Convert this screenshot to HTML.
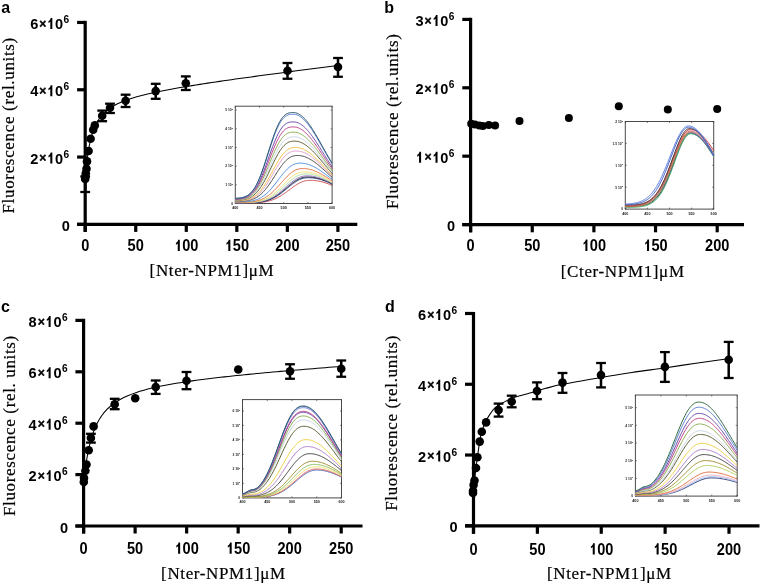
<!DOCTYPE html><html><head><meta charset="utf-8"><style>html,body{margin:0;padding:0;background:#fff;}svg{display:block;will-change:transform}</style></head><body>
<svg width="761" height="585" viewBox="0 0 761 585">
<rect width="761" height="585" fill="#fff"/>
<line x1="85.2" y1="20.85" x2="85.2" y2="231.90" stroke="#000" stroke-width="3.2"/>
<line x1="77.10" y1="224.35" x2="357.3" y2="224.35" stroke="#000" stroke-width="3.2"/>
<line x1="77.10" y1="224.35" x2="85.2" y2="224.35" stroke="#000" stroke-width="3.2"/>
<text transform="translate(61.70,230.85) scale(1,1.06)" font-family='"Liberation Sans", sans-serif' font-weight="bold" font-size="14.6">0</text>
<line x1="77.10" y1="157.05" x2="85.2" y2="157.05" stroke="#000" stroke-width="3.2"/>
<text transform="translate(30.20,163.55) scale(1,1.06)" font-family='"Liberation Sans", sans-serif' font-weight="bold" font-size="14.6">2</text>
<text x="39.35" y="162.20" font-family='"Liberation Sans", sans-serif' font-weight="bold" font-size="12.2" stroke="#000" stroke-width="0.35">×</text>
<path d="M52.34,163.55 L50.30,163.55 L50.30,156.28 C49.57,156.90 49.13,157.20 48.47,157.51 L48.47,155.66 C49.57,155.19 50.37,154.26 50.74,152.59 L52.34,152.59 Z" fill="#000"/>
<text transform="translate(55.10,163.55) scale(1,1.06)" font-family='"Liberation Sans", sans-serif' font-weight="bold" font-size="14.6">0</text>
<text transform="translate(63.60,157.55) scale(1,1.06)" font-family='"Liberation Sans", sans-serif' font-weight="bold" font-size="10.2">6</text>
<line x1="77.10" y1="89.75" x2="85.2" y2="89.75" stroke="#000" stroke-width="3.2"/>
<text transform="translate(30.20,96.25) scale(1,1.06)" font-family='"Liberation Sans", sans-serif' font-weight="bold" font-size="14.6">4</text>
<text x="39.35" y="94.90" font-family='"Liberation Sans", sans-serif' font-weight="bold" font-size="12.2" stroke="#000" stroke-width="0.35">×</text>
<path d="M52.34,96.25 L50.30,96.25 L50.30,88.98 C49.57,89.60 49.13,89.90 48.47,90.21 L48.47,88.36 C49.57,87.89 50.37,86.96 50.74,85.29 L52.34,85.29 Z" fill="#000"/>
<text transform="translate(55.10,96.25) scale(1,1.06)" font-family='"Liberation Sans", sans-serif' font-weight="bold" font-size="14.6">0</text>
<text transform="translate(63.60,90.25) scale(1,1.06)" font-family='"Liberation Sans", sans-serif' font-weight="bold" font-size="10.2">6</text>
<line x1="77.10" y1="22.45" x2="85.2" y2="22.45" stroke="#000" stroke-width="3.2"/>
<text transform="translate(30.20,28.95) scale(1,1.06)" font-family='"Liberation Sans", sans-serif' font-weight="bold" font-size="14.6">6</text>
<text x="39.35" y="27.60" font-family='"Liberation Sans", sans-serif' font-weight="bold" font-size="12.2" stroke="#000" stroke-width="0.35">×</text>
<path d="M52.34,28.95 L50.30,28.95 L50.30,21.68 C49.57,22.30 49.13,22.60 48.47,22.91 L48.47,21.06 C49.57,20.59 50.37,19.66 50.74,17.99 L52.34,17.99 Z" fill="#000"/>
<text transform="translate(55.10,28.95) scale(1,1.06)" font-family='"Liberation Sans", sans-serif' font-weight="bold" font-size="14.6">0</text>
<text transform="translate(63.60,22.95) scale(1,1.06)" font-family='"Liberation Sans", sans-serif' font-weight="bold" font-size="10.2">6</text>
<line x1="85.20" y1="224.35" x2="85.20" y2="231.90" stroke="#000" stroke-width="3.2"/>
<text transform="translate(81.14,251.00) scale(1,1.1)" font-family='"Liberation Sans", sans-serif' font-weight="bold" font-size="14.6">0</text>
<line x1="135.74" y1="224.35" x2="135.74" y2="231.90" stroke="#000" stroke-width="3.2"/>
<text transform="translate(127.62,251.00) scale(1,1.1)" font-family='"Liberation Sans", sans-serif' font-weight="bold" font-size="14.6">5</text>
<text transform="translate(135.74,251.00) scale(1,1.1)" font-family='"Liberation Sans", sans-serif' font-weight="bold" font-size="14.6">0</text>
<line x1="186.28" y1="224.35" x2="186.28" y2="231.90" stroke="#000" stroke-width="3.2"/>
<path d="M179.80,251.00 L177.75,251.00 L177.75,243.45 C177.02,244.09 176.59,244.42 175.93,244.74 L175.93,242.81 C177.02,242.33 177.83,241.36 178.19,239.63 L179.80,239.63 Z" fill="#000"/>
<text transform="translate(182.22,251.00) scale(1,1.1)" font-family='"Liberation Sans", sans-serif' font-weight="bold" font-size="14.6">0</text>
<text transform="translate(190.34,251.00) scale(1,1.1)" font-family='"Liberation Sans", sans-serif' font-weight="bold" font-size="14.6">0</text>
<line x1="236.82" y1="224.35" x2="236.82" y2="231.90" stroke="#000" stroke-width="3.2"/>
<path d="M230.34,251.00 L228.29,251.00 L228.29,243.45 C227.56,244.09 227.13,244.42 226.47,244.74 L226.47,242.81 C227.56,242.33 228.37,241.36 228.73,239.63 L230.34,239.63 Z" fill="#000"/>
<text transform="translate(232.76,251.00) scale(1,1.1)" font-family='"Liberation Sans", sans-serif' font-weight="bold" font-size="14.6">5</text>
<text transform="translate(240.88,251.00) scale(1,1.1)" font-family='"Liberation Sans", sans-serif' font-weight="bold" font-size="14.6">0</text>
<line x1="287.36" y1="224.35" x2="287.36" y2="231.90" stroke="#000" stroke-width="3.2"/>
<text transform="translate(275.18,251.00) scale(1,1.1)" font-family='"Liberation Sans", sans-serif' font-weight="bold" font-size="14.6">2</text>
<text transform="translate(283.30,251.00) scale(1,1.1)" font-family='"Liberation Sans", sans-serif' font-weight="bold" font-size="14.6">0</text>
<text transform="translate(291.42,251.00) scale(1,1.1)" font-family='"Liberation Sans", sans-serif' font-weight="bold" font-size="14.6">0</text>
<line x1="337.90" y1="224.35" x2="337.90" y2="231.90" stroke="#000" stroke-width="3.2"/>
<text transform="translate(325.72,251.00) scale(1,1.1)" font-family='"Liberation Sans", sans-serif' font-weight="bold" font-size="14.6">2</text>
<text transform="translate(333.84,251.00) scale(1,1.1)" font-family='"Liberation Sans", sans-serif' font-weight="bold" font-size="14.6">5</text>
<text transform="translate(341.96,251.00) scale(1,1.1)" font-family='"Liberation Sans", sans-serif' font-weight="bold" font-size="14.6">0</text>
<text x="149.6" y="276.3" font-family='"Liberation Serif", serif' font-size="17.0" stroke="#000" stroke-width="0.2" textLength="124" lengthAdjust="spacing">[Nter-NPM1]μM</text>
<text transform="translate(13.6,213.5) rotate(-90)" x="0" y="0" font-family='"Liberation Serif", serif' font-size="17.0" stroke="#000" stroke-width="0.2" textLength="175.8" lengthAdjust="spacing">Fluorescence (rel.units)</text>
<text x="1.24" y="13.05" font-family='"Liberation Sans", sans-serif' font-weight="bold" font-size="16">a</text>
<path d="M85.20,180.44 L85.54,175.98 L85.88,171.94 L86.22,168.28 L86.56,164.93 L86.89,161.86 L87.23,159.04 L87.57,156.44 L87.91,154.03 L88.25,151.78 L88.59,149.70 L88.93,147.75 L89.27,145.92 L89.61,144.21 L89.95,142.60 L90.28,141.08 L90.62,139.65 L90.96,138.30 L91.30,137.02 L91.64,135.80 L91.98,134.65 L92.32,133.55 L92.66,132.50 L93.00,131.50 L93.34,130.55 L93.67,129.64 L94.01,128.76 L94.35,127.93 L94.69,127.12 L95.03,126.35 L95.37,125.61 L95.71,124.90 L96.05,124.22 L96.39,123.56 L96.73,122.92 L97.06,122.30 L97.40,121.71 L97.74,121.14 L98.08,120.58 L98.42,120.04 L98.76,119.52 L99.10,119.02 L99.44,118.53 L99.78,118.06 L100.12,117.60 L100.45,117.15 L100.79,116.71 L101.13,116.29 L101.47,115.88 L101.81,115.48 L102.15,115.09 L102.49,114.71 L102.83,114.34 L103.17,113.98 L103.51,113.63 L103.84,113.28 L104.18,112.95 L104.52,112.62 L104.86,112.30 L105.20,111.99 L105.20,111.99 L109.15,108.79 L113.09,106.23 L117.04,104.09 L120.98,102.27 L124.93,100.68 L128.87,99.27 L132.82,98.00 L136.77,96.83 L140.71,95.76 L144.66,94.75 L148.60,93.81 L152.55,92.92 L156.49,92.07 L160.44,91.26 L164.39,90.47 L168.33,89.72 L172.28,88.99 L176.22,88.28 L180.17,87.59 L184.12,86.92 L188.06,86.26 L192.01,85.62 L195.95,84.98 L199.90,84.36 L203.84,83.75 L207.79,83.14 L211.74,82.55 L215.68,81.96 L219.63,81.38 L223.57,80.80 L227.52,80.23 L231.46,79.66 L235.41,79.10 L239.36,78.55 L243.30,78.00 L247.25,77.45 L251.19,76.90 L255.14,76.36 L259.08,75.83 L263.03,75.29 L266.98,74.76 L270.92,74.23 L274.87,73.70 L278.81,73.18 L282.76,72.65 L286.71,72.13 L290.65,71.61 L294.60,71.10 L298.54,70.58 L302.49,70.07 L306.43,69.56 L310.38,69.05 L314.33,68.54 L318.27,68.03 L322.22,67.52 L326.16,67.02 L330.11,66.51 L334.05,66.01 L338.00,65.51" fill="none" stroke="#000" stroke-width="1.05"/>
<line x1="85.2" y1="176.5" x2="85.2" y2="192" stroke="#000" stroke-width="2.5"/>
<line x1="80.3" y1="176.5" x2="90.10000000000001" y2="176.5" stroke="#000" stroke-width="2.3"/>
<line x1="80.3" y1="192" x2="90.10000000000001" y2="192" stroke="#000" stroke-width="2.3"/>
<line x1="102.2" y1="110.6" x2="102.2" y2="121.2" stroke="#000" stroke-width="2.5"/>
<line x1="97.3" y1="110.6" x2="107.10000000000001" y2="110.6" stroke="#000" stroke-width="2.3"/>
<line x1="97.3" y1="121.2" x2="107.10000000000001" y2="121.2" stroke="#000" stroke-width="2.3"/>
<line x1="110" y1="103.7" x2="110" y2="113" stroke="#000" stroke-width="2.5"/>
<line x1="105.1" y1="103.7" x2="114.9" y2="103.7" stroke="#000" stroke-width="2.3"/>
<line x1="105.1" y1="113" x2="114.9" y2="113" stroke="#000" stroke-width="2.3"/>
<line x1="125.6" y1="94.7" x2="125.6" y2="107" stroke="#000" stroke-width="2.5"/>
<line x1="120.69999999999999" y1="94.7" x2="130.5" y2="94.7" stroke="#000" stroke-width="2.3"/>
<line x1="120.69999999999999" y1="107" x2="130.5" y2="107" stroke="#000" stroke-width="2.3"/>
<line x1="155.7" y1="83.8" x2="155.7" y2="98.8" stroke="#000" stroke-width="2.5"/>
<line x1="150.79999999999998" y1="83.8" x2="160.6" y2="83.8" stroke="#000" stroke-width="2.3"/>
<line x1="150.79999999999998" y1="98.8" x2="160.6" y2="98.8" stroke="#000" stroke-width="2.3"/>
<line x1="185.8" y1="76.4" x2="185.8" y2="90" stroke="#000" stroke-width="2.5"/>
<line x1="180.9" y1="76.4" x2="190.70000000000002" y2="76.4" stroke="#000" stroke-width="2.3"/>
<line x1="180.9" y1="90" x2="190.70000000000002" y2="90" stroke="#000" stroke-width="2.3"/>
<line x1="287.5" y1="63" x2="287.5" y2="78.75" stroke="#000" stroke-width="2.5"/>
<line x1="282.6" y1="63" x2="292.4" y2="63" stroke="#000" stroke-width="2.3"/>
<line x1="282.6" y1="78.75" x2="292.4" y2="78.75" stroke="#000" stroke-width="2.3"/>
<line x1="338" y1="58" x2="338" y2="76.75" stroke="#000" stroke-width="2.5"/>
<line x1="333.1" y1="58" x2="342.9" y2="58" stroke="#000" stroke-width="2.3"/>
<line x1="333.1" y1="76.75" x2="342.9" y2="76.75" stroke="#000" stroke-width="2.3"/>
<circle cx="85.2" cy="179" r="4.3" fill="#000"/>
<circle cx="85.4" cy="176.5" r="4.3" fill="#000"/>
<circle cx="85.8" cy="173.3" r="4.3" fill="#000"/>
<circle cx="86.5" cy="168.7" r="4.3" fill="#000"/>
<circle cx="87" cy="161.4" r="4.3" fill="#000"/>
<circle cx="88.6" cy="151" r="4.3" fill="#000"/>
<circle cx="90.6" cy="138.8" r="4.3" fill="#000"/>
<circle cx="93.2" cy="129.7" r="4.3" fill="#000"/>
<circle cx="94.8" cy="125.4" r="4.3" fill="#000"/>
<circle cx="102.2" cy="115.8" r="4.3" fill="#000"/>
<circle cx="110" cy="107.8" r="4.3" fill="#000"/>
<circle cx="125.6" cy="100.7" r="4.3" fill="#000"/>
<circle cx="155.7" cy="91.1" r="4.3" fill="#000"/>
<circle cx="185.8" cy="83.2" r="4.3" fill="#000"/>
<circle cx="287.5" cy="70.75" r="4.3" fill="#000"/>
<circle cx="338" cy="67" r="4.3" fill="#000"/>
<rect x="235.3" y="106.2" width="96.80000000000001" height="97.3" fill="#fff" stroke="#4a4a4a" stroke-width="1.0"/>
<line x1="235.3" y1="203.5" x2="235.3" y2="202.0" stroke="#333" stroke-width="0.6"/>
<line x1="235.3" y1="106.2" x2="235.3" y2="107.7" stroke="#333" stroke-width="0.6"/>
<text x="235.3" y="208.9" text-anchor="middle" font-family='"Liberation Sans", sans-serif' font-weight="bold" font-size="3.7" fill="#1a1a1a">400</text>
<line x1="259.5" y1="203.5" x2="259.5" y2="202.0" stroke="#333" stroke-width="0.6"/>
<line x1="259.5" y1="106.2" x2="259.5" y2="107.7" stroke="#333" stroke-width="0.6"/>
<text x="259.5" y="208.9" text-anchor="middle" font-family='"Liberation Sans", sans-serif' font-weight="bold" font-size="3.7" fill="#1a1a1a">450</text>
<line x1="283.70000000000005" y1="203.5" x2="283.70000000000005" y2="202.0" stroke="#333" stroke-width="0.6"/>
<line x1="283.70000000000005" y1="106.2" x2="283.70000000000005" y2="107.7" stroke="#333" stroke-width="0.6"/>
<text x="283.70000000000005" y="208.9" text-anchor="middle" font-family='"Liberation Sans", sans-serif' font-weight="bold" font-size="3.7" fill="#1a1a1a">500</text>
<line x1="307.90000000000003" y1="203.5" x2="307.90000000000003" y2="202.0" stroke="#333" stroke-width="0.6"/>
<line x1="307.90000000000003" y1="106.2" x2="307.90000000000003" y2="107.7" stroke="#333" stroke-width="0.6"/>
<text x="307.90000000000003" y="208.9" text-anchor="middle" font-family='"Liberation Sans", sans-serif' font-weight="bold" font-size="3.7" fill="#1a1a1a">550</text>
<line x1="332.1" y1="203.5" x2="332.1" y2="202.0" stroke="#333" stroke-width="0.6"/>
<line x1="332.1" y1="106.2" x2="332.1" y2="107.7" stroke="#333" stroke-width="0.6"/>
<text x="332.1" y="208.9" text-anchor="middle" font-family='"Liberation Sans", sans-serif' font-weight="bold" font-size="3.7" fill="#1a1a1a">600</text>
<line x1="235.3" y1="203.5" x2="236.8" y2="203.5" stroke="#333" stroke-width="0.6"/>
<line x1="332.1" y1="203.5" x2="330.6" y2="203.5" stroke="#333" stroke-width="0.6"/>
<text x="233.0" y="204.8" text-anchor="end" font-family='"Liberation Sans", sans-serif' font-weight="bold" font-size="3.3" fill="#1a1a1a">0</text>
<line x1="235.3" y1="184.82437619961613" x2="236.8" y2="184.82437619961613" stroke="#333" stroke-width="0.6"/>
<line x1="332.1" y1="184.82437619961613" x2="330.6" y2="184.82437619961613" stroke="#333" stroke-width="0.6"/>
<text x="233.0" y="186.12437619961614" text-anchor="end" font-family='"Liberation Sans", sans-serif' font-weight="bold" font-size="3.3" fill="#1a1a1a">1 10<tspan dy="-1.3" font-size="2.4">6</tspan></text>
<line x1="235.3" y1="166.14875239923225" x2="236.8" y2="166.14875239923225" stroke="#333" stroke-width="0.6"/>
<line x1="332.1" y1="166.14875239923225" x2="330.6" y2="166.14875239923225" stroke="#333" stroke-width="0.6"/>
<text x="233.0" y="167.44875239923226" text-anchor="end" font-family='"Liberation Sans", sans-serif' font-weight="bold" font-size="3.3" fill="#1a1a1a">2 10<tspan dy="-1.3" font-size="2.4">6</tspan></text>
<line x1="235.3" y1="147.47312859884838" x2="236.8" y2="147.47312859884838" stroke="#333" stroke-width="0.6"/>
<line x1="332.1" y1="147.47312859884838" x2="330.6" y2="147.47312859884838" stroke="#333" stroke-width="0.6"/>
<text x="233.0" y="148.7731285988484" text-anchor="end" font-family='"Liberation Sans", sans-serif' font-weight="bold" font-size="3.3" fill="#1a1a1a">3 10<tspan dy="-1.3" font-size="2.4">6</tspan></text>
<line x1="235.3" y1="128.7975047984645" x2="236.8" y2="128.7975047984645" stroke="#333" stroke-width="0.6"/>
<line x1="332.1" y1="128.7975047984645" x2="330.6" y2="128.7975047984645" stroke="#333" stroke-width="0.6"/>
<text x="233.0" y="130.0975047984645" text-anchor="end" font-family='"Liberation Sans", sans-serif' font-weight="bold" font-size="3.3" fill="#1a1a1a">4 10<tspan dy="-1.3" font-size="2.4">6</tspan></text>
<line x1="235.3" y1="110.12188099808061" x2="236.8" y2="110.12188099808061" stroke="#333" stroke-width="0.6"/>
<line x1="332.1" y1="110.12188099808061" x2="330.6" y2="110.12188099808061" stroke="#333" stroke-width="0.6"/>
<text x="233.0" y="111.42188099808061" text-anchor="end" font-family='"Liberation Sans", sans-serif' font-weight="bold" font-size="3.3" fill="#1a1a1a">5 10<tspan dy="-1.3" font-size="2.4">6</tspan></text>
<path d="M235.30,203.12 L236.11,203.12 L236.93,203.12 L237.74,203.12 L238.55,203.12 L239.37,203.12 L240.18,203.12 L240.99,203.11 L241.81,203.11 L242.62,203.11 L243.43,203.10 L244.25,203.10 L245.06,203.09 L245.87,203.09 L246.69,203.08 L247.50,203.07 L248.32,203.06 L249.13,203.05 L249.94,203.03 L250.76,203.02 L251.57,203.00 L252.38,202.97 L253.20,202.95 L254.01,202.92 L254.82,202.89 L255.64,202.85 L256.45,202.81 L257.26,202.76 L258.08,202.70 L258.89,202.64 L259.70,202.57 L260.52,202.50 L261.33,202.41 L262.14,202.32 L262.96,202.21 L263.77,202.09 L264.58,201.97 L265.40,201.82 L266.21,201.67 L267.02,201.50 L267.84,201.31 L268.65,201.11 L269.46,200.89 L270.28,200.66 L271.09,200.40 L271.91,200.13 L272.72,199.83 L273.53,199.52 L274.35,199.19 L275.16,198.83 L275.97,198.46 L276.79,198.06 L277.60,197.65 L278.41,197.21 L279.23,196.75 L280.04,196.27 L280.85,195.78 L281.67,195.26 L282.48,194.73 L283.29,194.19 L284.11,193.63 L284.92,193.05 L285.73,192.47 L286.55,191.88 L287.36,191.27 L288.17,190.67 L288.99,190.06 L289.80,189.45 L290.61,188.84 L291.43,188.24 L292.24,187.64 L293.05,187.06 L293.87,186.48 L294.68,185.92 L295.49,185.38 L296.31,184.85 L297.12,184.35 L297.94,183.87 L298.75,183.41 L299.56,182.99 L300.38,182.59 L301.19,182.22 L302.00,181.88 L302.82,181.58 L303.63,181.31 L304.44,181.07 L305.26,180.87 L306.07,180.70 L306.88,180.57 L307.70,180.47 L308.51,180.40 L309.32,180.36 L310.14,180.34 L310.95,180.35 L311.76,180.37 L312.58,180.40 L313.39,180.45 L314.20,180.52 L315.02,180.60 L315.83,180.70 L316.64,180.81 L317.46,180.94 L318.27,181.08 L319.08,181.24 L319.90,181.41 L320.71,181.59 L321.53,181.79 L322.34,181.99 L323.15,182.22 L323.97,182.45 L324.78,182.69 L325.59,182.95 L326.41,183.22 L327.22,183.49 L328.03,183.78 L328.85,184.07 L329.66,184.38 L330.47,184.69 L331.29,185.01 L332.10,185.33" fill="none" stroke="#d05050" stroke-width="1.0"/>
<path d="M235.30,202.94 L236.11,202.94 L236.93,202.94 L237.74,202.94 L238.55,202.93 L239.37,202.93 L240.18,202.93 L240.99,202.93 L241.81,202.92 L242.62,202.92 L243.43,202.91 L244.25,202.90 L245.06,202.89 L245.87,202.88 L246.69,202.87 L247.50,202.86 L248.32,202.84 L249.13,202.83 L249.94,202.80 L250.76,202.78 L251.57,202.75 L252.38,202.72 L253.20,202.68 L254.01,202.64 L254.82,202.59 L255.64,202.54 L256.45,202.48 L257.26,202.41 L258.08,202.33 L258.89,202.24 L259.70,202.15 L260.52,202.04 L261.33,201.92 L262.14,201.78 L262.96,201.64 L263.77,201.48 L264.58,201.30 L265.40,201.11 L266.21,200.89 L267.02,200.66 L267.84,200.41 L268.65,200.15 L269.46,199.85 L270.28,199.54 L271.09,199.21 L271.91,198.85 L272.72,198.47 L273.53,198.07 L274.35,197.64 L275.16,197.19 L275.97,196.72 L276.79,196.22 L277.60,195.70 L278.41,195.16 L279.23,194.60 L280.04,194.02 L280.85,193.42 L281.67,192.80 L282.48,192.17 L283.29,191.53 L284.11,190.87 L284.92,190.21 L285.73,189.53 L286.55,188.86 L287.36,188.18 L288.17,187.50 L288.99,186.83 L289.80,186.16 L290.61,185.50 L291.43,184.86 L292.24,184.23 L293.05,183.61 L293.87,183.02 L294.68,182.45 L295.49,181.90 L296.31,181.38 L297.12,180.90 L297.94,180.44 L298.75,180.01 L299.56,179.62 L300.38,179.27 L301.19,178.95 L302.00,178.67 L302.82,178.43 L303.63,178.23 L304.44,178.06 L305.26,177.93 L306.07,177.83 L306.88,177.77 L307.70,177.74 L308.51,177.73 L309.32,177.74 L310.14,177.77 L310.95,177.81 L311.76,177.87 L312.58,177.95 L313.39,178.05 L314.20,178.16 L315.02,178.29 L315.83,178.44 L316.64,178.60 L317.46,178.78 L318.27,178.97 L319.08,179.18 L319.90,179.40 L320.71,179.64 L321.53,179.89 L322.34,180.16 L323.15,180.43 L323.97,180.72 L324.78,181.02 L325.59,181.33 L326.41,181.65 L327.22,181.98 L328.03,182.32 L328.85,182.67 L329.66,183.03 L330.47,183.39 L331.29,183.76 L332.10,184.14" fill="none" stroke="#3050a0" stroke-width="1.0"/>
<path d="M235.30,202.89 L236.11,202.89 L236.93,202.89 L237.74,202.88 L238.55,202.88 L239.37,202.88 L240.18,202.88 L240.99,202.87 L241.81,202.87 L242.62,202.86 L243.43,202.85 L244.25,202.85 L245.06,202.84 L245.87,202.83 L246.69,202.81 L247.50,202.80 L248.32,202.78 L249.13,202.76 L249.94,202.74 L250.76,202.71 L251.57,202.68 L252.38,202.64 L253.20,202.60 L254.01,202.55 L254.82,202.50 L255.64,202.44 L256.45,202.37 L257.26,202.30 L258.08,202.21 L258.89,202.12 L259.70,202.01 L260.52,201.89 L261.33,201.76 L262.14,201.62 L262.96,201.46 L263.77,201.28 L264.58,201.09 L265.40,200.88 L266.21,200.65 L267.02,200.40 L267.84,200.13 L268.65,199.84 L269.46,199.52 L270.28,199.19 L271.09,198.83 L271.91,198.45 L272.72,198.04 L273.53,197.61 L274.35,197.15 L275.16,196.67 L275.97,196.17 L276.79,195.64 L277.60,195.09 L278.41,194.52 L279.23,193.93 L280.04,193.32 L280.85,192.69 L281.67,192.05 L282.48,191.39 L283.29,190.72 L284.11,190.03 L284.92,189.34 L285.73,188.65 L286.55,187.95 L287.36,187.25 L288.17,186.56 L288.99,185.87 L289.80,185.19 L290.61,184.52 L291.43,183.87 L292.24,183.23 L293.05,182.61 L293.87,182.02 L294.68,181.45 L295.49,180.91 L296.31,180.40 L297.12,179.91 L297.94,179.47 L298.75,179.06 L299.56,178.68 L300.38,178.34 L301.19,178.04 L302.00,177.78 L302.82,177.56 L303.63,177.38 L304.44,177.23 L305.26,177.12 L306.07,177.04 L306.88,177.00 L307.70,176.98 L308.51,176.99 L309.32,177.01 L310.14,177.05 L310.95,177.10 L311.76,177.18 L312.58,177.27 L313.39,177.38 L314.20,177.51 L315.02,177.66 L315.83,177.82 L316.64,177.99 L317.46,178.19 L318.27,178.40 L319.08,178.62 L319.90,178.86 L320.71,179.11 L321.53,179.38 L322.34,179.66 L323.15,179.95 L323.97,180.25 L324.78,180.57 L325.59,180.89 L326.41,181.23 L327.22,181.58 L328.03,181.93 L328.85,182.30 L329.66,182.67 L330.47,183.05 L331.29,183.43 L332.10,183.82" fill="none" stroke="#222222" stroke-width="1.0"/>
<path d="M235.30,202.81 L236.11,202.81 L236.93,202.81 L237.74,202.81 L238.55,202.80 L239.37,202.80 L240.18,202.80 L240.99,202.79 L241.81,202.78 L242.62,202.78 L243.43,202.77 L244.25,202.76 L245.06,202.75 L245.87,202.74 L246.69,202.72 L247.50,202.70 L248.32,202.68 L249.13,202.66 L249.94,202.63 L250.76,202.60 L251.57,202.56 L252.38,202.52 L253.20,202.47 L254.01,202.42 L254.82,202.36 L255.64,202.29 L256.45,202.21 L257.26,202.12 L258.08,202.03 L258.89,201.92 L259.70,201.80 L260.52,201.66 L261.33,201.51 L262.14,201.35 L262.96,201.16 L263.77,200.96 L264.58,200.75 L265.40,200.51 L266.21,200.25 L267.02,199.97 L267.84,199.67 L268.65,199.35 L269.46,199.00 L270.28,198.63 L271.09,198.23 L271.91,197.80 L272.72,197.36 L273.53,196.88 L274.35,196.38 L275.16,195.86 L275.97,195.31 L276.79,194.74 L277.60,194.14 L278.41,193.53 L279.23,192.89 L280.04,192.24 L280.85,191.56 L281.67,190.88 L282.48,190.18 L283.29,189.46 L284.11,188.74 L284.92,188.02 L285.73,187.29 L286.55,186.57 L287.36,185.84 L288.17,185.12 L288.99,184.41 L289.80,183.72 L290.61,183.03 L291.43,182.37 L292.24,181.73 L293.05,181.11 L293.87,180.52 L294.68,179.95 L295.49,179.42 L296.31,178.92 L297.12,178.45 L297.94,178.03 L298.75,177.64 L299.56,177.28 L300.38,176.97 L301.19,176.70 L302.00,176.47 L302.82,176.28 L303.63,176.12 L304.44,176.01 L305.26,175.93 L306.07,175.88 L306.88,175.86 L307.70,175.86 L308.51,175.89 L309.32,175.93 L310.14,175.98 L310.95,176.06 L311.76,176.16 L312.58,176.27 L313.39,176.40 L314.20,176.55 L315.02,176.72 L315.83,176.90 L316.64,177.10 L317.46,177.32 L318.27,177.55 L319.08,177.80 L319.90,178.06 L320.71,178.33 L321.53,178.62 L322.34,178.93 L323.15,179.24 L323.97,179.57 L324.78,179.91 L325.59,180.26 L326.41,180.62 L327.22,180.99 L328.03,181.37 L328.85,181.75 L329.66,182.15 L330.47,182.55 L331.29,182.95 L332.10,183.37" fill="none" stroke="#9070c0" stroke-width="1.0"/>
<path d="M235.30,202.68 L236.11,202.68 L236.93,202.68 L237.74,202.67 L238.55,202.67 L239.37,202.66 L240.18,202.66 L240.99,202.65 L241.81,202.65 L242.62,202.64 L243.43,202.63 L244.25,202.61 L245.06,202.60 L245.87,202.58 L246.69,202.56 L247.50,202.54 L248.32,202.51 L249.13,202.48 L249.94,202.45 L250.76,202.41 L251.57,202.36 L252.38,202.31 L253.20,202.25 L254.01,202.18 L254.82,202.11 L255.64,202.02 L256.45,201.92 L257.26,201.81 L258.08,201.69 L258.89,201.56 L259.70,201.40 L260.52,201.24 L261.33,201.05 L262.14,200.85 L262.96,200.63 L263.77,200.39 L264.58,200.13 L265.40,199.84 L266.21,199.53 L267.02,199.20 L267.84,198.84 L268.65,198.45 L269.46,198.04 L270.28,197.60 L271.09,197.14 L271.91,196.64 L272.72,196.12 L273.53,195.58 L274.35,195.00 L275.16,194.40 L275.97,193.78 L276.79,193.13 L277.60,192.46 L278.41,191.76 L279.23,191.05 L280.04,190.32 L280.85,189.58 L281.67,188.83 L282.48,188.06 L283.29,187.29 L284.11,186.51 L284.92,185.73 L285.73,184.96 L286.55,184.19 L287.36,183.43 L288.17,182.68 L288.99,181.94 L289.80,181.23 L290.61,180.53 L291.43,179.86 L292.24,179.21 L293.05,178.60 L293.87,178.02 L294.68,177.47 L295.49,176.96 L296.31,176.49 L297.12,176.06 L297.94,175.67 L298.75,175.32 L299.56,175.01 L300.38,174.75 L301.19,174.52 L302.00,174.34 L302.82,174.20 L303.63,174.10 L304.44,174.03 L305.26,174.00 L306.07,173.99 L306.88,174.00 L307.70,174.04 L308.51,174.09 L309.32,174.16 L310.14,174.25 L310.95,174.36 L311.76,174.49 L312.58,174.64 L313.39,174.81 L314.20,175.00 L315.02,175.20 L315.83,175.42 L316.64,175.66 L317.46,175.91 L318.27,176.19 L319.08,176.47 L319.90,176.77 L320.71,177.09 L321.53,177.42 L322.34,177.76 L323.15,178.12 L323.97,178.49 L324.78,178.87 L325.59,179.25 L326.41,179.65 L327.22,180.06 L328.03,180.48 L328.85,180.90 L329.66,181.33 L330.47,181.77 L331.29,182.21 L332.10,182.66" fill="none" stroke="#b0e0a0" stroke-width="1.0"/>
<path d="M235.30,202.54 L236.11,202.53 L236.93,202.53 L237.74,202.53 L238.55,202.52 L239.37,202.52 L240.18,202.51 L240.99,202.50 L241.81,202.49 L242.62,202.48 L243.43,202.47 L244.25,202.45 L245.06,202.43 L245.87,202.41 L246.69,202.38 L247.50,202.35 L248.32,202.32 L249.13,202.28 L249.94,202.24 L250.76,202.18 L251.57,202.13 L252.38,202.06 L253.20,201.98 L254.01,201.90 L254.82,201.80 L255.64,201.69 L256.45,201.57 L257.26,201.43 L258.08,201.28 L258.89,201.11 L259.70,200.93 L260.52,200.72 L261.33,200.49 L262.14,200.25 L262.96,199.98 L263.77,199.68 L264.58,199.36 L265.40,199.02 L266.21,198.65 L267.02,198.25 L267.84,197.82 L268.65,197.36 L269.46,196.88 L270.28,196.36 L271.09,195.82 L271.91,195.24 L272.72,194.64 L273.53,194.01 L274.35,193.35 L275.16,192.66 L275.97,191.95 L276.79,191.22 L277.60,190.46 L278.41,189.69 L279.23,188.90 L280.04,188.09 L280.85,187.28 L281.67,186.45 L282.48,185.62 L283.29,184.79 L284.11,183.96 L284.92,183.13 L285.73,182.31 L286.55,181.50 L287.36,180.71 L288.17,179.94 L288.99,179.18 L289.80,178.46 L290.61,177.76 L291.43,177.09 L292.24,176.46 L293.05,175.86 L293.87,175.30 L294.68,174.78 L295.49,174.31 L296.31,173.88 L297.12,173.49 L297.94,173.15 L298.75,172.85 L299.56,172.59 L300.38,172.39 L301.19,172.22 L302.00,172.10 L302.82,172.01 L303.63,171.96 L304.44,171.94 L305.26,171.94 L306.07,171.97 L306.88,172.01 L307.70,172.08 L308.51,172.16 L309.32,172.27 L310.14,172.40 L310.95,172.55 L311.76,172.72 L312.58,172.91 L313.39,173.12 L314.20,173.35 L315.02,173.59 L315.83,173.86 L316.64,174.14 L317.46,174.44 L318.27,174.75 L319.08,175.08 L319.90,175.43 L320.71,175.79 L321.53,176.17 L322.34,176.55 L323.15,176.95 L323.97,177.36 L324.78,177.78 L325.59,178.22 L326.41,178.66 L327.22,179.11 L328.03,179.56 L328.85,180.03 L329.66,180.50 L330.47,180.97 L331.29,181.45 L332.10,181.93" fill="none" stroke="#f0e070" stroke-width="1.0"/>
<path d="M235.30,202.30 L236.11,202.29 L236.93,202.29 L237.74,202.28 L238.55,202.28 L239.37,202.27 L240.18,202.26 L240.99,202.24 L241.81,202.23 L242.62,202.21 L243.43,202.19 L244.25,202.17 L245.06,202.14 L245.87,202.11 L246.69,202.07 L247.50,202.03 L248.32,201.98 L249.13,201.92 L249.94,201.86 L250.76,201.78 L251.57,201.70 L252.38,201.60 L253.20,201.49 L254.01,201.37 L254.82,201.24 L255.64,201.08 L256.45,200.91 L257.26,200.72 L258.08,200.51 L258.89,200.28 L259.70,200.03 L260.52,199.75 L261.33,199.44 L262.14,199.11 L262.96,198.75 L263.77,198.36 L264.58,197.93 L265.40,197.48 L266.21,197.00 L267.02,196.48 L267.84,195.93 L268.65,195.34 L269.46,194.72 L270.28,194.07 L271.09,193.39 L271.91,192.68 L272.72,191.93 L273.53,191.16 L274.35,190.36 L275.16,189.54 L275.97,188.69 L276.79,187.82 L277.60,186.93 L278.41,186.03 L279.23,185.12 L280.04,184.20 L280.85,183.28 L281.67,182.36 L282.48,181.43 L283.29,180.52 L284.11,179.62 L284.92,178.73 L285.73,177.86 L286.55,177.02 L287.36,176.20 L288.17,175.41 L288.99,174.65 L289.80,173.94 L290.61,173.26 L291.43,172.62 L292.24,172.02 L293.05,171.47 L293.87,170.97 L294.68,170.52 L295.49,170.12 L296.31,169.76 L297.12,169.46 L297.94,169.20 L298.75,168.99 L299.56,168.83 L300.38,168.71 L301.19,168.63 L302.00,168.59 L302.82,168.58 L303.63,168.59 L304.44,168.62 L305.26,168.67 L306.07,168.75 L306.88,168.85 L307.70,168.98 L308.51,169.13 L309.32,169.30 L310.14,169.49 L310.95,169.71 L311.76,169.95 L312.58,170.20 L313.39,170.48 L314.20,170.78 L315.02,171.10 L315.83,171.43 L316.64,171.79 L317.46,172.16 L318.27,172.55 L319.08,172.95 L319.90,173.37 L320.71,173.80 L321.53,174.24 L322.34,174.70 L323.15,175.17 L323.97,175.65 L324.78,176.14 L325.59,176.64 L326.41,177.15 L327.22,177.67 L328.03,178.19 L328.85,178.72 L329.66,179.25 L330.47,179.78 L331.29,180.32 L332.10,180.86" fill="none" stroke="#e07040" stroke-width="1.0"/>
<path d="M235.30,201.91 L236.11,201.90 L236.93,201.90 L237.74,201.88 L238.55,201.87 L239.37,201.86 L240.18,201.84 L240.99,201.82 L241.81,201.79 L242.62,201.76 L243.43,201.73 L244.25,201.69 L245.06,201.64 L245.87,201.59 L246.69,201.52 L247.50,201.45 L248.32,201.37 L249.13,201.27 L249.94,201.16 L250.76,201.04 L251.57,200.90 L252.38,200.75 L253.20,200.57 L254.01,200.37 L254.82,200.15 L255.64,199.91 L256.45,199.64 L257.26,199.34 L258.08,199.02 L258.89,198.66 L259.70,198.27 L260.52,197.85 L261.33,197.39 L262.14,196.89 L262.96,196.36 L263.77,195.79 L264.58,195.18 L265.40,194.53 L266.21,193.84 L267.02,193.11 L267.84,192.34 L268.65,191.53 L269.46,190.69 L270.28,189.81 L271.09,188.90 L271.91,187.96 L272.72,186.99 L273.53,185.99 L274.35,184.97 L275.16,183.94 L275.97,182.88 L276.79,181.82 L277.60,180.75 L278.41,179.67 L279.23,178.60 L280.04,177.54 L280.85,176.48 L281.67,175.44 L282.48,174.43 L283.29,173.43 L284.11,172.47 L284.92,171.54 L285.73,170.64 L286.55,169.79 L287.36,168.98 L288.17,168.22 L288.99,167.51 L289.80,166.85 L290.61,166.25 L291.43,165.70 L292.24,165.21 L293.05,164.77 L293.87,164.39 L294.68,164.06 L295.49,163.79 L296.31,163.58 L297.12,163.41 L297.94,163.29 L298.75,163.21 L299.56,163.17 L300.38,163.16 L301.19,163.17 L302.00,163.21 L302.82,163.28 L303.63,163.37 L304.44,163.50 L305.26,163.64 L306.07,163.82 L306.88,164.02 L307.70,164.25 L308.51,164.50 L309.32,164.78 L310.14,165.08 L310.95,165.40 L311.76,165.75 L312.58,166.12 L313.39,166.51 L314.20,166.92 L315.02,167.36 L315.83,167.81 L316.64,168.28 L317.46,168.76 L318.27,169.27 L319.08,169.78 L319.90,170.32 L320.71,170.86 L321.53,171.42 L322.34,171.99 L323.15,172.57 L323.97,173.16 L324.78,173.75 L325.59,174.36 L326.41,174.97 L327.22,175.58 L328.03,176.20 L328.85,176.83 L329.66,177.45 L330.47,178.08 L331.29,178.71 L332.10,179.34" fill="none" stroke="#4a90e0" stroke-width="1.0"/>
<path d="M235.30,201.36 L236.11,201.34 L236.93,201.33 L237.74,201.31 L238.55,201.28 L239.37,201.26 L240.18,201.22 L240.99,201.18 L241.81,201.14 L242.62,201.08 L243.43,201.02 L244.25,200.95 L245.06,200.86 L245.87,200.76 L246.69,200.65 L247.50,200.52 L248.32,200.37 L249.13,200.20 L249.94,200.01 L250.76,199.80 L251.57,199.56 L252.38,199.29 L253.20,198.99 L254.01,198.66 L254.82,198.29 L255.64,197.89 L256.45,197.45 L257.26,196.96 L258.08,196.43 L258.89,195.86 L259.70,195.24 L260.52,194.58 L261.33,193.86 L262.14,193.10 L262.96,192.29 L263.77,191.43 L264.58,190.52 L265.40,189.57 L266.21,188.56 L267.02,187.52 L267.84,186.43 L268.65,185.31 L269.46,184.15 L270.28,182.95 L271.09,181.73 L271.91,180.49 L272.72,179.22 L273.53,177.95 L274.35,176.66 L275.16,175.37 L275.97,174.08 L276.79,172.80 L277.60,171.53 L278.41,170.29 L279.23,169.07 L280.04,167.87 L280.85,166.72 L281.67,165.60 L282.48,164.53 L283.29,163.51 L284.11,162.55 L284.92,161.64 L285.73,160.79 L286.55,160.00 L287.36,159.28 L288.17,158.62 L288.99,158.03 L289.80,157.51 L290.61,157.05 L291.43,156.66 L292.24,156.33 L293.05,156.07 L293.87,155.86 L294.68,155.70 L295.49,155.60 L296.31,155.53 L297.12,155.51 L297.94,155.51 L298.75,155.53 L299.56,155.59 L300.38,155.68 L301.19,155.81 L302.00,155.97 L302.82,156.16 L303.63,156.38 L304.44,156.63 L305.26,156.92 L306.07,157.23 L306.88,157.57 L307.70,157.95 L308.51,158.35 L309.32,158.77 L310.14,159.23 L310.95,159.71 L311.76,160.21 L312.58,160.74 L313.39,161.28 L314.20,161.85 L315.02,162.44 L315.83,163.05 L316.64,163.68 L317.46,164.32 L318.27,164.98 L319.08,165.65 L319.90,166.34 L320.71,167.04 L321.53,167.75 L322.34,168.46 L323.15,169.19 L323.97,169.92 L324.78,170.66 L325.59,171.40 L326.41,172.14 L327.22,172.89 L328.03,173.64 L328.85,174.39 L329.66,175.13 L330.47,175.88 L331.29,176.62 L332.10,177.36" fill="none" stroke="#444444" stroke-width="1.0"/>
<path d="M235.30,201.03 L236.11,201.01 L236.93,200.99 L237.74,200.97 L238.55,200.93 L239.37,200.90 L240.18,200.85 L240.99,200.80 L241.81,200.74 L242.62,200.67 L243.43,200.59 L244.25,200.49 L245.06,200.38 L245.87,200.25 L246.69,200.10 L247.50,199.93 L248.32,199.74 L249.13,199.52 L249.94,199.27 L250.76,199.00 L251.57,198.69 L252.38,198.34 L253.20,197.96 L254.01,197.54 L254.82,197.07 L255.64,196.56 L256.45,196.00 L257.26,195.40 L258.08,194.74 L258.89,194.03 L259.70,193.26 L260.52,192.44 L261.33,191.57 L262.14,190.64 L262.96,189.66 L263.77,188.63 L264.58,187.54 L265.40,186.40 L266.21,185.22 L267.02,183.99 L267.84,182.73 L268.65,181.42 L269.46,180.08 L270.28,178.72 L271.09,177.33 L271.91,175.93 L272.72,174.51 L273.53,173.09 L274.35,171.68 L275.16,170.27 L275.97,168.87 L276.79,167.50 L277.60,166.15 L278.41,164.83 L279.23,163.56 L280.04,162.33 L280.85,161.15 L281.67,160.02 L282.48,158.95 L283.29,157.94 L284.11,157.00 L284.92,156.13 L285.73,155.33 L286.55,154.60 L287.36,153.94 L288.17,153.35 L288.99,152.84 L289.80,152.40 L290.61,152.03 L291.43,151.72 L292.24,151.48 L293.05,151.29 L293.87,151.16 L294.68,151.08 L295.49,151.03 L296.31,151.02 L297.12,151.03 L297.94,151.08 L298.75,151.16 L299.56,151.28 L300.38,151.44 L301.19,151.63 L302.00,151.86 L302.82,152.12 L303.63,152.41 L304.44,152.74 L305.26,153.10 L306.07,153.50 L306.88,153.92 L307.70,154.38 L308.51,154.86 L309.32,155.37 L310.14,155.91 L310.95,156.48 L311.76,157.07 L312.58,157.68 L313.39,158.32 L314.20,158.98 L315.02,159.66 L315.83,160.35 L316.64,161.07 L317.46,161.80 L318.27,162.55 L319.08,163.31 L319.90,164.08 L320.71,164.86 L321.53,165.65 L322.34,166.45 L323.15,167.25 L323.97,168.07 L324.78,168.88 L325.59,169.70 L326.41,170.52 L327.22,171.34 L328.03,172.16 L328.85,172.97 L329.66,173.79 L330.47,174.60 L331.29,175.40 L332.10,176.20" fill="none" stroke="#e0a0d0" stroke-width="1.0"/>
<path d="M235.30,200.77 L236.11,200.75 L236.93,200.72 L237.74,200.69 L238.55,200.66 L239.37,200.61 L240.18,200.56 L240.99,200.50 L241.81,200.42 L242.62,200.34 L243.43,200.24 L244.25,200.12 L245.06,199.99 L245.87,199.83 L246.69,199.65 L247.50,199.45 L248.32,199.22 L249.13,198.96 L249.94,198.67 L250.76,198.34 L251.57,197.98 L252.38,197.57 L253.20,197.12 L254.01,196.62 L254.82,196.07 L255.64,195.47 L256.45,194.82 L257.26,194.11 L258.08,193.35 L258.89,192.52 L259.70,191.64 L260.52,190.70 L261.33,189.70 L262.14,188.64 L262.96,187.52 L263.77,186.35 L264.58,185.13 L265.40,183.85 L266.21,182.52 L267.02,181.16 L267.84,179.75 L268.65,178.31 L269.46,176.84 L270.28,175.35 L271.09,173.84 L271.91,172.32 L272.72,170.80 L273.53,169.28 L274.35,167.77 L275.16,166.27 L275.97,164.81 L276.79,163.37 L277.60,161.97 L278.41,160.61 L279.23,159.30 L280.04,158.05 L280.85,156.86 L281.67,155.73 L282.48,154.67 L283.29,153.68 L284.11,152.77 L284.92,151.93 L285.73,151.16 L286.55,150.48 L287.36,149.87 L288.17,149.34 L288.99,148.88 L289.80,148.50 L290.61,148.18 L291.43,147.93 L292.24,147.75 L293.05,147.61 L293.87,147.53 L294.68,147.49 L295.49,147.47 L296.31,147.48 L297.12,147.53 L297.94,147.62 L298.75,147.75 L299.56,147.91 L300.38,148.12 L301.19,148.36 L302.00,148.64 L302.82,148.95 L303.63,149.30 L304.44,149.69 L305.26,150.11 L306.07,150.56 L306.88,151.05 L307.70,151.57 L308.51,152.12 L309.32,152.69 L310.14,153.30 L310.95,153.93 L311.76,154.59 L312.58,155.27 L313.39,155.98 L314.20,156.70 L315.02,157.45 L315.83,158.22 L316.64,159.00 L317.46,159.80 L318.27,160.61 L319.08,161.44 L319.90,162.27 L320.71,163.12 L321.53,163.97 L322.34,164.84 L323.15,165.70 L323.97,166.58 L324.78,167.45 L325.59,168.33 L326.41,169.21 L327.22,170.08 L328.03,170.95 L328.85,171.82 L329.66,172.69 L330.47,173.55 L331.29,174.40 L332.10,175.25" fill="none" stroke="#f0c040" stroke-width="1.0"/>
<path d="M235.30,200.31 L236.11,200.28 L236.93,200.25 L237.74,200.21 L238.55,200.16 L239.37,200.11 L240.18,200.04 L240.99,199.96 L241.81,199.86 L242.62,199.75 L243.43,199.62 L244.25,199.47 L245.06,199.29 L245.87,199.09 L246.69,198.86 L247.50,198.60 L248.32,198.30 L249.13,197.97 L249.94,197.59 L250.76,197.17 L251.57,196.70 L252.38,196.17 L253.20,195.60 L254.01,194.96 L254.82,194.27 L255.64,193.51 L256.45,192.69 L257.26,191.80 L258.08,190.85 L258.89,189.82 L259.70,188.73 L260.52,187.57 L261.33,186.34 L262.14,185.05 L262.96,183.70 L263.77,182.29 L264.58,180.82 L265.40,179.30 L266.21,177.73 L267.02,176.12 L267.84,174.48 L268.65,172.81 L269.46,171.12 L270.28,169.41 L271.09,167.70 L271.91,165.99 L272.72,164.29 L273.53,162.61 L274.35,160.96 L275.16,159.34 L275.97,157.76 L276.79,156.22 L277.60,154.74 L278.41,153.33 L279.23,151.98 L280.04,150.70 L280.85,149.49 L281.67,148.37 L282.48,147.33 L283.29,146.37 L284.11,145.50 L284.92,144.72 L285.73,144.02 L286.55,143.40 L287.36,142.87 L288.17,142.42 L288.99,142.05 L289.80,141.75 L290.61,141.52 L291.43,141.34 L292.24,141.23 L293.05,141.16 L293.87,141.13 L294.68,141.12 L295.49,141.15 L296.31,141.22 L297.12,141.33 L297.94,141.48 L298.75,141.68 L299.56,141.92 L300.38,142.20 L301.19,142.53 L302.00,142.90 L302.82,143.30 L303.63,143.75 L304.44,144.23 L305.26,144.75 L306.07,145.31 L306.88,145.90 L307.70,146.52 L308.51,147.18 L309.32,147.87 L310.14,148.59 L310.95,149.34 L311.76,150.11 L312.58,150.91 L313.39,151.73 L314.20,152.57 L315.02,153.44 L315.83,154.32 L316.64,155.22 L317.46,156.13 L318.27,157.06 L319.08,158.00 L319.90,158.95 L320.71,159.91 L321.53,160.88 L322.34,161.85 L323.15,162.83 L323.97,163.81 L324.78,164.79 L325.59,165.77 L326.41,166.74 L327.22,167.72 L328.03,168.69 L328.85,169.65 L329.66,170.61 L330.47,171.56 L331.29,172.50 L332.10,173.42" fill="none" stroke="#5a5a30" stroke-width="1.0"/>
<path d="M235.30,200.00 L236.11,199.97 L236.93,199.94 L237.74,199.89 L238.55,199.84 L239.37,199.77 L240.18,199.69 L240.99,199.60 L241.81,199.49 L242.62,199.36 L243.43,199.21 L244.25,199.04 L245.06,198.84 L245.87,198.61 L246.69,198.35 L247.50,198.05 L248.32,197.70 L249.13,197.32 L249.94,196.89 L250.76,196.40 L251.57,195.86 L252.38,195.26 L253.20,194.60 L254.01,193.88 L254.82,193.09 L255.64,192.22 L256.45,191.29 L257.26,190.28 L258.08,189.20 L258.89,188.05 L259.70,186.82 L260.52,185.51 L261.33,184.14 L262.14,182.69 L262.96,181.19 L263.77,179.61 L264.58,177.99 L265.40,176.31 L266.21,174.59 L267.02,172.82 L267.84,171.03 L268.65,169.21 L269.46,167.38 L270.28,165.54 L271.09,163.70 L271.91,161.87 L272.72,160.06 L273.53,158.28 L274.35,156.53 L275.16,154.83 L275.97,153.18 L276.79,151.59 L277.60,150.06 L278.41,148.61 L279.23,147.23 L280.04,145.93 L280.85,144.72 L281.67,143.60 L282.48,142.57 L283.29,141.63 L284.11,140.78 L284.92,140.03 L285.73,139.36 L286.55,138.79 L287.36,138.30 L288.17,137.89 L288.99,137.56 L289.80,137.30 L290.61,137.10 L291.43,136.97 L292.24,136.88 L293.05,136.84 L293.87,136.83 L294.68,136.84 L295.49,136.89 L296.31,136.99 L297.12,137.14 L297.94,137.34 L298.75,137.58 L299.56,137.86 L300.38,138.20 L301.19,138.57 L302.00,138.99 L302.82,139.46 L303.63,139.96 L304.44,140.50 L305.26,141.09 L306.07,141.71 L306.88,142.37 L307.70,143.06 L308.51,143.79 L309.32,144.55 L310.14,145.34 L310.95,146.16 L311.76,147.01 L312.58,147.88 L313.39,148.78 L314.20,149.70 L315.02,150.64 L315.83,151.60 L316.64,152.57 L317.46,153.56 L318.27,154.57 L319.08,155.58 L319.90,156.61 L320.71,157.65 L321.53,158.69 L322.34,159.73 L323.15,160.78 L323.97,161.83 L324.78,162.88 L325.59,163.93 L326.41,164.97 L327.22,166.02 L328.03,167.05 L328.85,168.08 L329.66,169.10 L330.47,170.10 L331.29,171.10 L332.10,172.09" fill="none" stroke="#c8d4e4" stroke-width="1.0"/>
<path d="M235.30,199.67 L236.11,199.64 L236.93,199.60 L237.74,199.55 L238.55,199.49 L239.37,199.42 L240.18,199.33 L240.99,199.23 L241.81,199.11 L242.62,198.96 L243.43,198.79 L244.25,198.60 L245.06,198.37 L245.87,198.11 L246.69,197.82 L247.50,197.48 L248.32,197.09 L249.13,196.65 L249.94,196.16 L250.76,195.61 L251.57,195.00 L252.38,194.33 L253.20,193.58 L254.01,192.76 L254.82,191.87 L255.64,190.90 L256.45,189.84 L257.26,188.71 L258.08,187.50 L258.89,186.20 L259.70,184.83 L260.52,183.37 L261.33,181.84 L262.14,180.24 L262.96,178.57 L263.77,176.83 L264.58,175.04 L265.40,173.19 L266.21,171.30 L267.02,169.38 L267.84,167.42 L268.65,165.45 L269.46,163.47 L270.28,161.49 L271.09,159.52 L271.91,157.56 L272.72,155.64 L273.53,153.75 L274.35,151.90 L275.16,150.12 L275.97,148.39 L276.79,146.74 L277.60,145.16 L278.41,143.66 L279.23,142.25 L280.04,140.93 L280.85,139.71 L281.67,138.58 L282.48,137.56 L283.29,136.63 L284.11,135.80 L284.92,135.07 L285.73,134.43 L286.55,133.88 L287.36,133.42 L288.17,133.05 L288.99,132.75 L289.80,132.52 L290.61,132.36 L291.43,132.25 L292.24,132.19 L293.05,132.16 L293.87,132.16 L294.68,132.19 L295.49,132.27 L296.31,132.40 L297.12,132.59 L297.94,132.82 L298.75,133.10 L299.56,133.43 L300.38,133.81 L301.19,134.24 L302.00,134.71 L302.82,135.23 L303.63,135.80 L304.44,136.40 L305.26,137.05 L306.07,137.74 L306.88,138.46 L307.70,139.23 L308.51,140.03 L309.32,140.86 L310.14,141.73 L310.95,142.62 L311.76,143.55 L312.58,144.50 L313.39,145.48 L314.20,146.48 L315.02,147.50 L315.83,148.54 L316.64,149.60 L317.46,150.67 L318.27,151.76 L319.08,152.85 L319.90,153.96 L320.71,155.07 L321.53,156.20 L322.34,157.32 L323.15,158.45 L323.97,159.57 L324.78,160.70 L325.59,161.82 L326.41,162.94 L327.22,164.06 L328.03,165.16 L328.85,166.26 L329.66,167.35 L330.47,168.42 L331.29,169.48 L332.10,170.53" fill="none" stroke="#8cb050" stroke-width="1.0"/>
<path d="M235.30,199.31 L236.11,199.27 L236.93,199.23 L237.74,199.18 L238.55,199.11 L239.37,199.03 L240.18,198.94 L240.99,198.83 L241.81,198.69 L242.62,198.54 L243.43,198.35 L244.25,198.14 L245.06,197.89 L245.87,197.60 L246.69,197.26 L247.50,196.88 L248.32,196.45 L249.13,195.97 L249.94,195.42 L250.76,194.80 L251.57,194.12 L252.38,193.36 L253.20,192.52 L254.01,191.61 L254.82,190.60 L255.64,189.52 L256.45,188.34 L257.26,187.07 L258.08,185.72 L258.89,184.27 L259.70,182.74 L260.52,181.12 L261.33,179.42 L262.14,177.64 L262.96,175.79 L263.77,173.88 L264.58,171.90 L265.40,169.88 L266.21,167.81 L267.02,165.70 L267.84,163.58 L268.65,161.44 L269.46,159.29 L270.28,157.15 L271.09,155.03 L271.91,152.94 L272.72,150.88 L273.53,148.88 L274.35,146.93 L275.16,145.04 L275.97,143.23 L276.79,141.50 L277.60,139.86 L278.41,138.31 L279.23,136.86 L280.04,135.51 L280.85,134.27 L281.67,133.13 L282.48,132.10 L283.29,131.17 L284.11,130.35 L284.92,129.63 L285.73,129.01 L286.55,128.49 L287.36,128.05 L288.17,127.70 L288.99,127.43 L289.80,127.23 L290.61,127.08 L291.43,126.99 L292.24,126.95 L293.05,126.93 L293.87,126.93 L294.68,126.98 L295.49,127.09 L296.31,127.25 L297.12,127.46 L297.94,127.73 L298.75,128.05 L299.56,128.43 L300.38,128.86 L301.19,129.33 L302.00,129.86 L302.82,130.44 L303.63,131.06 L304.44,131.73 L305.26,132.45 L306.07,133.20 L306.88,134.00 L307.70,134.84 L308.51,135.72 L309.32,136.63 L310.14,137.58 L310.95,138.55 L311.76,139.56 L312.58,140.60 L313.39,141.66 L314.20,142.75 L315.02,143.86 L315.83,144.99 L316.64,146.14 L317.46,147.30 L318.27,148.48 L319.08,149.66 L319.90,150.86 L320.71,152.06 L321.53,153.27 L322.34,154.49 L323.15,155.70 L323.97,156.92 L324.78,158.13 L325.59,159.34 L326.41,160.54 L327.22,161.73 L328.03,162.92 L328.85,164.10 L329.66,165.26 L330.47,166.41 L331.29,167.55 L332.10,168.67" fill="none" stroke="#c0448a" stroke-width="1.0"/>
<path d="M235.30,198.96 L236.11,198.93 L236.93,198.88 L237.74,198.83 L238.55,198.76 L239.37,198.68 L240.18,198.58 L240.99,198.46 L241.81,198.31 L242.62,198.15 L243.43,197.95 L244.25,197.72 L245.06,197.45 L245.87,197.13 L246.69,196.77 L247.50,196.36 L248.32,195.89 L249.13,195.36 L249.94,194.76 L250.76,194.09 L251.57,193.34 L252.38,192.51 L253.20,191.59 L254.01,190.58 L254.82,189.48 L255.64,188.29 L256.45,187.00 L257.26,185.61 L258.08,184.12 L258.89,182.53 L259.70,180.86 L260.52,179.09 L261.33,177.23 L262.14,175.29 L262.96,173.27 L263.77,171.19 L264.58,169.04 L265.40,166.84 L266.21,164.60 L267.02,162.33 L267.84,160.04 L268.65,157.73 L269.46,155.43 L270.28,153.15 L271.09,150.88 L271.91,148.66 L272.72,146.47 L273.53,144.35 L274.35,142.29 L275.16,140.31 L275.97,138.42 L276.79,136.61 L277.60,134.91 L278.41,133.30 L279.23,131.81 L280.04,130.42 L280.85,129.15 L281.67,127.99 L282.48,126.95 L283.29,126.02 L284.11,125.19 L284.92,124.48 L285.73,123.87 L286.55,123.35 L287.36,122.93 L288.17,122.60 L288.99,122.34 L289.80,122.15 L290.61,122.02 L291.43,121.94 L292.24,121.90 L293.05,121.89 L293.87,121.90 L294.68,121.96 L295.49,122.08 L296.31,122.26 L297.12,122.50 L297.94,122.80 L298.75,123.15 L299.56,123.56 L300.38,124.03 L301.19,124.55 L302.00,125.13 L302.82,125.75 L303.63,126.43 L304.44,127.16 L305.26,127.93 L306.07,128.75 L306.88,129.62 L307.70,130.52 L308.51,131.47 L309.32,132.45 L310.14,133.48 L310.95,134.53 L311.76,135.62 L312.58,136.74 L313.39,137.88 L314.20,139.05 L315.02,140.24 L315.83,141.46 L316.64,142.69 L317.46,143.94 L318.27,145.20 L319.08,146.47 L319.90,147.76 L320.71,149.05 L321.53,150.34 L322.34,151.64 L323.15,152.94 L323.97,154.24 L324.78,155.54 L325.59,156.83 L326.41,158.11 L327.22,159.39 L328.03,160.65 L328.85,161.91 L329.66,163.15 L330.47,164.37 L331.29,165.58 L332.10,166.78" fill="none" stroke="#6a4aa8" stroke-width="1.0"/>
<path d="M235.30,198.44 L236.11,198.41 L236.93,198.36 L237.74,198.30 L238.55,198.23 L239.37,198.15 L240.18,198.04 L240.99,197.92 L241.81,197.77 L242.62,197.59 L243.43,197.37 L244.25,197.12 L245.06,196.83 L245.87,196.48 L246.69,196.09 L247.50,195.63 L248.32,195.11 L249.13,194.52 L249.94,193.85 L250.76,193.10 L251.57,192.25 L252.38,191.32 L253.20,190.29 L254.01,189.15 L254.82,187.91 L255.64,186.56 L256.45,185.10 L257.26,183.52 L258.08,181.84 L258.89,180.05 L259.70,178.15 L260.52,176.16 L261.33,174.06 L262.14,171.88 L262.96,169.61 L263.77,167.27 L264.58,164.86 L265.40,162.41 L266.21,159.91 L267.02,157.38 L267.84,154.84 L268.65,152.29 L269.46,149.75 L270.28,147.24 L271.09,144.76 L271.91,142.33 L272.72,139.95 L273.53,137.65 L274.35,135.43 L275.16,133.30 L275.97,131.28 L276.79,129.35 L277.60,127.54 L278.41,125.85 L279.23,124.28 L280.04,122.83 L280.85,121.51 L281.67,120.32 L282.48,119.24 L283.29,118.29 L284.11,117.46 L284.92,116.74 L285.73,116.13 L286.55,115.63 L287.36,115.21 L288.17,114.89 L288.99,114.64 L289.80,114.46 L290.61,114.34 L291.43,114.27 L292.24,114.24 L293.05,114.23 L293.87,114.24 L294.68,114.31 L295.49,114.45 L296.31,114.66 L297.12,114.93 L297.94,115.26 L298.75,115.65 L299.56,116.11 L300.38,116.63 L301.19,117.22 L302.00,117.86 L302.82,118.55 L303.63,119.31 L304.44,120.11 L305.26,120.98 L306.07,121.89 L306.88,122.85 L307.70,123.85 L308.51,124.90 L309.32,125.99 L310.14,127.13 L310.95,128.30 L311.76,129.50 L312.58,130.74 L313.39,132.00 L314.20,133.30 L315.02,134.62 L315.83,135.96 L316.64,137.32 L317.46,138.70 L318.27,140.09 L319.08,141.49 L319.90,142.91 L320.71,144.33 L321.53,145.76 L322.34,147.19 L323.15,148.62 L323.97,150.05 L324.78,151.47 L325.59,152.89 L326.41,154.30 L327.22,155.70 L328.03,157.09 L328.85,158.46 L329.66,159.82 L330.47,161.17 L331.29,162.49 L332.10,163.80" fill="none" stroke="#5a7ed0" stroke-width="1.0"/>
<path d="M235.30,198.33 L236.11,198.29 L236.93,198.25 L237.74,198.19 L238.55,198.12 L239.37,198.03 L240.18,197.93 L240.99,197.80 L241.81,197.65 L242.62,197.46 L243.43,197.25 L244.25,196.99 L245.06,196.69 L245.87,196.34 L246.69,195.94 L247.50,195.48 L248.32,194.94 L249.13,194.34 L249.94,193.65 L250.76,192.88 L251.57,192.02 L252.38,191.06 L253.20,190.01 L254.01,188.84 L254.82,187.57 L255.64,186.18 L256.45,184.69 L257.26,183.07 L258.08,181.35 L258.89,179.51 L259.70,177.57 L260.52,175.52 L261.33,173.37 L262.14,171.13 L262.96,168.81 L263.77,166.41 L264.58,163.95 L265.40,161.44 L266.21,158.88 L267.02,156.30 L267.84,153.70 L268.65,151.10 L269.46,148.51 L270.28,145.94 L271.09,143.42 L271.91,140.94 L272.72,138.53 L273.53,136.19 L274.35,133.93 L275.16,131.77 L275.97,129.71 L276.79,127.76 L277.60,125.93 L278.41,124.22 L279.23,122.63 L280.04,121.17 L280.85,119.84 L281.67,118.64 L282.48,117.56 L283.29,116.60 L284.11,115.77 L284.92,115.05 L285.73,114.44 L286.55,113.93 L287.36,113.52 L288.17,113.20 L288.99,112.95 L289.80,112.78 L290.61,112.66 L291.43,112.59 L292.24,112.56 L293.05,112.55 L293.87,112.56 L294.68,112.64 L295.49,112.78 L296.31,112.99 L297.12,113.26 L297.94,113.60 L298.75,114.01 L299.56,114.47 L300.38,115.01 L301.19,115.60 L302.00,116.25 L302.82,116.97 L303.63,117.74 L304.44,118.56 L305.26,119.44 L306.07,120.37 L306.88,121.35 L307.70,122.38 L308.51,123.45 L309.32,124.57 L310.14,125.72 L310.95,126.92 L311.76,128.15 L312.58,129.41 L313.39,130.70 L314.20,132.03 L315.02,133.37 L315.83,134.74 L316.64,136.13 L317.46,137.54 L318.27,138.96 L319.08,140.39 L319.90,141.84 L320.71,143.29 L321.53,144.75 L322.34,146.21 L323.15,147.67 L323.97,149.12 L324.78,150.58 L325.59,152.02 L326.41,153.46 L327.22,154.89 L328.03,156.30 L328.85,157.71 L329.66,159.09 L330.47,160.46 L331.29,161.81 L332.10,163.14" fill="none" stroke="#2b5868" stroke-width="1.0"/>
<line x1="470.6" y1="17.81" x2="470.6" y2="232.30" stroke="#000" stroke-width="3.2"/>
<line x1="462.30" y1="224.55" x2="744" y2="224.55" stroke="#000" stroke-width="3.2"/>
<line x1="462.30" y1="224.55" x2="470.6" y2="224.55" stroke="#000" stroke-width="3.2"/>
<text transform="translate(446.90,231.05) scale(1,1.06)" font-family='"Liberation Sans", sans-serif' font-weight="bold" font-size="14.6">0</text>
<line x1="462.30" y1="156.17" x2="470.6" y2="156.17" stroke="#000" stroke-width="3.2"/>
<path d="M421.09,162.67 L419.05,162.67 L419.05,155.40 C418.32,156.02 417.88,156.32 417.23,156.63 L417.23,154.78 C418.32,154.31 419.12,153.38 419.49,151.71 L421.09,151.71 Z" fill="#000"/>
<text x="424.55" y="161.32" font-family='"Liberation Sans", sans-serif' font-weight="bold" font-size="12.2" stroke="#000" stroke-width="0.35">×</text>
<path d="M437.54,162.67 L435.50,162.67 L435.50,155.40 C434.77,156.02 434.33,156.32 433.68,156.63 L433.68,154.78 C434.77,154.31 435.57,153.38 435.94,151.71 L437.54,151.71 Z" fill="#000"/>
<text transform="translate(440.30,162.67) scale(1,1.06)" font-family='"Liberation Sans", sans-serif' font-weight="bold" font-size="14.6">0</text>
<text transform="translate(448.80,156.67) scale(1,1.06)" font-family='"Liberation Sans", sans-serif' font-weight="bold" font-size="10.2">6</text>
<line x1="462.30" y1="87.79" x2="470.6" y2="87.79" stroke="#000" stroke-width="3.2"/>
<text transform="translate(415.40,94.29) scale(1,1.06)" font-family='"Liberation Sans", sans-serif' font-weight="bold" font-size="14.6">2</text>
<text x="424.55" y="92.94" font-family='"Liberation Sans", sans-serif' font-weight="bold" font-size="12.2" stroke="#000" stroke-width="0.35">×</text>
<path d="M437.54,94.29 L435.50,94.29 L435.50,87.02 C434.77,87.64 434.33,87.94 433.68,88.25 L433.68,86.40 C434.77,85.93 435.57,85.00 435.94,83.33 L437.54,83.33 Z" fill="#000"/>
<text transform="translate(440.30,94.29) scale(1,1.06)" font-family='"Liberation Sans", sans-serif' font-weight="bold" font-size="14.6">0</text>
<text transform="translate(448.80,88.29) scale(1,1.06)" font-family='"Liberation Sans", sans-serif' font-weight="bold" font-size="10.2">6</text>
<line x1="462.30" y1="19.41" x2="470.6" y2="19.41" stroke="#000" stroke-width="3.2"/>
<text transform="translate(415.40,25.91) scale(1,1.06)" font-family='"Liberation Sans", sans-serif' font-weight="bold" font-size="14.6">3</text>
<text x="424.55" y="24.56" font-family='"Liberation Sans", sans-serif' font-weight="bold" font-size="12.2" stroke="#000" stroke-width="0.35">×</text>
<path d="M437.54,25.91 L435.50,25.91 L435.50,18.64 C434.77,19.26 434.33,19.56 433.68,19.87 L433.68,18.02 C434.77,17.55 435.57,16.62 435.94,14.95 L437.54,14.95 Z" fill="#000"/>
<text transform="translate(440.30,25.91) scale(1,1.06)" font-family='"Liberation Sans", sans-serif' font-weight="bold" font-size="14.6">0</text>
<text transform="translate(448.80,19.91) scale(1,1.06)" font-family='"Liberation Sans", sans-serif' font-weight="bold" font-size="10.2">6</text>
<line x1="470.60" y1="224.55" x2="470.60" y2="232.30" stroke="#000" stroke-width="3.2"/>
<text transform="translate(466.54,250.90) scale(1,1.1)" font-family='"Liberation Sans", sans-serif' font-weight="bold" font-size="14.6">0</text>
<line x1="532.25" y1="224.55" x2="532.25" y2="232.30" stroke="#000" stroke-width="3.2"/>
<text transform="translate(524.13,250.90) scale(1,1.1)" font-family='"Liberation Sans", sans-serif' font-weight="bold" font-size="14.6">5</text>
<text transform="translate(532.25,250.90) scale(1,1.1)" font-family='"Liberation Sans", sans-serif' font-weight="bold" font-size="14.6">0</text>
<line x1="593.90" y1="224.55" x2="593.90" y2="232.30" stroke="#000" stroke-width="3.2"/>
<path d="M587.42,250.90 L585.37,250.90 L585.37,243.35 C584.64,243.99 584.21,244.32 583.55,244.64 L583.55,242.71 C584.64,242.23 585.45,241.26 585.81,239.53 L587.42,239.53 Z" fill="#000"/>
<text transform="translate(589.84,250.90) scale(1,1.1)" font-family='"Liberation Sans", sans-serif' font-weight="bold" font-size="14.6">0</text>
<text transform="translate(597.96,250.90) scale(1,1.1)" font-family='"Liberation Sans", sans-serif' font-weight="bold" font-size="14.6">0</text>
<line x1="655.55" y1="224.55" x2="655.55" y2="232.30" stroke="#000" stroke-width="3.2"/>
<path d="M649.07,250.90 L647.02,250.90 L647.02,243.35 C646.29,243.99 645.86,244.32 645.20,244.64 L645.20,242.71 C646.29,242.23 647.10,241.26 647.46,239.53 L649.07,239.53 Z" fill="#000"/>
<text transform="translate(651.49,250.90) scale(1,1.1)" font-family='"Liberation Sans", sans-serif' font-weight="bold" font-size="14.6">5</text>
<text transform="translate(659.61,250.90) scale(1,1.1)" font-family='"Liberation Sans", sans-serif' font-weight="bold" font-size="14.6">0</text>
<line x1="717.20" y1="224.55" x2="717.20" y2="232.30" stroke="#000" stroke-width="3.2"/>
<text transform="translate(705.02,250.90) scale(1,1.1)" font-family='"Liberation Sans", sans-serif' font-weight="bold" font-size="14.6">2</text>
<text transform="translate(713.14,250.90) scale(1,1.1)" font-family='"Liberation Sans", sans-serif' font-weight="bold" font-size="14.6">0</text>
<text transform="translate(721.26,250.90) scale(1,1.1)" font-family='"Liberation Sans", sans-serif' font-weight="bold" font-size="14.6">0</text>
<text x="560.7" y="276.7" font-family='"Liberation Serif", serif' font-size="17.0" stroke="#000" stroke-width="0.2" textLength="123.3" lengthAdjust="spacing">[Cter-NPM1]μM</text>
<text transform="translate(397.7,209) rotate(-90)" x="0" y="0" font-family='"Liberation Serif", serif' font-size="17.0" stroke="#000" stroke-width="0.2" textLength="175" lengthAdjust="spacing">Fluorescence (rel.units)</text>
<text x="384.25" y="13.15" font-family='"Liberation Sans", sans-serif' font-weight="bold" font-size="16">b</text>
<circle cx="471.2" cy="123.8" r="4" fill="#000"/>
<circle cx="474.9" cy="124.4" r="4" fill="#000"/>
<circle cx="479.3" cy="125.4" r="4" fill="#000"/>
<circle cx="482.8" cy="125.9" r="4" fill="#000"/>
<circle cx="488.8" cy="125.1" r="4" fill="#000"/>
<circle cx="495.1" cy="125.4" r="4" fill="#000"/>
<circle cx="519.5" cy="121.1" r="4" fill="#000"/>
<circle cx="568.9" cy="118" r="4" fill="#000"/>
<circle cx="618.8" cy="106.2" r="4" fill="#000"/>
<circle cx="667.8" cy="109.6" r="4" fill="#000"/>
<circle cx="717.2" cy="109.1" r="4" fill="#000"/>
<rect x="625.3" y="121.5" width="88.40000000000009" height="87.6" fill="#fff" stroke="#4a4a4a" stroke-width="1.0"/>
<line x1="625.3" y1="209.1" x2="625.3" y2="207.6" stroke="#333" stroke-width="0.6"/>
<line x1="625.3" y1="121.5" x2="625.3" y2="123.0" stroke="#333" stroke-width="0.6"/>
<text x="625.3" y="214.5" text-anchor="middle" font-family='"Liberation Sans", sans-serif' font-weight="bold" font-size="3.7" fill="#1a1a1a">400</text>
<line x1="647.4" y1="209.1" x2="647.4" y2="207.6" stroke="#333" stroke-width="0.6"/>
<line x1="647.4" y1="121.5" x2="647.4" y2="123.0" stroke="#333" stroke-width="0.6"/>
<text x="647.4" y="214.5" text-anchor="middle" font-family='"Liberation Sans", sans-serif' font-weight="bold" font-size="3.7" fill="#1a1a1a">450</text>
<line x1="669.5" y1="209.1" x2="669.5" y2="207.6" stroke="#333" stroke-width="0.6"/>
<line x1="669.5" y1="121.5" x2="669.5" y2="123.0" stroke="#333" stroke-width="0.6"/>
<text x="669.5" y="214.5" text-anchor="middle" font-family='"Liberation Sans", sans-serif' font-weight="bold" font-size="3.7" fill="#1a1a1a">500</text>
<line x1="691.6" y1="209.1" x2="691.6" y2="207.6" stroke="#333" stroke-width="0.6"/>
<line x1="691.6" y1="121.5" x2="691.6" y2="123.0" stroke="#333" stroke-width="0.6"/>
<text x="691.6" y="214.5" text-anchor="middle" font-family='"Liberation Sans", sans-serif' font-weight="bold" font-size="3.7" fill="#1a1a1a">550</text>
<line x1="713.7" y1="209.1" x2="713.7" y2="207.6" stroke="#333" stroke-width="0.6"/>
<line x1="713.7" y1="121.5" x2="713.7" y2="123.0" stroke="#333" stroke-width="0.6"/>
<text x="713.7" y="214.5" text-anchor="middle" font-family='"Liberation Sans", sans-serif' font-weight="bold" font-size="3.7" fill="#1a1a1a">600</text>
<line x1="625.3" y1="209.1" x2="626.8" y2="209.1" stroke="#333" stroke-width="0.6"/>
<line x1="713.7" y1="209.1" x2="712.2" y2="209.1" stroke="#333" stroke-width="0.6"/>
<text x="623.0" y="210.4" text-anchor="end" font-family='"Liberation Sans", sans-serif' font-weight="bold" font-size="3.3" fill="#1a1a1a">0</text>
<line x1="625.3" y1="187.2" x2="626.8" y2="187.2" stroke="#333" stroke-width="0.6"/>
<line x1="713.7" y1="187.2" x2="712.2" y2="187.2" stroke="#333" stroke-width="0.6"/>
<text x="623.0" y="188.5" text-anchor="end" font-family='"Liberation Sans", sans-serif' font-weight="bold" font-size="3.3" fill="#1a1a1a">5 10<tspan dy="-1.3" font-size="2.4">5</tspan></text>
<line x1="625.3" y1="165.3" x2="626.8" y2="165.3" stroke="#333" stroke-width="0.6"/>
<line x1="713.7" y1="165.3" x2="712.2" y2="165.3" stroke="#333" stroke-width="0.6"/>
<text x="623.0" y="166.60000000000002" text-anchor="end" font-family='"Liberation Sans", sans-serif' font-weight="bold" font-size="3.3" fill="#1a1a1a">1 10<tspan dy="-1.3" font-size="2.4">6</tspan></text>
<line x1="625.3" y1="143.4" x2="626.8" y2="143.4" stroke="#333" stroke-width="0.6"/>
<line x1="713.7" y1="143.4" x2="712.2" y2="143.4" stroke="#333" stroke-width="0.6"/>
<text x="623.0" y="144.70000000000002" text-anchor="end" font-family='"Liberation Sans", sans-serif' font-weight="bold" font-size="3.3" fill="#1a1a1a">1.5 10<tspan dy="-1.3" font-size="2.4">6</tspan></text>
<line x1="625.3" y1="121.5" x2="626.8" y2="121.5" stroke="#333" stroke-width="0.6"/>
<line x1="713.7" y1="121.5" x2="712.2" y2="121.5" stroke="#333" stroke-width="0.6"/>
<text x="623.0" y="122.8" text-anchor="end" font-family='"Liberation Sans", sans-serif' font-weight="bold" font-size="3.3" fill="#1a1a1a">2 10<tspan dy="-1.3" font-size="2.4">6</tspan></text>
<path d="M625.30,207.32 L626.04,207.32 L626.79,207.31 L627.53,207.31 L628.27,207.30 L629.01,207.29 L629.76,207.28 L630.50,207.26 L631.24,207.25 L631.99,207.23 L632.73,207.21 L633.47,207.19 L634.21,207.16 L634.96,207.13 L635.70,207.09 L636.44,207.05 L637.19,207.00 L637.93,206.95 L638.67,206.88 L639.41,206.81 L640.16,206.73 L640.90,206.64 L641.64,206.53 L642.39,206.41 L643.13,206.28 L643.87,206.13 L644.61,205.96 L645.36,205.78 L646.10,205.57 L646.84,205.33 L647.59,205.08 L648.33,204.79 L649.07,204.47 L649.81,204.12 L650.56,203.74 L651.30,203.32 L652.04,202.86 L652.79,202.35 L653.53,201.80 L654.27,201.20 L655.01,200.56 L655.76,199.86 L656.50,199.10 L657.24,198.29 L657.99,197.42 L658.73,196.48 L659.47,195.49 L660.21,194.42 L660.96,193.30 L661.70,192.10 L662.44,190.84 L663.19,189.51 L663.93,188.11 L664.67,186.64 L665.41,185.11 L666.16,183.52 L666.90,181.86 L667.64,180.15 L668.39,178.38 L669.13,176.56 L669.87,174.69 L670.61,172.78 L671.36,170.83 L672.10,168.85 L672.84,166.85 L673.59,164.83 L674.33,162.81 L675.07,160.78 L675.81,158.76 L676.56,156.76 L677.30,154.79 L678.04,152.85 L678.79,150.96 L679.53,149.12 L680.27,147.34 L681.01,145.64 L681.76,144.02 L682.50,142.49 L683.24,141.06 L683.99,139.74 L684.73,138.53 L685.47,137.45 L686.21,136.50 L686.96,135.68 L687.70,135.00 L688.44,134.47 L689.19,134.09 L689.93,133.85 L690.67,133.76 L691.41,133.79 L692.16,133.87 L692.90,134.01 L693.64,134.21 L694.39,134.47 L695.13,134.78 L695.87,135.14 L696.61,135.56 L697.36,136.04 L698.10,136.56 L698.84,137.14 L699.59,137.77 L700.33,138.44 L701.07,139.17 L701.81,139.93 L702.56,140.75 L703.30,141.60 L704.04,142.49 L704.79,143.42 L705.53,144.39 L706.27,145.39 L707.01,146.43 L707.76,147.49 L708.50,148.58 L709.24,149.70 L709.99,150.84 L710.73,152.00 L711.47,153.18 L712.21,154.37 L712.96,155.58 L713.70,156.80" fill="none" stroke="#30a050" stroke-width="1.0"/>
<path d="M625.30,206.87 L626.04,206.87 L626.79,206.86 L627.53,206.85 L628.27,206.84 L629.01,206.82 L629.76,206.81 L630.50,206.79 L631.24,206.77 L631.99,206.75 L632.73,206.72 L633.47,206.69 L634.21,206.65 L634.96,206.61 L635.70,206.57 L636.44,206.51 L637.19,206.45 L637.93,206.38 L638.67,206.30 L639.41,206.22 L640.16,206.12 L640.90,206.01 L641.64,205.88 L642.39,205.74 L643.13,205.58 L643.87,205.40 L644.61,205.21 L645.36,204.99 L646.10,204.75 L646.84,204.48 L647.59,204.19 L648.33,203.86 L649.07,203.51 L649.81,203.12 L650.56,202.69 L651.30,202.22 L652.04,201.72 L652.79,201.16 L653.53,200.57 L654.27,199.92 L655.01,199.22 L655.76,198.48 L656.50,197.67 L657.24,196.81 L657.99,195.89 L658.73,194.91 L659.47,193.87 L660.21,192.76 L660.96,191.60 L661.70,190.36 L662.44,189.07 L663.19,187.71 L663.93,186.28 L664.67,184.80 L665.41,183.25 L666.16,181.64 L666.90,179.98 L667.64,178.27 L668.39,176.50 L669.13,174.69 L669.87,172.84 L670.61,170.96 L671.36,169.04 L672.10,167.10 L672.84,165.14 L673.59,163.17 L674.33,161.19 L675.07,159.22 L675.81,157.27 L676.56,155.33 L677.30,153.42 L678.04,151.55 L678.79,149.73 L679.53,147.97 L680.27,146.26 L681.01,144.63 L681.76,143.08 L682.50,141.62 L683.24,140.26 L683.99,139.00 L684.73,137.86 L685.47,136.83 L686.21,135.92 L686.96,135.15 L687.70,134.50 L688.44,134.00 L689.19,133.63 L689.93,133.41 L690.67,133.33 L691.41,133.35 L692.16,133.43 L692.90,133.58 L693.64,133.77 L694.39,134.03 L695.13,134.34 L695.87,134.70 L696.61,135.12 L697.36,135.60 L698.10,136.12 L698.84,136.70 L699.59,137.33 L700.33,138.00 L701.07,138.73 L701.81,139.50 L702.56,140.31 L703.30,141.16 L704.04,142.05 L704.79,142.99 L705.53,143.95 L706.27,144.96 L707.01,145.99 L707.76,147.05 L708.50,148.14 L709.24,149.26 L709.99,150.40 L710.73,151.56 L711.47,152.74 L712.21,153.93 L712.96,155.14 L713.70,156.36" fill="none" stroke="#60c0e0" stroke-width="1.0"/>
<path d="M625.30,206.44 L626.04,206.44 L626.79,206.43 L627.53,206.43 L628.27,206.42 L629.01,206.41 L629.76,206.39 L630.50,206.38 L631.24,206.36 L631.99,206.34 L632.73,206.32 L633.47,206.30 L634.21,206.27 L634.96,206.23 L635.70,206.19 L636.44,206.15 L637.19,206.09 L637.93,206.03 L638.67,205.97 L639.41,205.89 L640.16,205.80 L640.90,205.70 L641.64,205.59 L642.39,205.46 L643.13,205.32 L643.87,205.16 L644.61,204.98 L645.36,204.78 L646.10,204.56 L646.84,204.31 L647.59,204.03 L648.33,203.73 L649.07,203.39 L649.81,203.02 L650.56,202.62 L651.30,202.17 L652.04,201.68 L652.79,201.15 L653.53,200.58 L654.27,199.95 L655.01,199.27 L655.76,198.54 L656.50,197.75 L657.24,196.90 L657.99,195.99 L658.73,195.02 L659.47,193.99 L660.21,192.88 L660.96,191.72 L661.70,190.48 L662.44,189.18 L663.19,187.81 L663.93,186.37 L664.67,184.87 L665.41,183.30 L666.16,181.67 L666.90,179.97 L667.64,178.23 L668.39,176.43 L669.13,174.57 L669.87,172.68 L670.61,170.75 L671.36,168.78 L672.10,166.79 L672.84,164.78 L673.59,162.75 L674.33,160.73 L675.07,158.70 L675.81,156.70 L676.56,154.71 L677.30,152.75 L678.04,150.84 L678.79,148.98 L679.53,147.17 L680.27,145.44 L681.01,143.79 L681.76,142.22 L682.50,140.75 L683.24,139.38 L683.99,138.13 L684.73,137.00 L685.47,135.99 L686.21,135.12 L686.96,134.39 L687.70,133.79 L688.44,133.35 L689.19,133.05 L689.93,132.90 L690.67,132.90 L691.41,132.95 L692.16,133.07 L692.90,133.24 L693.64,133.46 L694.39,133.74 L695.13,134.07 L695.87,134.46 L696.61,134.89 L697.36,135.38 L698.10,135.92 L698.84,136.51 L699.59,137.15 L700.33,137.83 L701.07,138.56 L701.81,139.33 L702.56,140.14 L703.30,140.99 L704.04,141.88 L704.79,142.81 L705.53,143.77 L706.27,144.76 L707.01,145.79 L707.76,146.84 L708.50,147.92 L709.24,149.02 L709.99,150.14 L710.73,151.29 L711.47,152.45 L712.21,153.63 L712.96,154.82 L713.70,156.02" fill="none" stroke="#405060" stroke-width="1.0"/>
<path d="M625.30,206.85 L626.04,206.84 L626.79,206.83 L627.53,206.82 L628.27,206.80 L629.01,206.79 L629.76,206.77 L630.50,206.74 L631.24,206.72 L631.99,206.69 L632.73,206.65 L633.47,206.61 L634.21,206.56 L634.96,206.51 L635.70,206.45 L636.44,206.39 L637.19,206.31 L637.93,206.23 L638.67,206.13 L639.41,206.02 L640.16,205.90 L640.90,205.77 L641.64,205.62 L642.39,205.45 L643.13,205.26 L643.87,205.06 L644.61,204.83 L645.36,204.57 L646.10,204.30 L646.84,203.99 L647.59,203.66 L648.33,203.29 L649.07,202.89 L649.81,202.45 L650.56,201.97 L651.30,201.46 L652.04,200.90 L652.79,200.29 L653.53,199.64 L654.27,198.94 L655.01,198.19 L655.76,197.39 L656.50,196.53 L657.24,195.61 L657.99,194.63 L658.73,193.60 L659.47,192.50 L660.21,191.35 L660.96,190.13 L661.70,188.85 L662.44,187.51 L663.19,186.11 L663.93,184.65 L664.67,183.13 L665.41,181.55 L666.16,179.92 L666.90,178.24 L667.64,176.51 L668.39,174.73 L669.13,172.92 L669.87,171.07 L670.61,169.18 L671.36,167.28 L672.10,165.35 L672.84,163.41 L673.59,161.47 L674.33,159.52 L675.07,157.59 L675.81,155.67 L676.56,153.77 L677.30,151.91 L678.04,150.08 L678.79,148.31 L679.53,146.59 L680.27,144.94 L681.01,143.36 L681.76,141.86 L682.50,140.44 L683.24,139.13 L683.99,137.91 L684.73,136.81 L685.47,135.82 L686.21,134.95 L686.96,134.20 L687.70,133.58 L688.44,133.09 L689.19,132.74 L689.93,132.53 L690.67,132.45 L691.41,132.47 L692.16,132.55 L692.90,132.69 L693.64,132.87 L694.39,133.11 L695.13,133.41 L695.87,133.76 L696.61,134.15 L697.36,134.60 L698.10,135.10 L698.84,135.65 L699.59,136.25 L700.33,136.89 L701.07,137.58 L701.81,138.31 L702.56,139.09 L703.30,139.90 L704.04,140.75 L704.79,141.64 L705.53,142.57 L706.27,143.53 L707.01,144.52 L707.76,145.54 L708.50,146.59 L709.24,147.66 L709.99,148.76 L710.73,149.88 L711.47,151.02 L712.21,152.17 L712.96,153.34 L713.70,154.53" fill="none" stroke="#a0a030" stroke-width="1.0"/>
<path d="M625.30,205.99 L626.04,205.98 L626.79,205.97 L627.53,205.96 L628.27,205.94 L629.01,205.93 L629.76,205.91 L630.50,205.89 L631.24,205.87 L631.99,205.84 L632.73,205.81 L633.47,205.77 L634.21,205.73 L634.96,205.68 L635.70,205.62 L636.44,205.56 L637.19,205.49 L637.93,205.41 L638.67,205.32 L639.41,205.22 L640.16,205.10 L640.90,204.97 L641.64,204.83 L642.39,204.66 L643.13,204.48 L643.87,204.28 L644.61,204.06 L645.36,203.81 L646.10,203.54 L646.84,203.24 L647.59,202.90 L648.33,202.54 L649.07,202.14 L649.81,201.70 L650.56,201.23 L651.30,200.71 L652.04,200.14 L652.79,199.53 L653.53,198.87 L654.27,198.16 L655.01,197.40 L655.76,196.58 L656.50,195.70 L657.24,194.77 L657.99,193.77 L658.73,192.71 L659.47,191.58 L660.21,190.40 L660.96,189.15 L661.70,187.83 L662.44,186.45 L663.19,185.00 L663.93,183.50 L664.67,181.93 L665.41,180.30 L666.16,178.62 L666.90,176.89 L667.64,175.10 L668.39,173.28 L669.13,171.41 L669.87,169.50 L670.61,167.57 L671.36,165.61 L672.10,163.64 L672.84,161.65 L673.59,159.67 L674.33,157.69 L675.07,155.72 L675.81,153.78 L676.56,151.87 L677.30,150.00 L678.04,148.17 L678.79,146.41 L679.53,144.71 L680.27,143.08 L681.01,141.54 L681.76,140.09 L682.50,138.74 L683.24,137.49 L683.99,136.36 L684.73,135.35 L685.47,134.47 L686.21,133.71 L686.96,133.09 L687.70,132.61 L688.44,132.26 L689.19,132.07 L689.93,132.01 L690.67,132.05 L691.41,132.14 L692.16,132.28 L692.90,132.47 L693.64,132.72 L694.39,133.03 L695.13,133.38 L695.87,133.79 L696.61,134.24 L697.36,134.75 L698.10,135.31 L698.84,135.91 L699.59,136.56 L700.33,137.25 L701.07,137.98 L701.81,138.76 L702.56,139.58 L703.30,140.43 L704.04,141.32 L704.79,142.25 L705.53,143.21 L706.27,144.20 L707.01,145.22 L707.76,146.27 L708.50,147.34 L709.24,148.44 L709.99,149.55 L710.73,150.69 L711.47,151.84 L712.21,153.01 L712.96,154.19 L713.70,155.38" fill="none" stroke="#9070c0" stroke-width="1.0"/>
<path d="M625.30,206.41 L626.04,206.40 L626.79,206.39 L627.53,206.37 L628.27,206.36 L629.01,206.34 L629.76,206.31 L630.50,206.29 L631.24,206.26 L631.99,206.22 L632.73,206.19 L633.47,206.14 L634.21,206.09 L634.96,206.03 L635.70,205.97 L636.44,205.90 L637.19,205.82 L637.93,205.72 L638.67,205.62 L639.41,205.50 L640.16,205.37 L640.90,205.23 L641.64,205.06 L642.39,204.88 L643.13,204.68 L643.87,204.46 L644.61,204.22 L645.36,203.94 L646.10,203.65 L646.84,203.32 L647.59,202.96 L648.33,202.57 L649.07,202.14 L649.81,201.68 L650.56,201.17 L651.30,200.62 L652.04,200.03 L652.79,199.39 L653.53,198.70 L654.27,197.96 L655.01,197.17 L655.76,196.32 L656.50,195.42 L657.24,194.46 L657.99,193.44 L658.73,192.35 L659.47,191.21 L660.21,190.00 L660.96,188.73 L661.70,187.40 L662.44,186.01 L663.19,184.55 L663.93,183.04 L664.67,181.47 L665.41,179.84 L666.16,178.16 L666.90,176.43 L667.64,174.65 L668.39,172.83 L669.13,170.97 L669.87,169.08 L670.61,167.16 L671.36,165.21 L672.10,163.26 L672.84,161.29 L673.59,159.32 L674.33,157.36 L675.07,155.41 L675.81,153.48 L676.56,151.58 L677.30,149.72 L678.04,147.90 L678.79,146.14 L679.53,144.44 L680.27,142.81 L681.01,141.26 L681.76,139.79 L682.50,138.42 L683.24,137.15 L683.99,135.99 L684.73,134.94 L685.47,134.00 L686.21,133.20 L686.96,132.52 L687.70,131.97 L688.44,131.56 L689.19,131.29 L689.93,131.15 L690.67,131.14 L691.41,131.20 L692.16,131.30 L692.90,131.46 L693.64,131.67 L694.39,131.93 L695.13,132.24 L695.87,132.60 L696.61,133.00 L697.36,133.46 L698.10,133.96 L698.84,134.51 L699.59,135.11 L700.33,135.75 L701.07,136.43 L701.81,137.15 L702.56,137.91 L703.30,138.71 L704.04,139.55 L704.79,140.42 L705.53,141.33 L706.27,142.27 L707.01,143.24 L707.76,144.23 L708.50,145.26 L709.24,146.30 L709.99,147.38 L710.73,148.47 L711.47,149.58 L712.21,150.71 L712.96,151.85 L713.70,153.01" fill="none" stroke="#e07040" stroke-width="1.0"/>
<path d="M625.30,205.52 L626.04,205.51 L626.79,205.49 L627.53,205.48 L628.27,205.46 L629.01,205.43 L629.76,205.41 L630.50,205.38 L631.24,205.34 L631.99,205.30 L632.73,205.26 L633.47,205.21 L634.21,205.15 L634.96,205.08 L635.70,205.01 L636.44,204.92 L637.19,204.83 L637.93,204.72 L638.67,204.60 L639.41,204.47 L640.16,204.32 L640.90,204.15 L641.64,203.97 L642.39,203.77 L643.13,203.54 L643.87,203.29 L644.61,203.01 L645.36,202.71 L646.10,202.38 L646.84,202.01 L647.59,201.62 L648.33,201.18 L649.07,200.71 L649.81,200.20 L650.56,199.64 L651.30,199.04 L652.04,198.39 L652.79,197.69 L653.53,196.94 L654.27,196.14 L655.01,195.28 L655.76,194.37 L656.50,193.39 L657.24,192.36 L657.99,191.26 L658.73,190.11 L659.47,188.89 L660.21,187.61 L660.96,186.27 L661.70,184.86 L662.44,183.40 L663.19,181.87 L663.93,180.29 L664.67,178.65 L665.41,176.96 L666.16,175.22 L666.90,173.43 L667.64,171.60 L668.39,169.74 L669.13,167.84 L669.87,165.91 L670.61,163.97 L671.36,162.01 L672.10,160.04 L672.84,158.07 L673.59,156.11 L674.33,154.16 L675.07,152.24 L675.81,150.35 L676.56,148.49 L677.30,146.69 L678.04,144.93 L678.79,143.25 L679.53,141.63 L680.27,140.10 L681.01,138.65 L681.76,137.29 L682.50,136.04 L683.24,134.90 L683.99,133.87 L684.73,132.96 L685.47,132.18 L686.21,131.53 L686.96,131.01 L687.70,130.62 L688.44,130.37 L689.19,130.27 L689.93,130.27 L690.67,130.34 L691.41,130.46 L692.16,130.63 L692.90,130.86 L693.64,131.13 L694.39,131.46 L695.13,131.84 L695.87,132.27 L696.61,132.75 L697.36,133.28 L698.10,133.86 L698.84,134.48 L699.59,135.14 L700.33,135.85 L701.07,136.61 L701.81,137.40 L702.56,138.23 L703.30,139.10 L704.04,140.00 L704.79,140.94 L705.53,141.91 L706.27,142.91 L707.01,143.93 L707.76,144.99 L708.50,146.07 L709.24,147.17 L709.99,148.29 L710.73,149.43 L711.47,150.58 L712.21,151.75 L712.96,152.94 L713.70,154.13" fill="none" stroke="#f0a0c0" stroke-width="1.0"/>
<path d="M625.30,205.94 L626.04,205.93 L626.79,205.91 L627.53,205.89 L628.27,205.87 L629.01,205.84 L629.76,205.82 L630.50,205.78 L631.24,205.74 L631.99,205.70 L632.73,205.65 L633.47,205.59 L634.21,205.53 L634.96,205.46 L635.70,205.38 L636.44,205.29 L637.19,205.19 L637.93,205.08 L638.67,204.95 L639.41,204.81 L640.16,204.65 L640.90,204.48 L641.64,204.29 L642.39,204.08 L643.13,203.84 L643.87,203.59 L644.61,203.30 L645.36,202.99 L646.10,202.65 L646.84,202.28 L647.59,201.88 L648.33,201.44 L649.07,200.96 L649.81,200.45 L650.56,199.89 L651.30,199.28 L652.04,198.64 L652.79,197.94 L653.53,197.19 L654.27,196.39 L655.01,195.54 L655.76,194.64 L656.50,193.67 L657.24,192.65 L657.99,191.57 L658.73,190.43 L659.47,189.23 L660.21,187.97 L660.96,186.65 L661.70,185.27 L662.44,183.83 L663.19,182.33 L663.93,180.78 L664.67,179.17 L665.41,177.51 L666.16,175.80 L666.90,174.05 L667.64,172.25 L668.39,170.41 L669.13,168.55 L669.87,166.65 L670.61,164.73 L671.36,162.79 L672.10,160.84 L672.84,158.89 L673.59,156.94 L674.33,155.00 L675.07,153.07 L675.81,151.17 L676.56,149.31 L677.30,147.48 L678.04,145.70 L678.79,143.97 L679.53,142.31 L680.27,140.72 L681.01,139.21 L681.76,137.78 L682.50,136.45 L683.24,135.21 L683.99,134.08 L684.73,133.06 L685.47,132.16 L686.21,131.38 L686.96,130.72 L687.70,130.19 L688.44,129.79 L689.19,129.53 L689.93,129.40 L690.67,129.39 L691.41,129.44 L692.16,129.54 L692.90,129.69 L693.64,129.89 L694.39,130.14 L695.13,130.44 L695.87,130.78 L696.61,131.17 L697.36,131.61 L698.10,132.09 L698.84,132.62 L699.59,133.19 L700.33,133.80 L701.07,134.46 L701.81,135.15 L702.56,135.89 L703.30,136.66 L704.04,137.46 L704.79,138.30 L705.53,139.18 L706.27,140.08 L707.01,141.02 L707.76,141.98 L708.50,142.97 L709.24,143.99 L709.99,145.03 L710.73,146.09 L711.47,147.17 L712.21,148.27 L712.96,149.38 L713.70,150.51" fill="none" stroke="#d04040" stroke-width="1.0"/>
<path d="M625.30,205.11 L626.04,205.10 L626.79,205.08 L627.53,205.07 L628.27,205.06 L629.01,205.04 L629.76,205.02 L630.50,204.99 L631.24,204.97 L631.99,204.94 L632.73,204.90 L633.47,204.86 L634.21,204.81 L634.96,204.76 L635.70,204.69 L636.44,204.63 L637.19,204.55 L637.93,204.46 L638.67,204.36 L639.41,204.24 L640.16,204.11 L640.90,203.97 L641.64,203.81 L642.39,203.63 L643.13,203.43 L643.87,203.21 L644.61,202.96 L645.36,202.69 L646.10,202.39 L646.84,202.06 L647.59,201.70 L648.33,201.30 L649.07,200.86 L649.81,200.38 L650.56,199.86 L651.30,199.30 L652.04,198.69 L652.79,198.03 L653.53,197.31 L654.27,196.54 L655.01,195.72 L655.76,194.83 L656.50,193.89 L657.24,192.88 L657.99,191.81 L658.73,190.67 L659.47,189.47 L660.21,188.20 L660.96,186.87 L661.70,185.46 L662.44,184.00 L663.19,182.46 L663.93,180.86 L664.67,179.20 L665.41,177.49 L666.16,175.71 L666.90,173.88 L667.64,172.01 L668.39,170.09 L669.13,168.13 L669.87,166.14 L670.61,164.12 L671.36,162.08 L672.10,160.03 L672.84,157.98 L673.59,155.93 L674.33,153.88 L675.07,151.86 L675.81,149.87 L676.56,147.91 L677.30,146.00 L678.04,144.15 L678.79,142.36 L679.53,140.64 L680.27,139.01 L681.01,137.47 L681.76,136.03 L682.50,134.69 L683.24,133.47 L683.99,132.37 L684.73,131.40 L685.47,130.57 L686.21,129.87 L686.96,129.31 L687.70,128.90 L688.44,128.63 L689.19,128.51 L689.93,128.52 L690.67,128.60 L691.41,128.73 L692.16,128.92 L692.90,129.18 L693.64,129.49 L694.39,129.86 L695.13,130.28 L695.87,130.76 L696.61,131.30 L697.36,131.89 L698.10,132.53 L698.84,133.23 L699.59,133.97 L700.33,134.76 L701.07,135.59 L701.81,136.47 L702.56,137.40 L703.30,138.36 L704.04,139.36 L704.79,140.39 L705.53,141.46 L706.27,142.57 L707.01,143.70 L707.76,144.85 L708.50,146.03 L709.24,147.24 L709.99,148.46 L710.73,149.70 L711.47,150.96 L712.21,152.23 L712.96,153.51 L713.70,154.80" fill="none" stroke="#444" stroke-width="1.0"/>
<path d="M625.30,204.59 L626.04,204.57 L626.79,204.54 L627.53,204.52 L628.27,204.49 L629.01,204.45 L629.76,204.41 L630.50,204.36 L631.24,204.31 L631.99,204.25 L632.73,204.19 L633.47,204.11 L634.21,204.03 L634.96,203.93 L635.70,203.82 L636.44,203.71 L637.19,203.57 L637.93,203.42 L638.67,203.26 L639.41,203.08 L640.16,202.88 L640.90,202.65 L641.64,202.41 L642.39,202.14 L643.13,201.84 L643.87,201.52 L644.61,201.16 L645.36,200.77 L646.10,200.35 L646.84,199.89 L647.59,199.40 L648.33,198.86 L649.07,198.28 L649.81,197.65 L650.56,196.98 L651.30,196.25 L652.04,195.48 L652.79,194.65 L653.53,193.77 L654.27,192.83 L655.01,191.83 L655.76,190.78 L656.50,189.66 L657.24,188.48 L657.99,187.25 L658.73,185.95 L659.47,184.59 L660.21,183.17 L660.96,181.69 L661.70,180.16 L662.44,178.57 L663.19,176.92 L663.93,175.22 L664.67,173.47 L665.41,171.68 L666.16,169.85 L666.90,167.98 L667.64,166.08 L668.39,164.15 L669.13,162.20 L669.87,160.23 L670.61,158.26 L671.36,156.29 L672.10,154.32 L672.84,152.36 L673.59,150.42 L674.33,148.51 L675.07,146.63 L675.81,144.80 L676.56,143.02 L677.30,141.30 L678.04,139.65 L678.79,138.07 L679.53,136.57 L680.27,135.16 L681.01,133.85 L681.76,132.64 L682.50,131.54 L683.24,130.55 L683.99,129.69 L684.73,128.94 L685.47,128.33 L686.21,127.84 L686.96,127.49 L687.70,127.27 L688.44,127.19 L689.19,127.22 L689.93,127.31 L690.67,127.45 L691.41,127.66 L692.16,127.93 L692.90,128.25 L693.64,128.63 L694.39,129.08 L695.13,129.57 L695.87,130.13 L696.61,130.73 L697.36,131.39 L698.10,132.10 L698.84,132.86 L699.59,133.67 L700.33,134.53 L701.07,135.43 L701.81,136.37 L702.56,137.35 L703.30,138.37 L704.04,139.42 L704.79,140.51 L705.53,141.63 L706.27,142.78 L707.01,143.95 L707.76,145.15 L708.50,146.37 L709.24,147.61 L709.99,148.87 L710.73,150.15 L711.47,151.43 L712.21,152.73 L712.96,154.04 L713.70,155.35" fill="none" stroke="#4060c0" stroke-width="1.0"/>
<path d="M625.30,204.04 L626.04,204.01 L626.79,203.97 L627.53,203.93 L628.27,203.88 L629.01,203.82 L629.76,203.76 L630.50,203.69 L631.24,203.61 L631.99,203.52 L632.73,203.42 L633.47,203.31 L634.21,203.19 L634.96,203.06 L635.70,202.91 L636.44,202.75 L637.19,202.56 L637.93,202.37 L638.67,202.15 L639.41,201.91 L640.16,201.64 L640.90,201.36 L641.64,201.04 L642.39,200.70 L643.13,200.33 L643.87,199.93 L644.61,199.49 L645.36,199.02 L646.10,198.51 L646.84,197.96 L647.59,197.38 L648.33,196.74 L649.07,196.07 L649.81,195.35 L650.56,194.58 L651.30,193.76 L652.04,192.89 L652.79,191.97 L653.53,190.99 L654.27,189.97 L655.01,188.88 L655.76,187.74 L656.50,186.55 L657.24,185.29 L657.99,183.99 L658.73,182.62 L659.47,181.21 L660.21,179.74 L660.96,178.21 L661.70,176.64 L662.44,175.02 L663.19,173.35 L663.93,171.64 L664.67,169.90 L665.41,168.11 L666.16,166.30 L666.90,164.45 L667.64,162.59 L668.39,160.71 L669.13,158.81 L669.87,156.91 L670.61,155.01 L671.36,153.11 L672.10,151.23 L672.84,149.36 L673.59,147.52 L674.33,145.71 L675.07,143.94 L675.81,142.22 L676.56,140.55 L677.30,138.94 L678.04,137.39 L678.79,135.92 L679.53,134.53 L680.27,133.23 L681.01,132.01 L681.76,130.89 L682.50,129.88 L683.24,128.97 L683.99,128.17 L684.73,127.49 L685.47,126.92 L686.21,126.48 L686.96,126.15 L687.70,125.95 L688.44,125.88 L689.19,125.91 L689.93,125.99 L690.67,126.14 L691.41,126.35 L692.16,126.62 L692.90,126.95 L693.64,127.34 L694.39,127.78 L695.13,128.29 L695.87,128.85 L696.61,129.46 L697.36,130.13 L698.10,130.85 L698.84,131.62 L699.59,132.43 L700.33,133.30 L701.07,134.20 L701.81,135.16 L702.56,136.15 L703.30,137.18 L704.04,138.24 L704.79,139.34 L705.53,140.48 L706.27,141.64 L707.01,142.83 L707.76,144.04 L708.50,145.28 L709.24,146.53 L709.99,147.80 L710.73,149.09 L711.47,150.39 L712.21,151.71 L712.96,153.03 L713.70,154.35" fill="none" stroke="#6080e0" stroke-width="1.0"/>
<line x1="83.6" y1="318.80" x2="83.6" y2="533.50" stroke="#000" stroke-width="3.2"/>
<line x1="75.40" y1="526.0" x2="362.5" y2="526.0" stroke="#000" stroke-width="3.2"/>
<line x1="75.40" y1="526.00" x2="83.6" y2="526.00" stroke="#000" stroke-width="3.2"/>
<text transform="translate(60.00,532.50) scale(1,1.06)" font-family='"Liberation Sans", sans-serif' font-weight="bold" font-size="14.6">0</text>
<line x1="75.40" y1="474.60" x2="83.6" y2="474.60" stroke="#000" stroke-width="3.2"/>
<text transform="translate(28.50,481.10) scale(1,1.06)" font-family='"Liberation Sans", sans-serif' font-weight="bold" font-size="14.6">2</text>
<text x="37.65" y="479.75" font-family='"Liberation Sans", sans-serif' font-weight="bold" font-size="12.2" stroke="#000" stroke-width="0.35">×</text>
<path d="M50.64,481.10 L48.60,481.10 L48.60,473.83 C47.87,474.45 47.43,474.75 46.78,475.06 L46.78,473.21 C47.87,472.74 48.67,471.81 49.04,470.14 L50.64,470.14 Z" fill="#000"/>
<text transform="translate(53.40,481.10) scale(1,1.06)" font-family='"Liberation Sans", sans-serif' font-weight="bold" font-size="14.6">0</text>
<text transform="translate(61.90,475.10) scale(1,1.06)" font-family='"Liberation Sans", sans-serif' font-weight="bold" font-size="10.2">6</text>
<line x1="75.40" y1="423.20" x2="83.6" y2="423.20" stroke="#000" stroke-width="3.2"/>
<text transform="translate(28.50,429.70) scale(1,1.06)" font-family='"Liberation Sans", sans-serif' font-weight="bold" font-size="14.6">4</text>
<text x="37.65" y="428.35" font-family='"Liberation Sans", sans-serif' font-weight="bold" font-size="12.2" stroke="#000" stroke-width="0.35">×</text>
<path d="M50.64,429.70 L48.60,429.70 L48.60,422.43 C47.87,423.05 47.43,423.35 46.78,423.66 L46.78,421.81 C47.87,421.34 48.67,420.41 49.04,418.74 L50.64,418.74 Z" fill="#000"/>
<text transform="translate(53.40,429.70) scale(1,1.06)" font-family='"Liberation Sans", sans-serif' font-weight="bold" font-size="14.6">0</text>
<text transform="translate(61.90,423.70) scale(1,1.06)" font-family='"Liberation Sans", sans-serif' font-weight="bold" font-size="10.2">6</text>
<line x1="75.40" y1="371.80" x2="83.6" y2="371.80" stroke="#000" stroke-width="3.2"/>
<text transform="translate(28.50,378.30) scale(1,1.06)" font-family='"Liberation Sans", sans-serif' font-weight="bold" font-size="14.6">6</text>
<text x="37.65" y="376.95" font-family='"Liberation Sans", sans-serif' font-weight="bold" font-size="12.2" stroke="#000" stroke-width="0.35">×</text>
<path d="M50.64,378.30 L48.60,378.30 L48.60,371.03 C47.87,371.65 47.43,371.95 46.78,372.26 L46.78,370.41 C47.87,369.94 48.67,369.01 49.04,367.34 L50.64,367.34 Z" fill="#000"/>
<text transform="translate(53.40,378.30) scale(1,1.06)" font-family='"Liberation Sans", sans-serif' font-weight="bold" font-size="14.6">0</text>
<text transform="translate(61.90,372.30) scale(1,1.06)" font-family='"Liberation Sans", sans-serif' font-weight="bold" font-size="10.2">6</text>
<line x1="75.40" y1="320.40" x2="83.6" y2="320.40" stroke="#000" stroke-width="3.2"/>
<text transform="translate(28.50,326.90) scale(1,1.06)" font-family='"Liberation Sans", sans-serif' font-weight="bold" font-size="14.6">8</text>
<text x="37.65" y="325.55" font-family='"Liberation Sans", sans-serif' font-weight="bold" font-size="12.2" stroke="#000" stroke-width="0.35">×</text>
<path d="M50.64,326.90 L48.60,326.90 L48.60,319.63 C47.87,320.25 47.43,320.55 46.78,320.86 L46.78,319.01 C47.87,318.54 48.67,317.61 49.04,315.94 L50.64,315.94 Z" fill="#000"/>
<text transform="translate(53.40,326.90) scale(1,1.06)" font-family='"Liberation Sans", sans-serif' font-weight="bold" font-size="14.6">0</text>
<text transform="translate(61.90,320.90) scale(1,1.06)" font-family='"Liberation Sans", sans-serif' font-weight="bold" font-size="10.2">6</text>
<line x1="83.60" y1="526.0" x2="83.60" y2="533.50" stroke="#000" stroke-width="3.2"/>
<text transform="translate(79.54,553.80) scale(1,1.1)" font-family='"Liberation Sans", sans-serif' font-weight="bold" font-size="14.6">0</text>
<line x1="135.12" y1="526.0" x2="135.12" y2="533.50" stroke="#000" stroke-width="3.2"/>
<text transform="translate(127.00,553.80) scale(1,1.1)" font-family='"Liberation Sans", sans-serif' font-weight="bold" font-size="14.6">5</text>
<text transform="translate(135.12,553.80) scale(1,1.1)" font-family='"Liberation Sans", sans-serif' font-weight="bold" font-size="14.6">0</text>
<line x1="186.64" y1="526.0" x2="186.64" y2="533.50" stroke="#000" stroke-width="3.2"/>
<path d="M180.16,553.80 L178.11,553.80 L178.11,546.25 C177.38,546.89 176.95,547.22 176.29,547.54 L176.29,545.61 C177.38,545.13 178.19,544.16 178.55,542.43 L180.16,542.43 Z" fill="#000"/>
<text transform="translate(182.58,553.80) scale(1,1.1)" font-family='"Liberation Sans", sans-serif' font-weight="bold" font-size="14.6">0</text>
<text transform="translate(190.70,553.80) scale(1,1.1)" font-family='"Liberation Sans", sans-serif' font-weight="bold" font-size="14.6">0</text>
<line x1="238.16" y1="526.0" x2="238.16" y2="533.50" stroke="#000" stroke-width="3.2"/>
<path d="M231.68,553.80 L229.63,553.80 L229.63,546.25 C228.90,546.89 228.47,547.22 227.81,547.54 L227.81,545.61 C228.90,545.13 229.71,544.16 230.07,542.43 L231.68,542.43 Z" fill="#000"/>
<text transform="translate(234.10,553.80) scale(1,1.1)" font-family='"Liberation Sans", sans-serif' font-weight="bold" font-size="14.6">5</text>
<text transform="translate(242.22,553.80) scale(1,1.1)" font-family='"Liberation Sans", sans-serif' font-weight="bold" font-size="14.6">0</text>
<line x1="289.68" y1="526.0" x2="289.68" y2="533.50" stroke="#000" stroke-width="3.2"/>
<text transform="translate(277.50,553.80) scale(1,1.1)" font-family='"Liberation Sans", sans-serif' font-weight="bold" font-size="14.6">2</text>
<text transform="translate(285.62,553.80) scale(1,1.1)" font-family='"Liberation Sans", sans-serif' font-weight="bold" font-size="14.6">0</text>
<text transform="translate(293.74,553.80) scale(1,1.1)" font-family='"Liberation Sans", sans-serif' font-weight="bold" font-size="14.6">0</text>
<line x1="341.20" y1="526.0" x2="341.20" y2="533.50" stroke="#000" stroke-width="3.2"/>
<text transform="translate(329.02,553.80) scale(1,1.1)" font-family='"Liberation Sans", sans-serif' font-weight="bold" font-size="14.6">2</text>
<text transform="translate(337.14,553.80) scale(1,1.1)" font-family='"Liberation Sans", sans-serif' font-weight="bold" font-size="14.6">5</text>
<text transform="translate(345.26,553.80) scale(1,1.1)" font-family='"Liberation Sans", sans-serif' font-weight="bold" font-size="14.6">0</text>
<text x="161.1" y="578.6" font-family='"Liberation Serif", serif' font-size="17.0" stroke="#000" stroke-width="0.2" textLength="124" lengthAdjust="spacing">[Nter-NPM1]μM</text>
<text transform="translate(14.5,516) rotate(-90)" x="0" y="0" font-family='"Liberation Serif", serif' font-size="17.0" stroke="#000" stroke-width="0.2" textLength="180.3" lengthAdjust="spacing">Fluorescence (rel. units)</text>
<text x="1.08" y="311.75" font-family='"Liberation Sans", sans-serif' font-weight="bold" font-size="16">c</text>
<path d="M83.60,484.37 L83.94,480.97 L84.28,477.78 L84.62,474.78 L84.96,471.95 L85.29,469.28 L85.63,466.76 L85.97,464.37 L86.31,462.10 L86.65,459.95 L86.99,457.91 L87.33,455.96 L87.67,454.10 L88.01,452.33 L88.35,450.64 L88.68,449.02 L89.02,447.47 L89.36,445.98 L89.70,444.56 L90.04,443.19 L90.38,441.88 L90.72,440.61 L91.06,439.40 L91.40,438.23 L91.74,437.10 L92.07,436.01 L92.41,434.96 L92.75,433.94 L93.09,432.96 L93.43,432.01 L93.77,431.09 L94.11,430.21 L94.45,429.34 L94.79,428.51 L95.13,427.70 L95.46,426.92 L95.80,426.15 L96.14,425.41 L96.48,424.70 L96.82,424.00 L97.16,423.32 L97.50,422.66 L97.84,422.01 L98.18,421.39 L98.52,420.78 L98.85,420.18 L99.19,419.60 L99.53,419.04 L99.87,418.49 L100.21,417.95 L100.55,417.42 L100.89,416.91 L101.23,416.41 L101.57,415.92 L101.91,415.44 L102.24,414.98 L102.58,414.52 L102.92,414.07 L103.26,413.64 L103.60,413.21 L103.60,413.21 L107.63,408.74 L111.66,405.15 L115.68,402.20 L119.71,399.72 L123.74,397.59 L127.77,395.75 L131.80,394.12 L135.82,392.66 L139.85,391.36 L143.88,390.17 L147.91,389.09 L151.94,388.08 L155.96,387.16 L159.99,386.29 L164.02,385.48 L168.05,384.72 L172.08,384.00 L176.10,383.31 L180.13,382.66 L184.16,382.04 L188.19,381.44 L192.22,380.86 L196.24,380.31 L200.27,379.78 L204.30,379.26 L208.33,378.76 L212.36,378.27 L216.38,377.80 L220.41,377.34 L224.44,376.89 L228.47,376.45 L232.49,376.01 L236.52,375.59 L240.55,375.18 L244.58,374.77 L248.61,374.37 L252.63,373.98 L256.66,373.59 L260.69,373.21 L264.72,372.84 L268.75,372.47 L272.77,372.10 L276.80,371.74 L280.83,371.38 L284.86,371.03 L288.89,370.68 L292.91,370.33 L296.94,369.99 L300.97,369.65 L305.00,369.31 L309.03,368.98 L313.05,368.65 L317.08,368.32 L321.11,367.99 L325.14,367.67 L329.17,367.35 L333.19,367.03 L337.22,366.71 L341.25,366.40" fill="none" stroke="#000" stroke-width="1.05"/>
<line x1="90.9" y1="433.8" x2="90.9" y2="442.6" stroke="#000" stroke-width="2.5"/>
<line x1="86.0" y1="433.8" x2="95.80000000000001" y2="433.8" stroke="#000" stroke-width="2.3"/>
<line x1="86.0" y1="442.6" x2="95.80000000000001" y2="442.6" stroke="#000" stroke-width="2.3"/>
<line x1="114.7" y1="398.8" x2="114.7" y2="409.2" stroke="#000" stroke-width="2.5"/>
<line x1="109.8" y1="398.8" x2="119.60000000000001" y2="398.8" stroke="#000" stroke-width="2.3"/>
<line x1="109.8" y1="409.2" x2="119.60000000000001" y2="409.2" stroke="#000" stroke-width="2.3"/>
<line x1="155.7" y1="380.5" x2="155.7" y2="393.9" stroke="#000" stroke-width="2.5"/>
<line x1="150.79999999999998" y1="380.5" x2="160.6" y2="380.5" stroke="#000" stroke-width="2.3"/>
<line x1="150.79999999999998" y1="393.9" x2="160.6" y2="393.9" stroke="#000" stroke-width="2.3"/>
<line x1="186.5" y1="372" x2="186.5" y2="389.2" stroke="#000" stroke-width="2.5"/>
<line x1="181.6" y1="372" x2="191.4" y2="372" stroke="#000" stroke-width="2.3"/>
<line x1="181.6" y1="389.2" x2="191.4" y2="389.2" stroke="#000" stroke-width="2.3"/>
<line x1="290" y1="364.25" x2="290" y2="378.75" stroke="#000" stroke-width="2.5"/>
<line x1="285.1" y1="364.25" x2="294.9" y2="364.25" stroke="#000" stroke-width="2.3"/>
<line x1="285.1" y1="378.75" x2="294.9" y2="378.75" stroke="#000" stroke-width="2.3"/>
<line x1="341.25" y1="360.5" x2="341.25" y2="376.75" stroke="#000" stroke-width="2.5"/>
<line x1="336.35" y1="360.5" x2="346.15" y2="360.5" stroke="#000" stroke-width="2.3"/>
<line x1="336.35" y1="376.75" x2="346.15" y2="376.75" stroke="#000" stroke-width="2.3"/>
<circle cx="83.8" cy="482" r="4.3" fill="#000"/>
<circle cx="84" cy="478" r="4.3" fill="#000"/>
<circle cx="85.4" cy="470.7" r="4.3" fill="#000"/>
<circle cx="86.5" cy="464.5" r="4.3" fill="#000"/>
<circle cx="88.7" cy="450.2" r="4.3" fill="#000"/>
<circle cx="90.9" cy="437.9" r="4.3" fill="#000"/>
<circle cx="93.6" cy="426.4" r="4.3" fill="#000"/>
<circle cx="114.7" cy="404.3" r="4.3" fill="#000"/>
<circle cx="135.2" cy="398.3" r="4.3" fill="#000"/>
<circle cx="155.7" cy="387" r="4.3" fill="#000"/>
<circle cx="186.5" cy="380.8" r="4.3" fill="#000"/>
<circle cx="238.25" cy="369.5" r="4.3" fill="#000"/>
<circle cx="290" cy="371.25" r="4.3" fill="#000"/>
<circle cx="341.25" cy="368.75" r="4.3" fill="#000"/>
<rect x="242.5" y="399.6" width="99.0" height="98.29999999999995" fill="#fff" stroke="#4a4a4a" stroke-width="1.0"/>
<line x1="242.5" y1="497.9" x2="242.5" y2="496.4" stroke="#333" stroke-width="0.6"/>
<line x1="242.5" y1="399.6" x2="242.5" y2="401.1" stroke="#333" stroke-width="0.6"/>
<text x="242.5" y="503.29999999999995" text-anchor="middle" font-family='"Liberation Sans", sans-serif' font-weight="bold" font-size="3.7" fill="#1a1a1a">400</text>
<line x1="267.25" y1="497.9" x2="267.25" y2="496.4" stroke="#333" stroke-width="0.6"/>
<line x1="267.25" y1="399.6" x2="267.25" y2="401.1" stroke="#333" stroke-width="0.6"/>
<text x="267.25" y="503.29999999999995" text-anchor="middle" font-family='"Liberation Sans", sans-serif' font-weight="bold" font-size="3.7" fill="#1a1a1a">450</text>
<line x1="292.0" y1="497.9" x2="292.0" y2="496.4" stroke="#333" stroke-width="0.6"/>
<line x1="292.0" y1="399.6" x2="292.0" y2="401.1" stroke="#333" stroke-width="0.6"/>
<text x="292.0" y="503.29999999999995" text-anchor="middle" font-family='"Liberation Sans", sans-serif' font-weight="bold" font-size="3.7" fill="#1a1a1a">500</text>
<line x1="316.75" y1="497.9" x2="316.75" y2="496.4" stroke="#333" stroke-width="0.6"/>
<line x1="316.75" y1="399.6" x2="316.75" y2="401.1" stroke="#333" stroke-width="0.6"/>
<text x="316.75" y="503.29999999999995" text-anchor="middle" font-family='"Liberation Sans", sans-serif' font-weight="bold" font-size="3.7" fill="#1a1a1a">550</text>
<line x1="341.5" y1="497.9" x2="341.5" y2="496.4" stroke="#333" stroke-width="0.6"/>
<line x1="341.5" y1="399.6" x2="341.5" y2="401.1" stroke="#333" stroke-width="0.6"/>
<text x="341.5" y="503.29999999999995" text-anchor="middle" font-family='"Liberation Sans", sans-serif' font-weight="bold" font-size="3.7" fill="#1a1a1a">600</text>
<line x1="242.5" y1="497.9" x2="244.0" y2="497.9" stroke="#333" stroke-width="0.6"/>
<line x1="341.5" y1="497.9" x2="340.0" y2="497.9" stroke="#333" stroke-width="0.6"/>
<text x="240.2" y="499.2" text-anchor="end" font-family='"Liberation Sans", sans-serif' font-weight="bold" font-size="3.3" fill="#1a1a1a">0</text>
<line x1="242.5" y1="483.4014749262537" x2="244.0" y2="483.4014749262537" stroke="#333" stroke-width="0.6"/>
<line x1="341.5" y1="483.4014749262537" x2="340.0" y2="483.4014749262537" stroke="#333" stroke-width="0.6"/>
<text x="240.2" y="484.7014749262537" text-anchor="end" font-family='"Liberation Sans", sans-serif' font-weight="bold" font-size="3.3" fill="#1a1a1a">1 10<tspan dy="-1.3" font-size="2.4">6</tspan></text>
<line x1="242.5" y1="468.9029498525074" x2="244.0" y2="468.9029498525074" stroke="#333" stroke-width="0.6"/>
<line x1="341.5" y1="468.9029498525074" x2="340.0" y2="468.9029498525074" stroke="#333" stroke-width="0.6"/>
<text x="240.2" y="470.2029498525074" text-anchor="end" font-family='"Liberation Sans", sans-serif' font-weight="bold" font-size="3.3" fill="#1a1a1a">2 10<tspan dy="-1.3" font-size="2.4">6</tspan></text>
<line x1="242.5" y1="454.40442477876104" x2="244.0" y2="454.40442477876104" stroke="#333" stroke-width="0.6"/>
<line x1="341.5" y1="454.40442477876104" x2="340.0" y2="454.40442477876104" stroke="#333" stroke-width="0.6"/>
<text x="240.2" y="455.70442477876105" text-anchor="end" font-family='"Liberation Sans", sans-serif' font-weight="bold" font-size="3.3" fill="#1a1a1a">3 10<tspan dy="-1.3" font-size="2.4">6</tspan></text>
<line x1="242.5" y1="439.90589970501475" x2="244.0" y2="439.90589970501475" stroke="#333" stroke-width="0.6"/>
<line x1="341.5" y1="439.90589970501475" x2="340.0" y2="439.90589970501475" stroke="#333" stroke-width="0.6"/>
<text x="240.2" y="441.20589970501476" text-anchor="end" font-family='"Liberation Sans", sans-serif' font-weight="bold" font-size="3.3" fill="#1a1a1a">4 10<tspan dy="-1.3" font-size="2.4">6</tspan></text>
<line x1="242.5" y1="425.40737463126845" x2="244.0" y2="425.40737463126845" stroke="#333" stroke-width="0.6"/>
<line x1="341.5" y1="425.40737463126845" x2="340.0" y2="425.40737463126845" stroke="#333" stroke-width="0.6"/>
<text x="240.2" y="426.70737463126846" text-anchor="end" font-family='"Liberation Sans", sans-serif' font-weight="bold" font-size="3.3" fill="#1a1a1a">5 10<tspan dy="-1.3" font-size="2.4">6</tspan></text>
<line x1="242.5" y1="410.90884955752216" x2="244.0" y2="410.90884955752216" stroke="#333" stroke-width="0.6"/>
<line x1="341.5" y1="410.90884955752216" x2="340.0" y2="410.90884955752216" stroke="#333" stroke-width="0.6"/>
<text x="240.2" y="412.20884955752217" text-anchor="end" font-family='"Liberation Sans", sans-serif' font-weight="bold" font-size="3.3" fill="#1a1a1a">6 10<tspan dy="-1.3" font-size="2.4">6</tspan></text>
<path d="M242.50,497.60 L243.33,497.59 L244.16,497.59 L245.00,497.59 L245.83,497.58 L246.66,497.58 L247.49,497.57 L248.32,497.57 L249.16,497.56 L249.99,497.55 L250.82,497.54 L251.65,497.52 L252.48,497.51 L253.32,497.49 L254.15,497.48 L254.98,497.45 L255.81,497.43 L256.64,497.40 L257.47,497.37 L258.31,497.34 L259.14,497.30 L259.97,497.25 L260.80,497.20 L261.63,497.14 L262.47,497.08 L263.30,497.01 L264.13,496.93 L264.96,496.84 L265.79,496.74 L266.63,496.63 L267.46,496.51 L268.29,496.38 L269.12,496.24 L269.95,496.08 L270.79,495.91 L271.62,495.72 L272.45,495.51 L273.28,495.29 L274.11,495.05 L274.95,494.79 L275.78,494.52 L276.61,494.22 L277.44,493.90 L278.27,493.55 L279.11,493.19 L279.94,492.80 L280.77,492.39 L281.60,491.96 L282.43,491.50 L283.26,491.02 L284.10,490.52 L284.93,489.99 L285.76,489.45 L286.59,488.88 L287.42,488.28 L288.26,487.67 L289.09,487.04 L289.92,486.39 L290.75,485.73 L291.58,485.05 L292.42,484.36 L293.25,483.66 L294.08,482.95 L294.91,482.24 L295.74,481.52 L296.58,480.80 L297.41,480.08 L298.24,479.37 L299.07,478.66 L299.90,477.97 L300.74,477.29 L301.57,476.62 L302.40,475.97 L303.23,475.35 L304.06,474.75 L304.89,474.18 L305.73,473.63 L306.56,473.12 L307.39,472.64 L308.22,472.20 L309.05,471.80 L309.89,471.44 L310.72,471.12 L311.55,470.84 L312.38,470.60 L313.21,470.41 L314.05,470.26 L314.88,470.15 L315.71,470.09 L316.54,470.06 L317.37,470.07 L318.21,470.09 L319.04,470.13 L319.87,470.19 L320.70,470.27 L321.53,470.37 L322.37,470.48 L323.20,470.61 L324.03,470.76 L324.86,470.92 L325.69,471.11 L326.53,471.31 L327.36,471.52 L328.19,471.75 L329.02,472.00 L329.85,472.25 L330.68,472.53 L331.52,472.82 L332.35,473.12 L333.18,473.43 L334.01,473.76 L334.84,474.09 L335.68,474.44 L336.51,474.80 L337.34,475.16 L338.17,475.54 L339.00,475.92 L339.84,476.31 L340.67,476.71 L341.50,477.12" fill="none" stroke="#5070c0" stroke-width="1.0"/>
<path d="M242.50,497.55 L243.33,497.54 L244.16,497.53 L245.00,497.53 L245.83,497.52 L246.66,497.51 L247.49,497.49 L248.32,497.48 L249.16,497.47 L249.99,497.46 L250.82,497.45 L251.65,497.44 L252.48,497.43 L253.32,497.41 L254.15,497.40 L254.98,497.38 L255.81,497.35 L256.64,497.32 L257.47,497.29 L258.31,497.25 L259.14,497.21 L259.97,497.16 L260.80,497.10 L261.63,497.04 L262.47,496.97 L263.30,496.89 L264.13,496.80 L264.96,496.70 L265.79,496.59 L266.63,496.47 L267.46,496.34 L268.29,496.20 L269.12,496.04 L269.95,495.86 L270.79,495.67 L271.62,495.47 L272.45,495.25 L273.28,495.00 L274.11,494.74 L274.95,494.46 L275.78,494.16 L276.61,493.83 L277.44,493.49 L278.27,493.12 L279.11,492.72 L279.94,492.31 L280.77,491.87 L281.60,491.40 L282.43,490.91 L283.26,490.40 L284.10,489.86 L284.93,489.30 L285.76,488.71 L286.59,488.11 L287.42,487.48 L288.26,486.83 L289.09,486.17 L289.92,485.49 L290.75,484.79 L291.58,484.08 L292.42,483.35 L293.25,482.62 L294.08,481.88 L294.91,481.14 L295.74,480.39 L296.58,479.65 L297.41,478.91 L298.24,478.18 L299.07,477.46 L299.90,476.75 L300.74,476.05 L301.57,475.38 L302.40,474.72 L303.23,474.09 L304.06,473.49 L304.89,472.92 L305.73,472.38 L306.56,471.88 L307.39,471.41 L308.22,470.98 L309.05,470.59 L309.89,470.25 L310.72,469.95 L311.55,469.69 L312.38,469.47 L313.21,469.30 L314.05,469.18 L314.88,469.10 L315.71,469.05 L316.54,469.05 L317.37,469.07 L318.21,469.10 L319.04,469.16 L319.87,469.23 L320.70,469.32 L321.53,469.43 L322.37,469.56 L323.20,469.71 L324.03,469.88 L324.86,470.06 L325.69,470.26 L326.53,470.47 L327.36,470.71 L328.19,470.95 L329.02,471.22 L329.85,471.50 L330.68,471.79 L331.52,472.10 L332.35,472.42 L333.18,472.75 L334.01,473.09 L334.84,473.45 L335.68,473.82 L336.51,474.19 L337.34,474.58 L338.17,474.97 L339.00,475.38 L339.84,475.79 L340.67,476.20 L341.50,476.63" fill="none" stroke="#e06060" stroke-width="1.0"/>
<path d="M242.50,497.43 L243.33,497.42 L244.16,497.41 L245.00,497.39 L245.83,497.37 L246.66,497.35 L247.49,497.32 L248.32,497.30 L249.16,497.28 L249.99,497.27 L250.82,497.25 L251.65,497.24 L252.48,497.24 L253.32,497.23 L254.15,497.22 L254.98,497.20 L255.81,497.18 L256.64,497.15 L257.47,497.11 L258.31,497.06 L259.14,497.01 L259.97,496.95 L260.80,496.88 L261.63,496.80 L262.47,496.71 L263.30,496.61 L264.13,496.50 L264.96,496.38 L265.79,496.25 L266.63,496.10 L267.46,495.94 L268.29,495.77 L269.12,495.57 L269.95,495.36 L270.79,495.13 L271.62,494.89 L272.45,494.62 L273.28,494.33 L274.11,494.02 L274.95,493.68 L275.78,493.32 L276.61,492.94 L277.44,492.53 L278.27,492.10 L279.11,491.64 L279.94,491.16 L280.77,490.65 L281.60,490.11 L282.43,489.55 L283.26,488.96 L284.10,488.35 L284.93,487.71 L285.76,487.05 L286.59,486.37 L287.42,485.66 L288.26,484.94 L289.09,484.20 L289.92,483.44 L290.75,482.67 L291.58,481.89 L292.42,481.10 L293.25,480.31 L294.08,479.51 L294.91,478.71 L295.74,477.92 L296.58,477.13 L297.41,476.34 L298.24,475.58 L299.07,474.82 L299.90,474.09 L300.74,473.37 L301.57,472.68 L302.40,472.02 L303.23,471.39 L304.06,470.79 L304.89,470.23 L305.73,469.71 L306.56,469.22 L307.39,468.78 L308.22,468.38 L309.05,468.03 L309.89,467.73 L310.72,467.47 L311.55,467.26 L312.38,467.09 L313.21,466.98 L314.05,466.90 L314.88,466.87 L315.71,466.88 L316.54,466.90 L317.37,466.95 L318.21,467.01 L319.04,467.10 L319.87,467.20 L320.70,467.33 L321.53,467.47 L322.37,467.64 L323.20,467.82 L324.03,468.02 L324.86,468.24 L325.69,468.48 L326.53,468.74 L327.36,469.01 L328.19,469.30 L329.02,469.60 L329.85,469.92 L330.68,470.25 L331.52,470.60 L332.35,470.96 L333.18,471.34 L334.01,471.72 L334.84,472.12 L335.68,472.53 L336.51,472.95 L337.34,473.38 L338.17,473.81 L339.00,474.25 L339.84,474.71 L340.67,475.16 L341.50,475.62" fill="none" stroke="#f0e070" stroke-width="1.0"/>
<path d="M242.50,497.31 L243.33,497.29 L244.16,497.27 L245.00,497.24 L245.83,497.20 L246.66,497.17 L247.49,497.13 L248.32,497.09 L249.16,497.06 L249.99,497.04 L250.82,497.03 L251.65,497.02 L252.48,497.02 L253.32,497.01 L254.15,497.01 L254.98,496.99 L255.81,496.97 L256.64,496.93 L257.47,496.89 L258.31,496.83 L259.14,496.76 L259.97,496.69 L260.80,496.60 L261.63,496.50 L262.47,496.39 L263.30,496.26 L264.13,496.13 L264.96,495.98 L265.79,495.81 L266.63,495.63 L267.46,495.43 L268.29,495.21 L269.12,494.98 L269.95,494.72 L270.79,494.44 L271.62,494.14 L272.45,493.82 L273.28,493.47 L274.11,493.10 L274.95,492.70 L275.78,492.27 L276.61,491.82 L277.44,491.34 L278.27,490.83 L279.11,490.29 L279.94,489.72 L280.77,489.13 L281.60,488.51 L282.43,487.86 L283.26,487.19 L284.10,486.48 L284.93,485.76 L285.76,485.01 L286.59,484.24 L287.42,483.45 L288.26,482.64 L289.09,481.82 L289.92,480.99 L290.75,480.14 L291.58,479.29 L292.42,478.43 L293.25,477.57 L294.08,476.71 L294.91,475.85 L295.74,475.01 L296.58,474.17 L297.41,473.35 L298.24,472.55 L299.07,471.77 L299.90,471.02 L300.74,470.29 L301.57,469.60 L302.40,468.94 L303.23,468.32 L304.06,467.73 L304.89,467.19 L305.73,466.70 L306.56,466.25 L307.39,465.85 L308.22,465.50 L309.05,465.19 L309.89,464.94 L310.72,464.74 L311.55,464.59 L312.38,464.48 L313.21,464.42 L314.05,464.41 L314.88,464.42 L315.71,464.46 L316.54,464.51 L317.37,464.59 L318.21,464.69 L319.04,464.81 L319.87,464.96 L320.70,465.12 L321.53,465.31 L322.37,465.51 L323.20,465.74 L324.03,465.99 L324.86,466.25 L325.69,466.53 L326.53,466.83 L327.36,467.15 L328.19,467.49 L329.02,467.84 L329.85,468.21 L330.68,468.59 L331.52,468.98 L332.35,469.39 L333.18,469.82 L334.01,470.25 L334.84,470.69 L335.68,471.15 L336.51,471.61 L337.34,472.09 L338.17,472.57 L339.00,473.06 L339.84,473.55 L340.67,474.06 L341.50,474.56" fill="none" stroke="#90c060" stroke-width="1.0"/>
<path d="M242.50,497.14 L243.33,497.11 L244.16,497.08 L245.00,497.03 L245.83,496.98 L246.66,496.93 L247.49,496.87 L248.32,496.81 L249.16,496.77 L249.99,496.74 L250.82,496.72 L251.65,496.71 L252.48,496.71 L253.32,496.71 L254.15,496.71 L254.98,496.70 L255.81,496.67 L256.64,496.63 L257.47,496.57 L258.31,496.49 L259.14,496.41 L259.97,496.30 L260.80,496.19 L261.63,496.06 L262.47,495.91 L263.30,495.75 L264.13,495.57 L264.96,495.38 L265.79,495.17 L266.63,494.93 L267.46,494.68 L268.29,494.40 L269.12,494.10 L269.95,493.78 L270.79,493.43 L271.62,493.05 L272.45,492.65 L273.28,492.21 L274.11,491.75 L274.95,491.26 L275.78,490.74 L276.61,490.19 L277.44,489.60 L278.27,488.99 L279.11,488.34 L279.94,487.67 L280.77,486.96 L281.60,486.23 L282.43,485.46 L283.26,484.68 L284.10,483.86 L284.93,483.02 L285.76,482.16 L286.59,481.28 L287.42,480.38 L288.26,479.47 L289.09,478.55 L289.92,477.61 L290.75,476.68 L291.58,475.74 L292.42,474.80 L293.25,473.86 L294.08,472.94 L294.91,472.03 L295.74,471.13 L296.58,470.25 L297.41,469.40 L298.24,468.57 L299.07,467.78 L299.90,467.02 L300.74,466.29 L301.57,465.61 L302.40,464.97 L303.23,464.37 L304.06,463.82 L304.89,463.32 L305.73,462.88 L306.56,462.49 L307.39,462.15 L308.22,461.86 L309.05,461.63 L309.89,461.45 L310.72,461.33 L311.55,461.25 L312.38,461.22 L313.21,461.23 L314.05,461.26 L314.88,461.31 L315.71,461.39 L316.54,461.49 L317.37,461.62 L318.21,461.77 L319.04,461.94 L319.87,462.14 L320.70,462.35 L321.53,462.60 L322.37,462.86 L323.20,463.14 L324.03,463.44 L324.86,463.77 L325.69,464.11 L326.53,464.47 L327.36,464.85 L328.19,465.25 L329.02,465.66 L329.85,466.09 L330.68,466.54 L331.52,467.00 L332.35,467.47 L333.18,467.95 L334.01,468.45 L334.84,468.95 L335.68,469.47 L336.51,470.00 L337.34,470.53 L338.17,471.07 L339.00,471.62 L339.84,472.17 L340.67,472.73 L341.50,473.29" fill="none" stroke="#a09030" stroke-width="1.0"/>
<path d="M242.50,496.73 L243.33,496.68 L244.16,496.61 L245.00,496.53 L245.83,496.43 L246.66,496.33 L247.49,496.22 L248.32,496.12 L249.16,496.03 L249.99,495.97 L250.82,495.94 L251.65,495.93 L252.48,495.92 L253.32,495.93 L254.15,495.92 L254.98,495.89 L255.81,495.84 L256.64,495.77 L257.47,495.66 L258.31,495.53 L259.14,495.38 L259.97,495.20 L260.80,495.00 L261.63,494.77 L262.47,494.52 L263.30,494.25 L264.13,493.95 L264.96,493.62 L265.79,493.27 L266.63,492.89 L267.46,492.47 L268.29,492.03 L269.12,491.55 L269.95,491.03 L270.79,490.48 L271.62,489.90 L272.45,489.28 L273.28,488.62 L274.11,487.92 L274.95,487.19 L275.78,486.42 L276.61,485.61 L277.44,484.76 L278.27,483.88 L279.11,482.97 L279.94,482.02 L280.77,481.05 L281.60,480.04 L282.43,479.01 L283.26,477.95 L284.10,476.88 L284.93,475.78 L285.76,474.67 L286.59,473.55 L287.42,472.43 L288.26,471.30 L289.09,470.17 L289.92,469.05 L290.75,467.94 L291.58,466.85 L292.42,465.77 L293.25,464.72 L294.08,463.69 L294.91,462.70 L295.74,461.74 L296.58,460.83 L297.41,459.95 L298.24,459.13 L299.07,458.36 L299.90,457.64 L300.74,456.97 L301.57,456.37 L302.40,455.83 L303.23,455.34 L304.06,454.92 L304.89,454.57 L305.73,454.27 L306.56,454.04 L307.39,453.87 L308.22,453.75 L309.05,453.69 L309.89,453.68 L310.72,453.70 L311.55,453.75 L312.38,453.82 L313.21,453.93 L314.05,454.07 L314.88,454.23 L315.71,454.43 L316.54,454.65 L317.37,454.90 L318.21,455.17 L319.04,455.47 L319.87,455.80 L320.70,456.16 L321.53,456.53 L322.37,456.94 L323.20,457.36 L324.03,457.81 L324.86,458.28 L325.69,458.77 L326.53,459.28 L327.36,459.80 L328.19,460.35 L329.02,460.91 L329.85,461.49 L330.68,462.08 L331.52,462.68 L332.35,463.30 L333.18,463.93 L334.01,464.57 L334.84,465.22 L335.68,465.88 L336.51,466.54 L337.34,467.21 L338.17,467.89 L339.00,468.56 L339.84,469.25 L340.67,469.93 L341.50,470.62" fill="none" stroke="#444444" stroke-width="1.0"/>
<path d="M242.50,496.33 L243.33,496.25 L244.16,496.15 L245.00,496.03 L245.83,495.88 L246.66,495.72 L247.49,495.56 L248.32,495.41 L249.16,495.28 L249.99,495.18 L250.82,495.12 L251.65,495.09 L252.48,495.08 L253.32,495.07 L254.15,495.04 L254.98,494.99 L255.81,494.91 L256.64,494.78 L257.47,494.62 L258.31,494.41 L259.14,494.17 L259.97,493.90 L260.80,493.59 L261.63,493.25 L262.47,492.88 L263.30,492.48 L264.13,492.03 L264.96,491.56 L265.79,491.04 L266.63,490.49 L267.46,489.90 L268.29,489.26 L269.12,488.59 L269.95,487.87 L270.79,487.11 L271.62,486.30 L272.45,485.45 L273.28,484.56 L274.11,483.62 L274.95,482.64 L275.78,481.62 L276.61,480.56 L277.44,479.46 L278.27,478.33 L279.11,477.16 L279.94,475.97 L280.77,474.74 L281.60,473.49 L282.43,472.23 L283.26,470.94 L284.10,469.65 L284.93,468.34 L285.76,467.04 L286.59,465.73 L287.42,464.44 L288.26,463.15 L289.09,461.89 L289.92,460.64 L290.75,459.43 L291.58,458.24 L292.42,457.10 L293.25,455.99 L294.08,454.94 L294.91,453.93 L295.74,452.98 L296.58,452.09 L297.41,451.26 L298.24,450.49 L299.07,449.79 L299.90,449.16 L300.74,448.60 L301.57,448.11 L302.40,447.69 L303.23,447.34 L304.06,447.06 L304.89,446.85 L305.73,446.70 L306.56,446.61 L307.39,446.58 L308.22,446.58 L309.05,446.62 L309.89,446.70 L310.72,446.81 L311.55,446.95 L312.38,447.13 L313.21,447.34 L314.05,447.59 L314.88,447.86 L315.71,448.17 L316.54,448.51 L317.37,448.88 L318.21,449.28 L319.04,449.71 L319.87,450.17 L320.70,450.65 L321.53,451.16 L322.37,451.70 L323.20,452.26 L324.03,452.84 L324.86,453.45 L325.69,454.08 L326.53,454.72 L327.36,455.39 L328.19,456.07 L329.02,456.77 L329.85,457.48 L330.68,458.21 L331.52,458.95 L332.35,459.70 L333.18,460.46 L334.01,461.23 L334.84,462.01 L335.68,462.80 L336.51,463.58 L337.34,464.38 L338.17,465.17 L339.00,465.97 L339.84,466.77 L340.67,467.56 L341.50,468.36" fill="none" stroke="#b080d0" stroke-width="1.0"/>
<path d="M242.50,495.91 L243.33,495.81 L244.16,495.67 L245.00,495.51 L245.83,495.31 L246.66,495.09 L247.49,494.87 L248.32,494.66 L249.16,494.49 L249.99,494.35 L250.82,494.26 L251.65,494.20 L252.48,494.17 L253.32,494.14 L254.15,494.09 L254.98,494.00 L255.81,493.87 L256.64,493.68 L257.47,493.44 L258.31,493.15 L259.14,492.81 L259.97,492.43 L260.80,492.01 L261.63,491.54 L262.47,491.03 L263.30,490.48 L264.13,489.88 L264.96,489.24 L265.79,488.55 L266.63,487.82 L267.46,487.04 L268.29,486.20 L269.12,485.32 L269.95,484.39 L270.79,483.41 L271.62,482.37 L272.45,481.29 L273.28,480.16 L274.11,478.99 L274.95,477.77 L275.78,476.51 L276.61,475.21 L277.44,473.87 L278.27,472.50 L279.11,471.10 L279.94,469.67 L280.77,468.23 L281.60,466.77 L282.43,465.29 L283.26,463.82 L284.10,462.34 L284.93,460.86 L285.76,459.40 L286.59,457.95 L287.42,456.53 L288.26,455.13 L289.09,453.77 L289.92,452.45 L290.75,451.17 L291.58,449.94 L292.42,448.77 L293.25,447.65 L294.08,446.60 L294.91,445.62 L295.74,444.70 L296.58,443.86 L297.41,443.10 L298.24,442.41 L299.07,441.80 L299.90,441.26 L300.74,440.81 L301.57,440.43 L302.40,440.13 L303.23,439.91 L304.06,439.75 L304.89,439.66 L305.73,439.62 L306.56,439.62 L307.39,439.67 L308.22,439.75 L309.05,439.87 L309.89,440.03 L310.72,440.23 L311.55,440.47 L312.38,440.75 L313.21,441.06 L314.05,441.41 L314.88,441.80 L315.71,442.22 L316.54,442.68 L317.37,443.16 L318.21,443.68 L319.04,444.24 L319.87,444.82 L320.70,445.43 L321.53,446.07 L322.37,446.73 L323.20,447.42 L324.03,448.14 L324.86,448.88 L325.69,449.64 L326.53,450.41 L327.36,451.21 L328.19,452.02 L329.02,452.85 L329.85,453.70 L330.68,454.55 L331.52,455.42 L332.35,456.30 L333.18,457.19 L334.01,458.08 L334.84,458.98 L335.68,459.88 L336.51,460.79 L337.34,461.69 L338.17,462.60 L339.00,463.51 L339.84,464.41 L340.67,465.31 L341.50,466.21" fill="none" stroke="#f0d040" stroke-width="1.0"/>
<path d="M242.50,495.10 L243.33,494.93 L244.16,494.73 L245.00,494.47 L245.83,494.17 L246.66,493.84 L247.49,493.50 L248.32,493.18 L249.16,492.90 L249.99,492.67 L250.82,492.51 L251.65,492.40 L252.48,492.31 L253.32,492.23 L254.15,492.11 L254.98,491.94 L255.81,491.70 L256.64,491.39 L257.47,490.99 L258.31,490.52 L259.14,489.98 L259.97,489.38 L260.80,488.71 L261.63,487.98 L262.47,487.20 L263.30,486.35 L264.13,485.45 L264.96,484.48 L265.79,483.45 L266.63,482.36 L267.46,481.21 L268.29,480.00 L269.12,478.72 L269.95,477.38 L270.79,475.99 L271.62,474.53 L272.45,473.03 L273.28,471.47 L274.11,469.86 L274.95,468.21 L275.78,466.52 L276.61,464.80 L277.44,463.04 L278.27,461.26 L279.11,459.47 L279.94,457.66 L280.77,455.84 L281.60,454.03 L282.43,452.23 L283.26,450.44 L284.10,448.67 L284.93,446.94 L285.76,445.24 L286.59,443.58 L287.42,441.97 L288.26,440.42 L289.09,438.94 L289.92,437.51 L290.75,436.17 L291.58,434.90 L292.42,433.71 L293.25,432.60 L294.08,431.58 L294.91,430.66 L295.74,429.82 L296.58,429.08 L297.41,428.43 L298.24,427.87 L299.07,427.41 L299.90,427.03 L300.74,426.73 L301.57,426.52 L302.40,426.37 L303.23,426.30 L304.06,426.28 L304.89,426.30 L305.73,426.37 L306.56,426.49 L307.39,426.65 L308.22,426.87 L309.05,427.13 L309.89,427.45 L310.72,427.81 L311.55,428.21 L312.38,428.66 L313.21,429.16 L314.05,429.70 L314.88,430.28 L315.71,430.90 L316.54,431.56 L317.37,432.26 L318.21,433.00 L319.04,433.77 L319.87,434.57 L320.70,435.41 L321.53,436.28 L322.37,437.18 L323.20,438.11 L324.03,439.06 L324.86,440.03 L325.69,441.03 L326.53,442.05 L327.36,443.09 L328.19,444.14 L329.02,445.21 L329.85,446.29 L330.68,447.38 L331.52,448.48 L332.35,449.59 L333.18,450.71 L334.01,451.83 L334.84,452.95 L335.68,454.07 L336.51,455.20 L337.34,456.32 L338.17,457.43 L339.00,458.54 L339.84,459.65 L340.67,460.74 L341.50,461.83" fill="none" stroke="#5a5a30" stroke-width="1.0"/>
<path d="M242.50,494.71 L243.33,494.52 L244.16,494.28 L245.00,493.99 L245.83,493.64 L246.66,493.25 L247.49,492.86 L248.32,492.48 L249.16,492.15 L249.99,491.89 L250.82,491.69 L251.65,491.55 L252.48,491.44 L253.32,491.33 L254.15,491.19 L254.98,490.98 L255.81,490.69 L256.64,490.32 L257.47,489.85 L258.31,489.30 L259.14,488.66 L259.97,487.96 L260.80,487.18 L261.63,486.33 L262.47,485.42 L263.30,484.44 L264.13,483.39 L264.96,482.28 L265.79,481.09 L266.63,479.84 L267.46,478.52 L268.29,477.14 L269.12,475.68 L269.95,474.16 L270.79,472.58 L271.62,470.94 L272.45,469.25 L273.28,467.50 L274.11,465.70 L274.95,463.86 L275.78,461.98 L276.61,460.07 L277.44,458.14 L278.27,456.18 L279.11,454.21 L279.94,452.24 L280.77,450.27 L281.60,448.31 L282.43,446.36 L283.26,444.44 L284.10,442.55 L284.93,440.70 L285.76,438.90 L286.59,437.15 L287.42,435.47 L288.26,433.85 L289.09,432.30 L289.92,430.83 L290.75,429.45 L291.58,428.16 L292.42,426.95 L293.25,425.84 L294.08,424.83 L294.91,423.91 L295.74,423.10 L296.58,422.38 L297.41,421.76 L298.24,421.24 L299.07,420.81 L299.90,420.47 L300.74,420.22 L301.57,420.05 L302.40,419.94 L303.23,419.90 L304.06,419.90 L304.89,419.96 L305.73,420.06 L306.56,420.22 L307.39,420.44 L308.22,420.70 L309.05,421.02 L309.89,421.39 L310.72,421.82 L311.55,422.29 L312.38,422.81 L313.21,423.38 L314.05,424.00 L314.88,424.66 L315.71,425.37 L316.54,426.12 L317.37,426.91 L318.21,427.74 L319.04,428.61 L319.87,429.51 L320.70,430.45 L321.53,431.42 L322.37,432.42 L323.20,433.45 L324.03,434.51 L324.86,435.59 L325.69,436.70 L326.53,437.83 L327.36,438.97 L328.19,440.14 L329.02,441.31 L329.85,442.50 L330.68,443.70 L331.52,444.91 L332.35,446.13 L333.18,447.35 L334.01,448.58 L334.84,449.81 L335.68,451.04 L336.51,452.26 L337.34,453.48 L338.17,454.70 L339.00,455.91 L339.84,457.11 L340.67,458.30 L341.50,459.48" fill="none" stroke="#c8d4e4" stroke-width="1.0"/>
<path d="M242.50,494.48 L243.33,494.28 L244.16,494.02 L245.00,493.70 L245.83,493.32 L246.66,492.90 L247.49,492.48 L248.32,492.07 L249.16,491.71 L249.99,491.42 L250.82,491.20 L251.65,491.05 L252.48,490.93 L253.32,490.81 L254.15,490.65 L254.98,490.42 L255.81,490.10 L256.64,489.69 L257.47,489.18 L258.31,488.58 L259.14,487.90 L259.97,487.13 L260.80,486.29 L261.63,485.37 L262.47,484.38 L263.30,483.32 L264.13,482.19 L264.96,480.99 L265.79,479.72 L266.63,478.37 L267.46,476.96 L268.29,475.47 L269.12,473.91 L269.95,472.29 L270.79,470.60 L271.62,468.85 L272.45,467.04 L273.28,465.18 L274.11,463.27 L274.95,461.32 L275.78,459.33 L276.61,457.31 L277.44,455.27 L278.27,453.21 L279.11,451.14 L279.94,449.06 L280.77,447.00 L281.60,444.95 L282.43,442.91 L283.26,440.91 L284.10,438.95 L284.93,437.03 L285.76,435.17 L286.59,433.36 L287.42,431.63 L288.26,429.96 L289.09,428.38 L289.92,426.88 L290.75,425.47 L291.58,424.15 L292.42,422.93 L293.25,421.81 L294.08,420.79 L294.91,419.88 L295.74,419.07 L296.58,418.36 L297.41,417.75 L298.24,417.24 L299.07,416.82 L299.90,416.50 L300.74,416.26 L301.57,416.10 L302.40,416.02 L303.23,415.98 L304.06,416.00 L304.89,416.06 L305.73,416.19 L306.56,416.37 L307.39,416.60 L308.22,416.90 L309.05,417.24 L309.89,417.65 L310.72,418.10 L311.55,418.61 L312.38,419.17 L313.21,419.79 L314.05,420.45 L314.88,421.15 L315.71,421.91 L316.54,422.71 L317.37,423.55 L318.21,424.44 L319.04,425.36 L319.87,426.32 L320.70,427.32 L321.53,428.35 L322.37,429.41 L323.20,430.51 L324.03,431.63 L324.86,432.77 L325.69,433.94 L326.53,435.13 L327.36,436.35 L328.19,437.57 L329.02,438.82 L329.85,440.07 L330.68,441.34 L331.52,442.62 L332.35,443.90 L333.18,445.19 L334.01,446.48 L334.84,447.77 L335.68,449.06 L336.51,450.35 L337.34,451.64 L338.17,452.91 L339.00,454.18 L339.84,455.44 L340.67,456.69 L341.50,457.93" fill="none" stroke="#8cb050" stroke-width="1.0"/>
<path d="M242.50,494.27 L243.33,494.05 L244.16,493.78 L245.00,493.43 L245.83,493.03 L246.66,492.59 L247.49,492.13 L248.32,491.69 L249.16,491.31 L249.99,491.00 L250.82,490.76 L251.65,490.60 L252.48,490.47 L253.32,490.34 L254.15,490.16 L254.98,489.92 L255.81,489.58 L256.64,489.14 L257.47,488.60 L258.31,487.95 L259.14,487.22 L259.97,486.40 L260.80,485.50 L261.63,484.52 L262.47,483.47 L263.30,482.34 L264.13,481.14 L264.96,479.86 L265.79,478.50 L266.63,477.07 L267.46,475.57 L268.29,473.99 L269.12,472.34 L269.95,470.62 L270.79,468.83 L271.62,466.98 L272.45,465.08 L273.28,463.11 L274.11,461.11 L274.95,459.05 L275.78,456.96 L276.61,454.85 L277.44,452.70 L278.27,450.55 L279.11,448.39 L279.94,446.22 L280.77,444.07 L281.60,441.94 L282.43,439.83 L283.26,437.75 L284.10,435.72 L284.93,433.74 L285.76,431.81 L286.59,429.95 L287.42,428.17 L288.26,426.46 L289.09,424.83 L289.92,423.30 L290.75,421.86 L291.58,420.52 L292.42,419.28 L293.25,418.15 L294.08,417.12 L294.91,416.20 L295.74,415.38 L296.58,414.67 L297.41,414.07 L298.24,413.56 L299.07,413.16 L299.90,412.84 L300.74,412.61 L301.57,412.47 L302.40,412.38 L303.23,412.36 L304.06,412.38 L304.89,412.45 L305.73,412.59 L306.56,412.78 L307.39,413.04 L308.22,413.35 L309.05,413.72 L309.89,414.15 L310.72,414.64 L311.55,415.18 L312.38,415.77 L313.21,416.42 L314.05,417.12 L314.88,417.86 L315.71,418.66 L316.54,419.50 L317.37,420.39 L318.21,421.32 L319.04,422.30 L319.87,423.31 L320.70,424.36 L321.53,425.44 L322.37,426.56 L323.20,427.71 L324.03,428.89 L324.86,430.09 L325.69,431.32 L326.53,432.57 L327.36,433.84 L328.19,435.13 L329.02,436.44 L329.85,437.75 L330.68,439.08 L331.52,440.42 L332.35,441.77 L333.18,443.11 L334.01,444.47 L334.84,445.82 L335.68,447.17 L336.51,448.52 L337.34,449.86 L338.17,451.19 L339.00,452.52 L339.84,453.84 L340.67,455.14 L341.50,456.43" fill="none" stroke="#6a4aa8" stroke-width="1.0"/>
<path d="M242.50,494.21 L243.33,493.99 L244.16,493.71 L245.00,493.36 L245.83,492.95 L246.66,492.50 L247.49,492.03 L248.32,491.59 L249.16,491.20 L249.99,490.88 L250.82,490.64 L251.65,490.48 L252.48,490.34 L253.32,490.21 L254.15,490.03 L254.98,489.78 L255.81,489.44 L256.64,488.99 L257.47,488.44 L258.31,487.78 L259.14,487.03 L259.97,486.20 L260.80,485.28 L261.63,484.29 L262.47,483.22 L263.30,482.07 L264.13,480.85 L264.96,479.55 L265.79,478.17 L266.63,476.72 L267.46,475.19 L268.29,473.58 L269.12,471.91 L269.95,470.16 L270.79,468.35 L271.62,466.47 L272.45,464.54 L273.28,462.55 L274.11,460.51 L274.95,458.43 L275.78,456.32 L276.61,454.17 L277.44,452.00 L278.27,449.82 L279.11,447.63 L279.94,445.44 L280.77,443.27 L281.60,441.11 L282.43,438.98 L283.26,436.88 L284.10,434.83 L284.93,432.83 L285.76,430.89 L286.59,429.01 L287.42,427.21 L288.26,425.49 L289.09,423.86 L289.92,422.31 L290.75,420.87 L291.58,419.52 L292.42,418.27 L293.25,417.13 L294.08,416.10 L294.91,415.18 L295.74,414.36 L296.58,413.65 L297.41,413.05 L298.24,412.54 L299.07,412.14 L299.90,411.82 L300.74,411.60 L301.57,411.45 L302.40,411.37 L303.23,411.34 L304.06,411.36 L304.89,411.44 L305.73,411.58 L306.56,411.78 L307.39,412.04 L308.22,412.36 L309.05,412.73 L309.89,413.17 L310.72,413.66 L311.55,414.21 L312.38,414.81 L313.21,415.47 L314.05,416.18 L314.88,416.94 L315.71,417.74 L316.54,418.60 L317.37,419.50 L318.21,420.44 L319.04,421.43 L319.87,422.46 L320.70,423.52 L321.53,424.62 L322.37,425.75 L323.20,426.92 L324.03,428.11 L324.86,429.33 L325.69,430.58 L326.53,431.85 L327.36,433.13 L328.19,434.44 L329.02,435.76 L329.85,437.09 L330.68,438.44 L331.52,439.79 L332.35,441.16 L333.18,442.52 L334.01,443.89 L334.84,445.26 L335.68,446.63 L336.51,447.99 L337.34,449.35 L338.17,450.70 L339.00,452.04 L339.84,453.38 L340.67,454.70 L341.50,456.00" fill="none" stroke="#c0448a" stroke-width="1.0"/>
<path d="M242.50,494.01 L243.33,493.78 L244.16,493.48 L245.00,493.10 L245.83,492.67 L246.66,492.19 L247.49,491.70 L248.32,491.22 L249.16,490.81 L249.99,490.47 L250.82,490.22 L251.65,490.04 L252.48,489.90 L253.32,489.76 L254.15,489.57 L254.98,489.31 L255.81,488.94 L256.64,488.47 L257.47,487.88 L258.31,487.18 L259.14,486.39 L259.97,485.51 L260.80,484.54 L261.63,483.48 L262.47,482.35 L263.30,481.13 L264.13,479.84 L264.96,478.46 L265.79,477.01 L266.63,475.47 L267.46,473.86 L268.29,472.17 L269.12,470.41 L269.95,468.57 L270.79,466.66 L271.62,464.69 L272.45,462.66 L273.28,460.57 L274.11,458.43 L274.95,456.26 L275.78,454.04 L276.61,451.80 L277.44,449.53 L278.27,447.26 L279.11,444.98 L279.94,442.70 L280.77,440.44 L281.60,438.20 L282.43,435.99 L283.26,433.82 L284.10,431.69 L284.93,429.63 L285.76,427.62 L286.59,425.69 L287.42,423.84 L288.26,422.07 L289.09,420.40 L289.92,418.82 L290.75,417.34 L291.58,415.96 L292.42,414.69 L293.25,413.54 L294.08,412.49 L294.91,411.55 L295.74,410.73 L296.58,410.01 L297.41,409.41 L298.24,408.90 L299.07,408.50 L299.90,408.19 L300.74,407.96 L301.57,407.82 L302.40,407.74 L303.23,407.72 L304.06,407.74 L304.89,407.82 L305.73,407.97 L306.56,408.18 L307.39,408.46 L308.22,408.79 L309.05,409.19 L309.89,409.65 L310.72,410.16 L311.55,410.74 L312.38,411.37 L313.21,412.06 L314.05,412.80 L314.88,413.60 L315.71,414.45 L316.54,415.34 L317.37,416.29 L318.21,417.28 L319.04,418.31 L319.87,419.39 L320.70,420.50 L321.53,421.65 L322.37,422.84 L323.20,424.06 L324.03,425.31 L324.86,426.58 L325.69,427.89 L326.53,429.21 L327.36,430.56 L328.19,431.92 L329.02,433.30 L329.85,434.70 L330.68,436.11 L331.52,437.52 L332.35,438.94 L333.18,440.37 L334.01,441.80 L334.84,443.23 L335.68,444.66 L336.51,446.08 L337.34,447.50 L338.17,448.91 L339.00,450.31 L339.84,451.70 L340.67,453.08 L341.50,454.44" fill="none" stroke="#8a8ad0" stroke-width="1.0"/>
<path d="M242.50,493.94 L243.33,493.71 L244.16,493.40 L245.00,493.02 L245.83,492.58 L246.66,492.09 L247.49,491.59 L248.32,491.11 L249.16,490.69 L249.99,490.34 L250.82,490.09 L251.65,489.91 L252.48,489.76 L253.32,489.62 L254.15,489.43 L254.98,489.16 L255.81,488.79 L256.64,488.30 L257.47,487.70 L258.31,487.00 L259.14,486.19 L259.97,485.29 L260.80,484.30 L261.63,483.23 L262.47,482.08 L263.30,480.84 L264.13,479.52 L264.96,478.12 L265.79,476.64 L266.63,475.08 L267.46,473.44 L268.29,471.73 L269.12,469.93 L269.95,468.06 L270.79,466.13 L271.62,464.13 L272.45,462.06 L273.28,459.94 L274.11,457.78 L274.95,455.57 L275.78,453.32 L276.61,451.05 L277.44,448.75 L278.27,446.45 L279.11,444.14 L279.94,441.83 L280.77,439.54 L281.60,437.28 L282.43,435.04 L283.26,432.85 L284.10,430.70 L284.93,428.61 L285.76,426.59 L286.59,424.64 L287.42,422.77 L288.26,420.99 L289.09,419.30 L289.92,417.71 L290.75,416.22 L291.58,414.83 L292.42,413.56 L293.25,412.39 L294.08,411.34 L294.91,410.40 L295.74,409.57 L296.58,408.85 L297.41,408.24 L298.24,407.74 L299.07,407.33 L299.90,407.02 L300.74,406.80 L301.57,406.66 L302.40,406.58 L303.23,406.56 L304.06,406.58 L304.89,406.67 L305.73,406.82 L306.56,407.03 L307.39,407.31 L308.22,407.65 L309.05,408.05 L309.89,408.51 L310.72,409.04 L311.55,409.62 L312.38,410.27 L313.21,410.96 L314.05,411.72 L314.88,412.53 L315.71,413.38 L316.54,414.29 L317.37,415.25 L318.21,416.26 L319.04,417.30 L319.87,418.39 L320.70,419.53 L321.53,420.69 L322.37,421.90 L323.20,423.13 L324.03,424.40 L324.86,425.69 L325.69,427.02 L326.53,428.36 L327.36,429.73 L328.19,431.11 L329.02,432.51 L329.85,433.92 L330.68,435.35 L331.52,436.79 L332.35,438.23 L333.18,439.67 L334.01,441.12 L334.84,442.57 L335.68,444.02 L336.51,445.46 L337.34,446.90 L338.17,448.33 L339.00,449.75 L339.84,451.16 L340.67,452.55 L341.50,453.93" fill="none" stroke="#5a7ed0" stroke-width="1.0"/>
<path d="M242.50,493.91 L243.33,493.67 L244.16,493.36 L245.00,492.98 L245.83,492.54 L246.66,492.04 L247.49,491.54 L248.32,491.05 L249.16,490.63 L249.99,490.28 L250.82,490.02 L251.65,489.84 L252.48,489.69 L253.32,489.55 L254.15,489.36 L254.98,489.09 L255.81,488.71 L256.64,488.22 L257.47,487.62 L258.31,486.90 L259.14,486.09 L259.97,485.18 L260.80,484.18 L261.63,483.10 L262.47,481.94 L263.30,480.69 L264.13,479.36 L264.96,477.95 L265.79,476.46 L266.63,474.89 L267.46,473.24 L268.29,471.50 L269.12,469.69 L269.95,467.81 L270.79,465.86 L271.62,463.84 L272.45,461.77 L273.28,459.63 L274.11,457.45 L274.95,455.22 L275.78,452.96 L276.61,450.67 L277.44,448.36 L278.27,446.04 L279.11,443.72 L279.94,441.40 L280.77,439.10 L281.60,436.82 L282.43,434.57 L283.26,432.36 L284.10,430.20 L284.93,428.11 L285.76,426.07 L286.59,424.12 L287.42,422.24 L288.26,420.45 L289.09,418.75 L289.92,417.15 L290.75,415.66 L291.58,414.27 L292.42,412.99 L293.25,411.82 L294.08,410.76 L294.91,409.82 L295.74,408.99 L296.58,408.27 L297.41,407.66 L298.24,407.16 L299.07,406.75 L299.90,406.44 L300.74,406.22 L301.57,406.08 L302.40,406.00 L303.23,405.98 L304.06,406.00 L304.89,406.09 L305.73,406.24 L306.56,406.45 L307.39,406.73 L308.22,407.07 L309.05,407.48 L309.89,407.95 L310.72,408.48 L311.55,409.06 L312.38,409.71 L313.21,410.42 L314.05,411.17 L314.88,411.99 L315.71,412.85 L316.54,413.77 L317.37,414.73 L318.21,415.75 L319.04,416.80 L319.87,417.90 L320.70,419.04 L321.53,420.21 L322.37,421.42 L323.20,422.67 L324.03,423.95 L324.86,425.25 L325.69,426.58 L326.53,427.93 L327.36,429.31 L328.19,430.70 L329.02,432.11 L329.85,433.54 L330.68,434.97 L331.52,436.42 L332.35,437.87 L333.18,439.32 L334.01,440.78 L334.84,442.24 L335.68,443.70 L336.51,445.15 L337.34,446.60 L338.17,448.04 L339.00,449.47 L339.84,450.88 L340.67,452.29 L341.50,453.68" fill="none" stroke="#2b5868" stroke-width="1.0"/>
<line x1="473.5" y1="311.89" x2="473.5" y2="533.80" stroke="#000" stroke-width="3.2"/>
<line x1="465.00" y1="525.8" x2="759.5" y2="525.8" stroke="#000" stroke-width="3.2"/>
<line x1="465.00" y1="525.80" x2="473.5" y2="525.80" stroke="#000" stroke-width="3.2"/>
<text transform="translate(449.60,532.30) scale(1,1.06)" font-family='"Liberation Sans", sans-serif' font-weight="bold" font-size="14.6">0</text>
<line x1="465.00" y1="455.03" x2="473.5" y2="455.03" stroke="#000" stroke-width="3.2"/>
<text transform="translate(418.10,461.53) scale(1,1.06)" font-family='"Liberation Sans", sans-serif' font-weight="bold" font-size="14.6">2</text>
<text x="427.25" y="460.18" font-family='"Liberation Sans", sans-serif' font-weight="bold" font-size="12.2" stroke="#000" stroke-width="0.35">×</text>
<path d="M440.24,461.53 L438.20,461.53 L438.20,454.26 C437.47,454.88 437.03,455.18 436.38,455.49 L436.38,453.64 C437.47,453.17 438.27,452.24 438.64,450.57 L440.24,450.57 Z" fill="#000"/>
<text transform="translate(443.00,461.53) scale(1,1.06)" font-family='"Liberation Sans", sans-serif' font-weight="bold" font-size="14.6">0</text>
<text transform="translate(451.50,455.53) scale(1,1.06)" font-family='"Liberation Sans", sans-serif' font-weight="bold" font-size="10.2">6</text>
<line x1="465.00" y1="384.26" x2="473.5" y2="384.26" stroke="#000" stroke-width="3.2"/>
<text transform="translate(418.10,390.76) scale(1,1.06)" font-family='"Liberation Sans", sans-serif' font-weight="bold" font-size="14.6">4</text>
<text x="427.25" y="389.41" font-family='"Liberation Sans", sans-serif' font-weight="bold" font-size="12.2" stroke="#000" stroke-width="0.35">×</text>
<path d="M440.24,390.76 L438.20,390.76 L438.20,383.49 C437.47,384.11 437.03,384.41 436.38,384.72 L436.38,382.87 C437.47,382.40 438.27,381.47 438.64,379.80 L440.24,379.80 Z" fill="#000"/>
<text transform="translate(443.00,390.76) scale(1,1.06)" font-family='"Liberation Sans", sans-serif' font-weight="bold" font-size="14.6">0</text>
<text transform="translate(451.50,384.76) scale(1,1.06)" font-family='"Liberation Sans", sans-serif' font-weight="bold" font-size="10.2">6</text>
<line x1="465.00" y1="313.49" x2="473.5" y2="313.49" stroke="#000" stroke-width="3.2"/>
<text transform="translate(418.10,319.99) scale(1,1.06)" font-family='"Liberation Sans", sans-serif' font-weight="bold" font-size="14.6">6</text>
<text x="427.25" y="318.64" font-family='"Liberation Sans", sans-serif' font-weight="bold" font-size="12.2" stroke="#000" stroke-width="0.35">×</text>
<path d="M440.24,319.99 L438.20,319.99 L438.20,312.72 C437.47,313.34 437.03,313.64 436.38,313.95 L436.38,312.10 C437.47,311.63 438.27,310.70 438.64,309.03 L440.24,309.03 Z" fill="#000"/>
<text transform="translate(443.00,319.99) scale(1,1.06)" font-family='"Liberation Sans", sans-serif' font-weight="bold" font-size="14.6">0</text>
<text transform="translate(451.50,313.99) scale(1,1.06)" font-family='"Liberation Sans", sans-serif' font-weight="bold" font-size="10.2">6</text>
<line x1="473.50" y1="525.8" x2="473.50" y2="533.80" stroke="#000" stroke-width="3.2"/>
<text transform="translate(469.44,554.60) scale(1,1.1)" font-family='"Liberation Sans", sans-serif' font-weight="bold" font-size="14.6">0</text>
<line x1="537.38" y1="525.8" x2="537.38" y2="533.80" stroke="#000" stroke-width="3.2"/>
<text transform="translate(529.26,554.60) scale(1,1.1)" font-family='"Liberation Sans", sans-serif' font-weight="bold" font-size="14.6">5</text>
<text transform="translate(537.38,554.60) scale(1,1.1)" font-family='"Liberation Sans", sans-serif' font-weight="bold" font-size="14.6">0</text>
<line x1="601.25" y1="525.8" x2="601.25" y2="533.80" stroke="#000" stroke-width="3.2"/>
<path d="M594.77,554.60 L592.72,554.60 L592.72,547.05 C591.99,547.69 591.56,548.02 590.90,548.34 L590.90,546.41 C591.99,545.93 592.80,544.96 593.16,543.23 L594.77,543.23 Z" fill="#000"/>
<text transform="translate(597.19,554.60) scale(1,1.1)" font-family='"Liberation Sans", sans-serif' font-weight="bold" font-size="14.6">0</text>
<text transform="translate(605.31,554.60) scale(1,1.1)" font-family='"Liberation Sans", sans-serif' font-weight="bold" font-size="14.6">0</text>
<line x1="665.12" y1="525.8" x2="665.12" y2="533.80" stroke="#000" stroke-width="3.2"/>
<path d="M658.64,554.60 L656.60,554.60 L656.60,547.05 C655.87,547.69 655.43,548.02 654.77,548.34 L654.77,546.41 C655.87,545.93 656.67,544.96 657.04,543.23 L658.64,543.23 Z" fill="#000"/>
<text transform="translate(661.07,554.60) scale(1,1.1)" font-family='"Liberation Sans", sans-serif' font-weight="bold" font-size="14.6">5</text>
<text transform="translate(669.18,554.60) scale(1,1.1)" font-family='"Liberation Sans", sans-serif' font-weight="bold" font-size="14.6">0</text>
<line x1="729.00" y1="525.8" x2="729.00" y2="533.80" stroke="#000" stroke-width="3.2"/>
<text transform="translate(716.82,554.60) scale(1,1.1)" font-family='"Liberation Sans", sans-serif' font-weight="bold" font-size="14.6">2</text>
<text transform="translate(724.94,554.60) scale(1,1.1)" font-family='"Liberation Sans", sans-serif' font-weight="bold" font-size="14.6">0</text>
<text transform="translate(733.06,554.60) scale(1,1.1)" font-family='"Liberation Sans", sans-serif' font-weight="bold" font-size="14.6">0</text>
<text x="546.9" y="579" font-family='"Liberation Serif", serif' font-size="17.0" stroke="#000" stroke-width="0.2" textLength="124.3" lengthAdjust="spacing">[Nter-NPM1]μM</text>
<text transform="translate(397.3,510.8) rotate(-90)" x="0" y="0" font-family='"Liberation Serif", serif' font-size="17.0" stroke="#000" stroke-width="0.2" textLength="175.3" lengthAdjust="spacing">Fluorescence (rel.units)</text>
<text x="384.95" y="311.75" font-family='"Liberation Sans", sans-serif' font-weight="bold" font-size="16">d</text>
<path d="M473.00,493.00 C473.50,488.83 474.00,484.67 474.50,480.50 C475.00,476.33 475.52,471.87 476.00,468.00 C476.48,464.13 476.78,461.70 477.40,457.30 C478.02,452.90 478.97,445.87 479.70,441.60 C480.43,437.33 480.83,434.97 481.80,431.70 C482.77,428.43 484.18,424.85 485.50,422.00 C486.82,419.15 488.10,416.98 489.70,414.60 C491.30,412.22 493.38,409.42 495.10,407.70 C496.82,405.98 498.35,405.32 500.00,404.30 C501.65,403.28 503.33,402.43 505.00,401.60 C506.67,400.77 508.00,400.13 510.00,399.30 C512.00,398.47 513.70,397.65 517.00,396.60 C520.30,395.55 525.13,394.33 529.80,393.00 C534.47,391.67 539.40,390.08 545.00,388.60 C550.60,387.12 554.07,385.95 563.40,384.10 C572.73,382.25 589.57,379.43 601.00,377.50 C612.43,375.57 621.40,374.10 632.00,372.50 C642.60,370.90 653.93,369.45 664.60,367.90 C675.27,366.35 685.40,364.73 696.00,363.20 C706.60,361.67 717.47,360.20 728.20,358.70" fill="none" stroke="#000" stroke-width="1.05"/>
<line x1="498.6" y1="403.6" x2="498.6" y2="416.6" stroke="#000" stroke-width="2.5"/>
<line x1="493.70000000000005" y1="403.6" x2="503.5" y2="403.6" stroke="#000" stroke-width="2.3"/>
<line x1="493.70000000000005" y1="416.6" x2="503.5" y2="416.6" stroke="#000" stroke-width="2.3"/>
<line x1="511.7" y1="395.7" x2="511.7" y2="407.3" stroke="#000" stroke-width="2.5"/>
<line x1="506.8" y1="395.7" x2="516.6" y2="395.7" stroke="#000" stroke-width="2.3"/>
<line x1="506.8" y1="407.3" x2="516.6" y2="407.3" stroke="#000" stroke-width="2.3"/>
<line x1="537" y1="382.4" x2="537" y2="399.2" stroke="#000" stroke-width="2.5"/>
<line x1="532.1" y1="382.4" x2="541.9" y2="382.4" stroke="#000" stroke-width="2.3"/>
<line x1="532.1" y1="399.2" x2="541.9" y2="399.2" stroke="#000" stroke-width="2.3"/>
<line x1="562.5" y1="373" x2="562.5" y2="392.8" stroke="#000" stroke-width="2.5"/>
<line x1="557.6" y1="373" x2="567.4" y2="373" stroke="#000" stroke-width="2.3"/>
<line x1="557.6" y1="392.8" x2="567.4" y2="392.8" stroke="#000" stroke-width="2.3"/>
<line x1="601" y1="363" x2="601" y2="387.4" stroke="#000" stroke-width="2.5"/>
<line x1="596.1" y1="363" x2="605.9" y2="363" stroke="#000" stroke-width="2.3"/>
<line x1="596.1" y1="387.4" x2="605.9" y2="387.4" stroke="#000" stroke-width="2.3"/>
<line x1="664.9" y1="352.1" x2="664.9" y2="381.9" stroke="#000" stroke-width="2.5"/>
<line x1="660.0" y1="352.1" x2="669.8" y2="352.1" stroke="#000" stroke-width="2.3"/>
<line x1="660.0" y1="381.9" x2="669.8" y2="381.9" stroke="#000" stroke-width="2.3"/>
<line x1="728.7" y1="341.9" x2="728.7" y2="378" stroke="#000" stroke-width="2.5"/>
<line x1="723.8000000000001" y1="341.9" x2="733.6" y2="341.9" stroke="#000" stroke-width="2.3"/>
<line x1="723.8000000000001" y1="378" x2="733.6" y2="378" stroke="#000" stroke-width="2.3"/>
<circle cx="473" cy="493" r="4.3" fill="#000"/>
<circle cx="473" cy="490.7" r="4.3" fill="#000"/>
<circle cx="473.6" cy="484.9" r="4.3" fill="#000"/>
<circle cx="474.5" cy="480.5" r="4.3" fill="#000"/>
<circle cx="476" cy="468" r="4.3" fill="#000"/>
<circle cx="477.4" cy="457.3" r="4.3" fill="#000"/>
<circle cx="479.7" cy="441.6" r="4.3" fill="#000"/>
<circle cx="481.8" cy="431.7" r="4.3" fill="#000"/>
<circle cx="486.1" cy="422.4" r="4.3" fill="#000"/>
<circle cx="498.6" cy="410" r="4.3" fill="#000"/>
<circle cx="511.7" cy="401.5" r="4.3" fill="#000"/>
<circle cx="537" cy="391" r="4.3" fill="#000"/>
<circle cx="562.5" cy="382.6" r="4.3" fill="#000"/>
<circle cx="601" cy="375.1" r="4.3" fill="#000"/>
<circle cx="664.9" cy="366.9" r="4.3" fill="#000"/>
<circle cx="728.7" cy="359.7" r="4.3" fill="#000"/>
<rect x="635.4" y="395" width="101.80000000000007" height="101.10000000000002" fill="#fff" stroke="#4a4a4a" stroke-width="1.0"/>
<line x1="635.4" y1="496.1" x2="635.4" y2="494.6" stroke="#333" stroke-width="0.6"/>
<line x1="635.4" y1="395" x2="635.4" y2="396.5" stroke="#333" stroke-width="0.6"/>
<text x="635.4" y="501.5" text-anchor="middle" font-family='"Liberation Sans", sans-serif' font-weight="bold" font-size="3.7" fill="#1a1a1a">400</text>
<line x1="660.85" y1="496.1" x2="660.85" y2="494.6" stroke="#333" stroke-width="0.6"/>
<line x1="660.85" y1="395" x2="660.85" y2="396.5" stroke="#333" stroke-width="0.6"/>
<text x="660.85" y="501.5" text-anchor="middle" font-family='"Liberation Sans", sans-serif' font-weight="bold" font-size="3.7" fill="#1a1a1a">450</text>
<line x1="686.3" y1="496.1" x2="686.3" y2="494.6" stroke="#333" stroke-width="0.6"/>
<line x1="686.3" y1="395" x2="686.3" y2="396.5" stroke="#333" stroke-width="0.6"/>
<text x="686.3" y="501.5" text-anchor="middle" font-family='"Liberation Sans", sans-serif' font-weight="bold" font-size="3.7" fill="#1a1a1a">500</text>
<line x1="711.75" y1="496.1" x2="711.75" y2="494.6" stroke="#333" stroke-width="0.6"/>
<line x1="711.75" y1="395" x2="711.75" y2="396.5" stroke="#333" stroke-width="0.6"/>
<text x="711.75" y="501.5" text-anchor="middle" font-family='"Liberation Sans", sans-serif' font-weight="bold" font-size="3.7" fill="#1a1a1a">550</text>
<line x1="737.2" y1="496.1" x2="737.2" y2="494.6" stroke="#333" stroke-width="0.6"/>
<line x1="737.2" y1="395" x2="737.2" y2="396.5" stroke="#333" stroke-width="0.6"/>
<text x="737.2" y="501.5" text-anchor="middle" font-family='"Liberation Sans", sans-serif' font-weight="bold" font-size="3.7" fill="#1a1a1a">600</text>
<line x1="635.4" y1="496.1" x2="636.9" y2="496.1" stroke="#333" stroke-width="0.6"/>
<line x1="737.2" y1="496.1" x2="735.7" y2="496.1" stroke="#333" stroke-width="0.6"/>
<text x="633.1" y="497.40000000000003" text-anchor="end" font-family='"Liberation Sans", sans-serif' font-weight="bold" font-size="3.3" fill="#1a1a1a">0</text>
<line x1="635.4" y1="478.42517482517485" x2="636.9" y2="478.42517482517485" stroke="#333" stroke-width="0.6"/>
<line x1="737.2" y1="478.42517482517485" x2="735.7" y2="478.42517482517485" stroke="#333" stroke-width="0.6"/>
<text x="633.1" y="479.72517482517486" text-anchor="end" font-family='"Liberation Sans", sans-serif' font-weight="bold" font-size="3.3" fill="#1a1a1a">1 10<tspan dy="-1.3" font-size="2.4">6</tspan></text>
<line x1="635.4" y1="460.7503496503497" x2="636.9" y2="460.7503496503497" stroke="#333" stroke-width="0.6"/>
<line x1="737.2" y1="460.7503496503497" x2="735.7" y2="460.7503496503497" stroke="#333" stroke-width="0.6"/>
<text x="633.1" y="462.0503496503497" text-anchor="end" font-family='"Liberation Sans", sans-serif' font-weight="bold" font-size="3.3" fill="#1a1a1a">2 10<tspan dy="-1.3" font-size="2.4">6</tspan></text>
<line x1="635.4" y1="443.0755244755245" x2="636.9" y2="443.0755244755245" stroke="#333" stroke-width="0.6"/>
<line x1="737.2" y1="443.0755244755245" x2="735.7" y2="443.0755244755245" stroke="#333" stroke-width="0.6"/>
<text x="633.1" y="444.3755244755245" text-anchor="end" font-family='"Liberation Sans", sans-serif' font-weight="bold" font-size="3.3" fill="#1a1a1a">3 10<tspan dy="-1.3" font-size="2.4">6</tspan></text>
<line x1="635.4" y1="425.40069930069933" x2="636.9" y2="425.40069930069933" stroke="#333" stroke-width="0.6"/>
<line x1="737.2" y1="425.40069930069933" x2="735.7" y2="425.40069930069933" stroke="#333" stroke-width="0.6"/>
<text x="633.1" y="426.70069930069934" text-anchor="end" font-family='"Liberation Sans", sans-serif' font-weight="bold" font-size="3.3" fill="#1a1a1a">4 10<tspan dy="-1.3" font-size="2.4">6</tspan></text>
<line x1="635.4" y1="407.72587412587416" x2="636.9" y2="407.72587412587416" stroke="#333" stroke-width="0.6"/>
<line x1="737.2" y1="407.72587412587416" x2="735.7" y2="407.72587412587416" stroke="#333" stroke-width="0.6"/>
<text x="633.1" y="409.02587412587417" text-anchor="end" font-family='"Liberation Sans", sans-serif' font-weight="bold" font-size="3.3" fill="#1a1a1a">5 10<tspan dy="-1.3" font-size="2.4">6</tspan></text>
<path d="M635.40,495.73 L636.26,495.73 L637.11,495.72 L637.97,495.72 L638.82,495.71 L639.68,495.71 L640.53,495.70 L641.39,495.70 L642.24,495.69 L643.10,495.68 L643.95,495.67 L644.81,495.66 L645.67,495.65 L646.52,495.63 L647.38,495.62 L648.23,495.60 L649.09,495.58 L649.94,495.55 L650.80,495.53 L651.65,495.50 L652.51,495.47 L653.36,495.43 L654.22,495.39 L655.08,495.35 L655.93,495.30 L656.79,495.25 L657.64,495.19 L658.50,495.12 L659.35,495.05 L660.21,494.97 L661.06,494.89 L661.92,494.80 L662.77,494.70 L663.63,494.59 L664.49,494.47 L665.34,494.34 L666.20,494.20 L667.05,494.05 L667.91,493.89 L668.76,493.72 L669.62,493.54 L670.47,493.34 L671.33,493.13 L672.18,492.91 L673.04,492.68 L673.90,492.43 L674.75,492.16 L675.61,491.89 L676.46,491.60 L677.32,491.29 L678.17,490.97 L679.03,490.64 L679.88,490.29 L680.74,489.93 L681.59,489.56 L682.45,489.18 L683.31,488.78 L684.16,488.38 L685.02,487.96 L685.87,487.53 L686.73,487.10 L687.58,486.66 L688.44,486.21 L689.29,485.76 L690.15,485.31 L691.01,484.85 L691.86,484.40 L692.72,483.95 L693.57,483.50 L694.43,483.05 L695.28,482.62 L696.14,482.19 L696.99,481.77 L697.85,481.37 L698.70,480.98 L699.56,480.60 L700.42,480.25 L701.27,479.91 L702.13,479.60 L702.98,479.31 L703.84,479.04 L704.69,478.79 L705.55,478.58 L706.40,478.39 L707.26,478.23 L708.11,478.10 L708.97,478.01 L709.83,477.94 L710.68,477.90 L711.54,477.90 L712.39,477.91 L713.25,477.93 L714.10,477.96 L714.96,478.00 L715.81,478.06 L716.67,478.13 L717.52,478.20 L718.38,478.29 L719.24,478.39 L720.09,478.50 L720.95,478.62 L721.80,478.76 L722.66,478.90 L723.51,479.05 L724.37,479.21 L725.22,479.38 L726.08,479.55 L726.93,479.74 L727.79,479.93 L728.65,480.14 L729.50,480.35 L730.36,480.56 L731.21,480.79 L732.07,481.02 L732.92,481.25 L733.78,481.49 L734.63,481.74 L735.49,481.99 L736.34,482.24 L737.20,482.50" fill="none" stroke="#203070" stroke-width="1.0"/>
<path d="M635.40,495.67 L636.26,495.66 L637.11,495.65 L637.97,495.64 L638.82,495.63 L639.68,495.62 L640.53,495.61 L641.39,495.60 L642.24,495.59 L643.10,495.58 L643.95,495.57 L644.81,495.56 L645.67,495.55 L646.52,495.54 L647.38,495.52 L648.23,495.51 L649.09,495.49 L649.94,495.46 L650.80,495.43 L651.65,495.40 L652.51,495.37 L653.36,495.33 L654.22,495.28 L655.08,495.23 L655.93,495.18 L656.79,495.12 L657.64,495.05 L658.50,494.98 L659.35,494.90 L660.21,494.81 L661.06,494.71 L661.92,494.61 L662.77,494.50 L663.63,494.37 L664.49,494.24 L665.34,494.10 L666.20,493.94 L667.05,493.78 L667.91,493.60 L668.76,493.41 L669.62,493.20 L670.47,492.98 L671.33,492.75 L672.18,492.51 L673.04,492.25 L673.90,491.97 L674.75,491.68 L675.61,491.38 L676.46,491.06 L677.32,490.72 L678.17,490.37 L679.03,490.01 L679.88,489.63 L680.74,489.24 L681.59,488.84 L682.45,488.42 L683.31,487.99 L684.16,487.55 L685.02,487.10 L685.87,486.64 L686.73,486.17 L687.58,485.70 L688.44,485.22 L689.29,484.74 L690.15,484.25 L691.01,483.77 L691.86,483.29 L692.72,482.81 L693.57,482.33 L694.43,481.86 L695.28,481.40 L696.14,480.96 L696.99,480.52 L697.85,480.10 L698.70,479.69 L699.56,479.31 L700.42,478.94 L701.27,478.60 L702.13,478.28 L702.98,477.98 L703.84,477.71 L704.69,477.47 L705.55,477.26 L706.40,477.08 L707.26,476.93 L708.11,476.81 L708.97,476.73 L709.83,476.68 L710.68,476.66 L711.54,476.66 L712.39,476.68 L713.25,476.71 L714.10,476.75 L714.96,476.81 L715.81,476.87 L716.67,476.95 L717.52,477.04 L718.38,477.14 L719.24,477.26 L720.09,477.38 L720.95,477.52 L721.80,477.66 L722.66,477.82 L723.51,477.98 L724.37,478.16 L725.22,478.35 L726.08,478.54 L726.93,478.75 L727.79,478.96 L728.65,479.18 L729.50,479.41 L730.36,479.64 L731.21,479.88 L732.07,480.13 L732.92,480.39 L733.78,480.65 L734.63,480.91 L735.49,481.18 L736.34,481.46 L737.20,481.74" fill="none" stroke="#a0c0f0" stroke-width="1.0"/>
<path d="M635.40,495.58 L636.26,495.57 L637.11,495.56 L637.97,495.55 L638.82,495.53 L639.68,495.51 L640.53,495.49 L641.39,495.47 L642.24,495.46 L643.10,495.44 L643.95,495.43 L644.81,495.42 L645.67,495.42 L646.52,495.41 L647.38,495.40 L648.23,495.38 L649.09,495.36 L649.94,495.34 L650.80,495.31 L651.65,495.27 L652.51,495.23 L653.36,495.19 L654.22,495.13 L655.08,495.08 L655.93,495.01 L656.79,494.94 L657.64,494.86 L658.50,494.78 L659.35,494.69 L660.21,494.58 L661.06,494.47 L661.92,494.35 L662.77,494.22 L663.63,494.08 L664.49,493.93 L665.34,493.76 L666.20,493.59 L667.05,493.40 L667.91,493.19 L668.76,492.98 L669.62,492.74 L670.47,492.50 L671.33,492.23 L672.18,491.96 L673.04,491.66 L673.90,491.35 L674.75,491.03 L675.61,490.69 L676.46,490.33 L677.32,489.95 L678.17,489.56 L679.03,489.16 L679.88,488.74 L680.74,488.30 L681.59,487.86 L682.45,487.39 L683.31,486.92 L684.16,486.44 L685.02,485.94 L685.87,485.44 L686.73,484.93 L687.58,484.42 L688.44,483.90 L689.29,483.38 L690.15,482.85 L691.01,482.33 L691.86,481.81 L692.72,481.30 L693.57,480.79 L694.43,480.30 L695.28,479.81 L696.14,479.34 L696.99,478.88 L697.85,478.44 L698.70,478.02 L699.56,477.62 L700.42,477.24 L701.27,476.89 L702.13,476.57 L702.98,476.27 L703.84,476.01 L704.69,475.77 L705.55,475.57 L706.40,475.40 L707.26,475.27 L708.11,475.16 L708.97,475.10 L709.83,475.07 L710.68,475.07 L711.54,475.08 L712.39,475.11 L713.25,475.16 L714.10,475.21 L714.96,475.28 L715.81,475.36 L716.67,475.45 L717.52,475.56 L718.38,475.68 L719.24,475.81 L720.09,475.95 L720.95,476.11 L721.80,476.27 L722.66,476.45 L723.51,476.64 L724.37,476.84 L725.22,477.05 L726.08,477.26 L726.93,477.49 L727.79,477.73 L728.65,477.97 L729.50,478.22 L730.36,478.48 L731.21,478.75 L732.07,479.02 L732.92,479.30 L733.78,479.59 L734.63,479.88 L735.49,480.17 L736.34,480.47 L737.20,480.78" fill="none" stroke="#f0b0c0" stroke-width="1.0"/>
<path d="M635.40,495.42 L636.26,495.41 L637.11,495.39 L637.97,495.36 L638.82,495.33 L639.68,495.30 L640.53,495.26 L641.39,495.23 L642.24,495.20 L643.10,495.18 L643.95,495.17 L644.81,495.16 L645.67,495.16 L646.52,495.16 L647.38,495.15 L648.23,495.14 L649.09,495.12 L649.94,495.09 L650.80,495.06 L651.65,495.01 L652.51,494.96 L653.36,494.90 L654.22,494.83 L655.08,494.75 L655.93,494.67 L656.79,494.58 L657.64,494.48 L658.50,494.37 L659.35,494.25 L660.21,494.12 L661.06,493.97 L661.92,493.82 L662.77,493.65 L663.63,493.47 L664.49,493.28 L665.34,493.07 L666.20,492.85 L667.05,492.61 L667.91,492.35 L668.76,492.08 L669.62,491.79 L670.47,491.48 L671.33,491.16 L672.18,490.81 L673.04,490.45 L673.90,490.07 L674.75,489.68 L675.61,489.26 L676.46,488.83 L677.32,488.37 L678.17,487.90 L679.03,487.42 L679.88,486.92 L680.74,486.40 L681.59,485.87 L682.45,485.32 L683.31,484.77 L684.16,484.20 L685.02,483.63 L685.87,483.04 L686.73,482.46 L687.58,481.86 L688.44,481.27 L689.29,480.67 L690.15,480.08 L691.01,479.50 L691.86,478.92 L692.72,478.34 L693.57,477.79 L694.43,477.24 L695.28,476.71 L696.14,476.20 L696.99,475.71 L697.85,475.24 L698.70,474.80 L699.56,474.38 L700.42,474.00 L701.27,473.64 L702.13,473.32 L702.98,473.03 L703.84,472.78 L704.69,472.56 L705.55,472.38 L706.40,472.25 L707.26,472.15 L708.11,472.08 L708.97,472.06 L709.83,472.07 L710.68,472.09 L711.54,472.13 L712.39,472.18 L713.25,472.25 L714.10,472.33 L714.96,472.43 L715.81,472.54 L716.67,472.66 L717.52,472.80 L718.38,472.96 L719.24,473.13 L720.09,473.31 L720.95,473.50 L721.80,473.71 L722.66,473.92 L723.51,474.15 L724.37,474.40 L725.22,474.65 L726.08,474.91 L726.93,475.18 L727.79,475.47 L728.65,475.76 L729.50,476.06 L730.36,476.36 L731.21,476.68 L732.07,477.00 L732.92,477.33 L733.78,477.66 L734.63,478.00 L735.49,478.34 L736.34,478.69 L737.20,479.04" fill="none" stroke="#e07040" stroke-width="1.0"/>
<path d="M635.40,495.07 L636.26,495.04 L637.11,494.99 L637.97,494.94 L638.82,494.88 L639.68,494.81 L640.53,494.74 L641.39,494.68 L642.24,494.63 L643.10,494.59 L643.95,494.57 L644.81,494.56 L645.67,494.56 L646.52,494.57 L647.38,494.56 L648.23,494.55 L649.09,494.53 L649.94,494.48 L650.80,494.43 L651.65,494.35 L652.51,494.27 L653.36,494.17 L654.22,494.05 L655.08,493.93 L655.93,493.79 L656.79,493.64 L657.64,493.48 L658.50,493.30 L659.35,493.10 L660.21,492.89 L661.06,492.67 L661.92,492.42 L662.77,492.16 L663.63,491.88 L664.49,491.58 L665.34,491.26 L666.20,490.91 L667.05,490.55 L667.91,490.16 L668.76,489.76 L669.62,489.32 L670.47,488.87 L671.33,488.39 L672.18,487.89 L673.04,487.36 L673.90,486.82 L674.75,486.25 L675.61,485.66 L676.46,485.05 L677.32,484.41 L678.17,483.76 L679.03,483.09 L679.88,482.41 L680.74,481.71 L681.59,480.99 L682.45,480.27 L683.31,479.53 L684.16,478.79 L685.02,478.04 L685.87,477.29 L686.73,476.54 L687.58,475.80 L688.44,475.06 L689.29,474.32 L690.15,473.60 L691.01,472.90 L691.86,472.21 L692.72,471.54 L693.57,470.89 L694.43,470.27 L695.28,469.67 L696.14,469.11 L696.99,468.58 L697.85,468.09 L698.70,467.64 L699.56,467.22 L700.42,466.85 L701.27,466.52 L702.13,466.24 L702.98,466.00 L703.84,465.81 L704.69,465.67 L705.55,465.58 L706.40,465.53 L707.26,465.52 L708.11,465.54 L708.97,465.58 L709.83,465.64 L710.68,465.72 L711.54,465.81 L712.39,465.93 L713.25,466.06 L714.10,466.22 L714.96,466.39 L715.81,466.57 L716.67,466.78 L717.52,467.00 L718.38,467.24 L719.24,467.50 L720.09,467.77 L720.95,468.06 L721.80,468.36 L722.66,468.67 L723.51,469.00 L724.37,469.34 L725.22,469.70 L726.08,470.06 L726.93,470.44 L727.79,470.83 L728.65,471.22 L729.50,471.63 L730.36,472.04 L731.21,472.47 L732.07,472.90 L732.92,473.33 L733.78,473.77 L734.63,474.22 L735.49,474.67 L736.34,475.12 L737.20,475.58" fill="none" stroke="#b0d060" stroke-width="1.0"/>
<path d="M635.40,494.79 L636.26,494.74 L637.11,494.68 L637.97,494.61 L638.82,494.52 L639.68,494.43 L640.53,494.33 L641.39,494.24 L642.24,494.16 L643.10,494.11 L643.95,494.08 L644.81,494.07 L645.67,494.07 L646.52,494.07 L647.38,494.06 L648.23,494.05 L649.09,494.01 L649.94,493.95 L650.80,493.87 L651.65,493.77 L652.51,493.65 L653.36,493.51 L654.22,493.35 L655.08,493.18 L655.93,492.99 L656.79,492.79 L657.64,492.56 L658.50,492.32 L659.35,492.06 L660.21,491.78 L661.06,491.47 L661.92,491.15 L662.77,490.80 L663.63,490.43 L664.49,490.03 L665.34,489.61 L666.20,489.17 L667.05,488.69 L667.91,488.20 L668.76,487.67 L669.62,487.12 L670.47,486.54 L671.33,485.93 L672.18,485.30 L673.04,484.64 L673.90,483.96 L674.75,483.25 L675.61,482.52 L676.46,481.77 L677.32,480.99 L678.17,480.20 L679.03,479.39 L679.88,478.57 L680.74,477.73 L681.59,476.88 L682.45,476.02 L683.31,475.16 L684.16,474.29 L685.02,473.43 L685.87,472.56 L686.73,471.71 L687.58,470.86 L688.44,470.03 L689.29,469.21 L690.15,468.41 L691.01,467.64 L691.86,466.89 L692.72,466.17 L693.57,465.48 L694.43,464.83 L695.28,464.21 L696.14,463.64 L696.99,463.11 L697.85,462.63 L698.70,462.19 L699.56,461.80 L700.42,461.47 L701.27,461.19 L702.13,460.96 L702.98,460.78 L703.84,460.66 L704.69,460.59 L705.55,460.57 L706.40,460.59 L707.26,460.63 L708.11,460.69 L708.97,460.77 L709.83,460.87 L710.68,461.00 L711.54,461.15 L712.39,461.32 L713.25,461.51 L714.10,461.73 L714.96,461.96 L715.81,462.21 L716.67,462.49 L717.52,462.78 L718.38,463.09 L719.24,463.42 L720.09,463.76 L720.95,464.13 L721.80,464.51 L722.66,464.90 L723.51,465.31 L724.37,465.73 L725.22,466.16 L726.08,466.61 L726.93,467.07 L727.79,467.54 L728.65,468.02 L729.50,468.51 L730.36,469.00 L731.21,469.51 L732.07,470.02 L732.92,470.54 L733.78,471.06 L734.63,471.58 L735.49,472.11 L736.34,472.65 L737.20,473.18" fill="none" stroke="#a09030" stroke-width="1.0"/>
<path d="M635.40,494.44 L636.26,494.37 L637.11,494.29 L637.97,494.19 L638.82,494.06 L639.68,493.93 L640.53,493.80 L641.39,493.67 L642.24,493.56 L643.10,493.49 L643.95,493.44 L644.81,493.42 L645.67,493.41 L646.52,493.41 L647.38,493.39 L648.23,493.36 L649.09,493.30 L649.94,493.22 L650.80,493.10 L651.65,492.95 L652.51,492.78 L653.36,492.59 L654.22,492.37 L655.08,492.13 L655.93,491.87 L656.79,491.58 L657.64,491.28 L658.50,490.95 L659.35,490.59 L660.21,490.21 L661.06,489.80 L661.92,489.37 L662.77,488.90 L663.63,488.41 L664.49,487.88 L665.34,487.33 L666.20,486.74 L667.05,486.13 L667.91,485.48 L668.76,484.80 L669.62,484.09 L670.47,483.35 L671.33,482.58 L672.18,481.78 L673.04,480.95 L673.90,480.10 L674.75,479.22 L675.61,478.32 L676.46,477.39 L677.32,476.45 L678.17,475.49 L679.03,474.51 L679.88,473.52 L680.74,472.52 L681.59,471.52 L682.45,470.51 L683.31,469.51 L684.16,468.50 L685.02,467.51 L685.87,466.53 L686.73,465.56 L687.58,464.61 L688.44,463.69 L689.29,462.79 L690.15,461.92 L691.01,461.09 L691.86,460.29 L692.72,459.54 L693.57,458.83 L694.43,458.16 L695.28,457.55 L696.14,456.99 L696.99,456.48 L697.85,456.03 L698.70,455.64 L699.56,455.31 L700.42,455.04 L701.27,454.83 L702.13,454.68 L702.98,454.59 L703.84,454.56 L704.69,454.58 L705.55,454.61 L706.40,454.68 L707.26,454.77 L708.11,454.89 L708.97,455.03 L709.83,455.20 L710.68,455.40 L711.54,455.62 L712.39,455.86 L713.25,456.13 L714.10,456.42 L714.96,456.74 L715.81,457.08 L716.67,457.44 L717.52,457.82 L718.38,458.22 L719.24,458.64 L720.09,459.08 L720.95,459.54 L721.80,460.01 L722.66,460.51 L723.51,461.01 L724.37,461.53 L725.22,462.07 L726.08,462.62 L726.93,463.18 L727.79,463.75 L728.65,464.33 L729.50,464.92 L730.36,465.52 L731.21,466.12 L732.07,466.73 L732.92,467.35 L733.78,467.97 L734.63,468.59 L735.49,469.22 L736.34,469.84 L737.20,470.47" fill="none" stroke="#444444" stroke-width="1.0"/>
<path d="M635.40,494.13 L636.26,494.04 L637.11,493.94 L637.97,493.81 L638.82,493.65 L639.68,493.49 L640.53,493.32 L641.39,493.16 L642.24,493.02 L643.10,492.92 L643.95,492.86 L644.81,492.82 L645.67,492.80 L646.52,492.79 L647.38,492.77 L648.23,492.72 L649.09,492.64 L649.94,492.52 L650.80,492.36 L651.65,492.18 L652.51,491.95 L653.36,491.70 L654.22,491.43 L655.08,491.12 L655.93,490.79 L656.79,490.43 L657.64,490.04 L658.50,489.63 L659.35,489.18 L660.21,488.71 L661.06,488.20 L661.92,487.66 L662.77,487.09 L663.63,486.48 L664.49,485.84 L665.34,485.16 L666.20,484.45 L667.05,483.71 L667.91,482.92 L668.76,482.11 L669.62,481.26 L670.47,480.38 L671.33,479.46 L672.18,478.52 L673.04,477.55 L673.90,476.55 L674.75,475.52 L675.61,474.47 L676.46,473.40 L677.32,472.32 L678.17,471.22 L679.03,470.10 L679.88,468.98 L680.74,467.86 L681.59,466.73 L682.45,465.61 L683.31,464.49 L684.16,463.39 L685.02,462.30 L685.87,461.23 L686.73,460.18 L687.58,459.17 L688.44,458.18 L689.29,457.23 L690.15,456.32 L691.01,455.46 L691.86,454.64 L692.72,453.87 L693.57,453.16 L694.43,452.50 L695.28,451.90 L696.14,451.37 L696.99,450.90 L697.85,450.49 L698.70,450.15 L699.56,449.88 L700.42,449.67 L701.27,449.53 L702.13,449.46 L702.98,449.44 L703.84,449.46 L704.69,449.51 L705.55,449.59 L706.40,449.71 L707.26,449.85 L708.11,450.02 L708.97,450.22 L709.83,450.45 L710.68,450.70 L711.54,450.99 L712.39,451.30 L713.25,451.64 L714.10,452.00 L714.96,452.39 L715.81,452.80 L716.67,453.24 L717.52,453.70 L718.38,454.18 L719.24,454.68 L720.09,455.21 L720.95,455.75 L721.80,456.31 L722.66,456.88 L723.51,457.48 L724.37,458.08 L725.22,458.71 L726.08,459.34 L726.93,459.99 L727.79,460.64 L728.65,461.31 L729.50,461.99 L730.36,462.67 L731.21,463.36 L732.07,464.06 L732.92,464.75 L733.78,465.46 L734.63,466.16 L735.49,466.87 L736.34,467.58 L737.20,468.28" fill="none" stroke="#b080d0" stroke-width="1.0"/>
<path d="M635.40,493.74 L636.26,493.63 L637.11,493.50 L637.97,493.33 L638.82,493.14 L639.68,492.93 L640.53,492.71 L641.39,492.51 L642.24,492.34 L643.10,492.20 L643.95,492.11 L644.81,492.06 L645.67,492.02 L646.52,491.99 L647.38,491.95 L648.23,491.88 L649.09,491.76 L649.94,491.60 L650.80,491.39 L651.65,491.15 L652.51,490.86 L653.36,490.53 L654.22,490.17 L655.08,489.78 L655.93,489.36 L656.79,488.90 L657.64,488.41 L658.50,487.88 L659.35,487.32 L660.21,486.73 L661.06,486.09 L661.92,485.42 L662.77,484.71 L663.63,483.96 L664.49,483.17 L665.34,482.34 L666.20,481.47 L667.05,480.56 L667.91,479.62 L668.76,478.64 L669.62,477.62 L670.47,476.56 L671.33,475.47 L672.18,474.36 L673.04,473.21 L673.90,472.03 L674.75,470.84 L675.61,469.62 L676.46,468.38 L677.32,467.13 L678.17,465.87 L679.03,464.60 L679.88,463.33 L680.74,462.07 L681.59,460.81 L682.45,459.56 L683.31,458.32 L684.16,457.11 L685.02,455.92 L685.87,454.76 L686.73,453.64 L687.58,452.55 L688.44,451.51 L689.29,450.51 L690.15,449.57 L691.01,448.68 L691.86,447.85 L692.72,447.08 L693.57,446.38 L694.43,445.75 L695.28,445.18 L696.14,444.69 L696.99,444.27 L697.85,443.92 L698.70,443.65 L699.56,443.45 L700.42,443.32 L701.27,443.26 L702.13,443.26 L702.98,443.29 L703.84,443.36 L704.69,443.47 L705.55,443.60 L706.40,443.77 L707.26,443.98 L708.11,444.22 L708.97,444.49 L709.83,444.79 L710.68,445.12 L711.54,445.49 L712.39,445.88 L713.25,446.30 L714.10,446.75 L714.96,447.23 L715.81,447.74 L716.67,448.27 L717.52,448.82 L718.38,449.40 L719.24,450.00 L720.09,450.63 L720.95,451.27 L721.80,451.93 L722.66,452.61 L723.51,453.31 L724.37,454.02 L725.22,454.75 L726.08,455.49 L726.93,456.24 L727.79,457.00 L728.65,457.77 L729.50,458.55 L730.36,459.33 L731.21,460.13 L732.07,460.92 L732.92,461.72 L733.78,462.52 L734.63,463.32 L735.49,464.13 L736.34,464.93 L737.20,465.73" fill="none" stroke="#f0d040" stroke-width="1.0"/>
<path d="M635.40,493.16 L636.26,493.02 L637.11,492.84 L637.97,492.62 L638.82,492.37 L639.68,492.09 L640.53,491.81 L641.39,491.54 L642.24,491.30 L643.10,491.12 L643.95,490.98 L644.81,490.90 L645.67,490.83 L646.52,490.77 L647.38,490.69 L648.23,490.58 L649.09,490.40 L649.94,490.18 L650.80,489.89 L651.65,489.55 L652.51,489.15 L653.36,488.71 L654.22,488.23 L655.08,487.71 L655.93,487.14 L656.79,486.53 L657.64,485.89 L658.50,485.19 L659.35,484.46 L660.21,483.68 L661.06,482.86 L661.92,481.99 L662.77,481.07 L663.63,480.11 L664.49,479.11 L665.34,478.06 L666.20,476.96 L667.05,475.82 L667.91,474.64 L668.76,473.42 L669.62,472.16 L670.47,470.86 L671.33,469.53 L672.18,468.17 L673.04,466.78 L673.90,465.37 L674.75,463.93 L675.61,462.48 L676.46,461.02 L677.32,459.55 L678.17,458.08 L679.03,456.61 L679.88,455.15 L680.74,453.70 L681.59,452.26 L682.45,450.85 L683.31,449.47 L684.16,448.13 L685.02,446.82 L685.87,445.55 L686.73,444.34 L687.58,443.17 L688.44,442.07 L689.29,441.03 L690.15,440.06 L691.01,439.15 L691.86,438.32 L692.72,437.57 L693.57,436.89 L694.43,436.30 L695.28,435.78 L696.14,435.35 L696.99,435.01 L697.85,434.74 L698.70,434.56 L699.56,434.45 L700.42,434.41 L701.27,434.43 L702.13,434.49 L702.98,434.59 L703.84,434.73 L704.69,434.91 L705.55,435.12 L706.40,435.38 L707.26,435.68 L708.11,436.01 L708.97,436.38 L709.83,436.79 L710.68,437.23 L711.54,437.71 L712.39,438.22 L713.25,438.76 L714.10,439.34 L714.96,439.95 L715.81,440.59 L716.67,441.25 L717.52,441.94 L718.38,442.66 L719.24,443.40 L720.09,444.17 L720.95,444.96 L721.80,445.76 L722.66,446.59 L723.51,447.43 L724.37,448.29 L725.22,449.17 L726.08,450.06 L726.93,450.95 L727.79,451.86 L728.65,452.78 L729.50,453.71 L730.36,454.64 L731.21,455.57 L732.07,456.51 L732.92,457.45 L733.78,458.39 L734.63,459.33 L735.49,460.27 L736.34,461.20 L737.20,462.13" fill="none" stroke="#5a5a30" stroke-width="1.0"/>
<path d="M635.40,492.91 L636.26,492.75 L637.11,492.55 L637.97,492.31 L638.82,492.04 L639.68,491.73 L640.53,491.42 L641.39,491.12 L642.24,490.86 L643.10,490.65 L643.95,490.50 L644.81,490.39 L645.67,490.32 L646.52,490.24 L647.38,490.15 L648.23,490.01 L649.09,489.81 L649.94,489.55 L650.80,489.23 L651.65,488.85 L652.51,488.41 L653.36,487.92 L654.22,487.38 L655.08,486.80 L655.93,486.17 L656.79,485.50 L657.64,484.79 L658.50,484.03 L659.35,483.22 L660.21,482.36 L661.06,481.46 L661.92,480.51 L662.77,479.51 L663.63,478.46 L664.49,477.36 L665.34,476.22 L666.20,475.03 L667.05,473.79 L667.91,472.51 L668.76,471.19 L669.62,469.83 L670.47,468.44 L671.33,467.01 L672.18,465.55 L673.04,464.06 L673.90,462.55 L674.75,461.02 L675.61,459.48 L676.46,457.93 L677.32,456.37 L678.17,454.81 L679.03,453.26 L679.88,451.73 L680.74,450.20 L681.59,448.70 L682.45,447.23 L683.31,445.79 L684.16,444.39 L685.02,443.04 L685.87,441.74 L686.73,440.49 L687.58,439.30 L688.44,438.17 L689.29,437.11 L690.15,436.13 L691.01,435.22 L691.86,434.39 L692.72,433.64 L693.57,432.98 L694.43,432.40 L695.28,431.91 L696.14,431.50 L696.99,431.18 L697.85,430.94 L698.70,430.79 L699.56,430.71 L700.42,430.71 L701.27,430.74 L702.13,430.82 L702.98,430.95 L703.84,431.11 L704.69,431.32 L705.55,431.57 L706.40,431.87 L707.26,432.20 L708.11,432.57 L708.97,432.98 L709.83,433.43 L710.68,433.92 L711.54,434.45 L712.39,435.01 L713.25,435.60 L714.10,436.23 L714.96,436.89 L715.81,437.58 L716.67,438.30 L717.52,439.05 L718.38,439.83 L719.24,440.63 L720.09,441.45 L720.95,442.30 L721.80,443.17 L722.66,444.06 L723.51,444.96 L724.37,445.88 L725.22,446.82 L726.08,447.77 L726.93,448.73 L727.79,449.70 L728.65,450.68 L729.50,451.66 L730.36,452.65 L731.21,453.65 L732.07,454.65 L732.92,455.64 L733.78,456.64 L734.63,457.64 L735.49,458.63 L736.34,459.62 L737.20,460.61" fill="none" stroke="#c8d4e4" stroke-width="1.0"/>
<path d="M635.40,492.46 L636.26,492.27 L637.11,492.04 L637.97,491.76 L638.82,491.43 L639.68,491.07 L640.53,490.70 L641.39,490.35 L642.24,490.04 L643.10,489.79 L643.95,489.61 L644.81,489.48 L645.67,489.37 L646.52,489.27 L647.38,489.15 L648.23,488.97 L649.09,488.73 L649.94,488.42 L650.80,488.03 L651.65,487.57 L652.51,487.05 L653.36,486.47 L654.22,485.83 L655.08,485.15 L655.93,484.41 L656.79,483.63 L657.64,482.79 L658.50,481.90 L659.35,480.96 L660.21,479.96 L661.06,478.92 L661.92,477.82 L662.77,476.66 L663.63,475.46 L664.49,474.20 L665.34,472.89 L666.20,471.53 L667.05,470.13 L667.91,468.67 L668.76,467.18 L669.62,465.65 L670.47,464.07 L671.33,462.47 L672.18,460.84 L673.04,459.18 L673.90,457.50 L674.75,455.81 L675.61,454.10 L676.46,452.39 L677.32,450.68 L678.17,448.98 L679.03,447.29 L679.88,445.62 L680.74,443.97 L681.59,442.36 L682.45,440.78 L683.31,439.24 L684.16,437.75 L685.02,436.32 L685.87,434.94 L686.73,433.64 L687.58,432.40 L688.44,431.23 L689.29,430.14 L690.15,429.14 L691.01,428.22 L691.86,427.38 L692.72,426.64 L693.57,425.99 L694.43,425.44 L695.28,424.97 L696.14,424.60 L696.99,424.32 L697.85,424.13 L698.70,424.02 L699.56,423.99 L700.42,424.01 L701.27,424.08 L702.13,424.20 L702.98,424.37 L703.84,424.58 L704.69,424.84 L705.55,425.15 L706.40,425.50 L707.26,425.89 L708.11,426.34 L708.97,426.82 L709.83,427.35 L710.68,427.91 L711.54,428.52 L712.39,429.17 L713.25,429.85 L714.10,430.57 L714.96,431.32 L715.81,432.11 L716.67,432.93 L717.52,433.78 L718.38,434.66 L719.24,435.56 L720.09,436.49 L720.95,437.45 L721.80,438.42 L722.66,439.42 L723.51,440.43 L724.37,441.46 L725.22,442.51 L726.08,443.57 L726.93,444.64 L727.79,445.72 L728.65,446.81 L729.50,447.91 L730.36,449.01 L731.21,450.11 L732.07,451.21 L732.92,452.32 L733.78,453.42 L734.63,454.52 L735.49,455.62 L736.34,456.71 L737.20,457.79" fill="none" stroke="#8cb050" stroke-width="1.0"/>
<path d="M635.40,492.08 L636.26,491.87 L637.11,491.61 L637.97,491.29 L638.82,490.92 L639.68,490.52 L640.53,490.11 L641.39,489.71 L642.24,489.36 L643.10,489.08 L643.95,488.86 L644.81,488.70 L645.67,488.58 L646.52,488.46 L647.38,488.31 L648.23,488.11 L649.09,487.82 L649.94,487.46 L650.80,487.02 L651.65,486.50 L652.51,485.91 L653.36,485.26 L654.22,484.54 L655.08,483.77 L655.93,482.94 L656.79,482.06 L657.64,481.12 L658.50,480.13 L659.35,479.08 L660.21,477.97 L661.06,476.81 L661.92,475.58 L662.77,474.30 L663.63,472.97 L664.49,471.58 L665.34,470.13 L666.20,468.64 L667.05,467.09 L667.91,465.50 L668.76,463.86 L669.62,462.19 L670.47,460.47 L671.33,458.73 L672.18,456.95 L673.04,455.15 L673.90,453.34 L674.75,451.51 L675.61,449.67 L676.46,447.84 L677.32,446.00 L678.17,444.18 L679.03,442.38 L679.88,440.60 L680.74,438.85 L681.59,437.14 L682.45,435.47 L683.31,433.85 L684.16,432.29 L685.02,430.79 L685.87,429.36 L686.73,427.99 L687.58,426.71 L688.44,425.51 L689.29,424.39 L690.15,423.36 L691.01,422.43 L691.86,421.59 L692.72,420.85 L693.57,420.20 L694.43,419.65 L695.28,419.20 L696.14,418.85 L696.99,418.59 L697.85,418.43 L698.70,418.34 L699.56,418.33 L700.42,418.38 L701.27,418.47 L702.13,418.62 L702.98,418.82 L703.84,419.06 L704.69,419.36 L705.55,419.71 L706.40,420.11 L707.26,420.56 L708.11,421.05 L708.97,421.59 L709.83,422.18 L710.68,422.81 L711.54,423.48 L712.39,424.20 L713.25,424.95 L714.10,425.74 L714.96,426.57 L715.81,427.44 L716.67,428.34 L717.52,429.27 L718.38,430.23 L719.24,431.22 L720.09,432.24 L720.95,433.28 L721.80,434.35 L722.66,435.43 L723.51,436.54 L724.37,437.66 L725.22,438.80 L726.08,439.95 L726.93,441.12 L727.79,442.29 L728.65,443.47 L729.50,444.66 L730.36,445.85 L731.21,447.05 L732.07,448.24 L732.92,449.44 L733.78,450.63 L734.63,451.82 L735.49,453.00 L736.34,454.17 L737.20,455.34" fill="none" stroke="#c0448a" stroke-width="1.0"/>
<path d="M635.40,491.75 L636.26,491.52 L637.11,491.23 L637.97,490.88 L638.82,490.48 L639.68,490.04 L640.53,489.59 L641.39,489.16 L642.24,488.77 L643.10,488.46 L643.95,488.22 L644.81,488.04 L645.67,487.90 L646.52,487.76 L647.38,487.59 L648.23,487.36 L649.09,487.04 L649.94,486.64 L650.80,486.15 L651.65,485.58 L652.51,484.93 L653.36,484.22 L654.22,483.43 L655.08,482.59 L655.93,481.68 L656.79,480.72 L657.64,479.70 L658.50,478.61 L659.35,477.47 L660.21,476.26 L661.06,475.00 L661.92,473.67 L662.77,472.28 L663.63,470.84 L664.49,469.34 L665.34,467.78 L666.20,466.16 L667.05,464.50 L667.91,462.79 L668.76,461.03 L669.62,459.23 L670.47,457.40 L671.33,455.53 L672.18,453.64 L673.04,451.72 L673.90,449.79 L674.75,447.84 L675.61,445.89 L676.46,443.95 L677.32,442.01 L678.17,440.08 L679.03,438.18 L679.88,436.31 L680.74,434.47 L681.59,432.68 L682.45,430.93 L683.31,429.24 L684.16,427.61 L685.02,426.05 L685.87,424.56 L686.73,423.15 L687.58,421.83 L688.44,420.59 L689.29,419.44 L690.15,418.39 L691.01,417.44 L691.86,416.59 L692.72,415.84 L693.57,415.19 L694.43,414.64 L695.28,414.20 L696.14,413.86 L696.99,413.61 L697.85,413.46 L698.70,413.39 L699.56,413.39 L700.42,413.44 L701.27,413.56 L702.13,413.72 L702.98,413.94 L703.84,414.22 L704.69,414.55 L705.55,414.93 L706.40,415.37 L707.26,415.86 L708.11,416.39 L708.97,416.98 L709.83,417.62 L710.68,418.30 L711.54,419.03 L712.39,419.80 L713.25,420.61 L714.10,421.47 L714.96,422.36 L715.81,423.29 L716.67,424.26 L717.52,425.26 L718.38,426.30 L719.24,427.36 L720.09,428.45 L720.95,429.57 L721.80,430.71 L722.66,431.88 L723.51,433.06 L724.37,434.26 L725.22,435.48 L726.08,436.71 L726.93,437.96 L727.79,439.21 L728.65,440.47 L729.50,441.74 L730.36,443.01 L731.21,444.29 L732.07,445.56 L732.92,446.84 L733.78,448.11 L734.63,449.37 L735.49,450.63 L736.34,451.88 L737.20,453.13" fill="none" stroke="#6a4aa8" stroke-width="1.0"/>
<path d="M635.40,491.34 L636.26,491.09 L637.11,490.77 L637.97,490.38 L638.82,489.94 L639.68,489.45 L640.53,488.95 L641.39,488.47 L642.24,488.04 L643.10,487.69 L643.95,487.42 L644.81,487.22 L645.67,487.06 L646.52,486.90 L647.38,486.71 L648.23,486.44 L649.09,486.09 L649.94,485.65 L650.80,485.10 L651.65,484.46 L652.51,483.74 L653.36,482.95 L654.22,482.08 L655.08,481.15 L655.93,480.15 L656.79,479.09 L657.64,477.96 L658.50,476.77 L659.35,475.51 L660.21,474.19 L661.06,472.80 L661.92,471.35 L662.77,469.83 L663.63,468.25 L664.49,466.61 L665.34,464.91 L666.20,463.16 L667.05,461.35 L667.91,459.49 L668.76,457.59 L669.62,455.64 L670.47,453.66 L671.33,451.64 L672.18,449.60 L673.04,447.54 L673.90,445.46 L674.75,443.38 L675.61,441.29 L676.46,439.21 L677.32,437.14 L678.17,435.09 L679.03,433.07 L679.88,431.08 L680.74,429.13 L681.59,427.23 L682.45,425.38 L683.31,423.60 L684.16,421.89 L685.02,420.25 L685.87,418.69 L686.73,417.22 L687.58,415.83 L688.44,414.54 L689.29,413.36 L690.15,412.27 L691.01,411.29 L691.86,410.41 L692.72,409.64 L693.57,408.98 L694.43,408.43 L695.28,407.99 L696.14,407.65 L696.99,407.41 L697.85,407.26 L698.70,407.20 L699.56,407.21 L700.42,407.27 L701.27,407.40 L702.13,407.59 L702.98,407.83 L703.84,408.14 L704.69,408.50 L705.55,408.92 L706.40,409.40 L707.26,409.93 L708.11,410.52 L708.97,411.16 L709.83,411.86 L710.68,412.60 L711.54,413.39 L712.39,414.23 L713.25,415.12 L714.10,416.05 L714.96,417.02 L715.81,418.03 L716.67,419.08 L717.52,420.17 L718.38,421.29 L719.24,422.44 L720.09,423.63 L720.95,424.84 L721.80,426.07 L722.66,427.34 L723.51,428.62 L724.37,429.92 L725.22,431.23 L726.08,432.57 L726.93,433.91 L727.79,435.27 L728.65,436.63 L729.50,438.00 L730.36,439.37 L731.21,440.74 L732.07,442.12 L732.92,443.49 L733.78,444.86 L734.63,446.22 L735.49,447.58 L736.34,448.93 L737.20,450.26" fill="none" stroke="#5a7ed0" stroke-width="1.0"/>
<path d="M635.40,491.01 L636.26,490.73 L637.11,490.39 L637.97,489.97 L638.82,489.49 L639.68,488.97 L640.53,488.43 L641.39,487.91 L642.24,487.45 L643.10,487.07 L643.95,486.78 L644.81,486.56 L645.67,486.38 L646.52,486.20 L647.38,485.99 L648.23,485.70 L649.09,485.32 L649.94,484.83 L650.80,484.24 L651.65,483.56 L652.51,482.78 L653.36,481.92 L654.22,480.99 L655.08,479.98 L655.93,478.91 L656.79,477.76 L657.64,476.55 L658.50,475.27 L659.35,473.92 L660.21,472.50 L661.06,471.02 L661.92,469.46 L662.77,467.84 L663.63,466.15 L664.49,464.40 L665.34,462.59 L666.20,460.72 L667.05,458.79 L667.91,456.82 L668.76,454.79 L669.62,452.73 L670.47,450.62 L671.33,448.49 L672.18,446.33 L673.04,444.14 L673.90,441.95 L674.75,439.75 L675.61,437.55 L676.46,435.36 L677.32,433.18 L678.17,431.03 L679.03,428.90 L679.88,426.82 L680.74,424.78 L681.59,422.79 L682.45,420.86 L683.31,419.00 L684.16,417.22 L685.02,415.51 L685.87,413.89 L686.73,412.36 L687.58,410.93 L688.44,409.60 L689.29,408.37 L690.15,407.25 L691.01,406.24 L691.86,405.34 L692.72,404.55 L693.57,403.88 L694.43,403.32 L695.28,402.86 L696.14,402.52 L696.99,402.28 L697.85,402.13 L698.70,402.07 L699.56,402.08 L700.42,402.15 L701.27,402.29 L702.13,402.49 L702.98,402.75 L703.84,403.08 L704.69,403.47 L705.55,403.92 L706.40,404.42 L707.26,404.99 L708.11,405.62 L708.97,406.30 L709.83,407.04 L710.68,407.83 L711.54,408.68 L712.39,409.57 L713.25,410.51 L714.10,411.50 L714.96,412.54 L715.81,413.61 L716.67,414.73 L717.52,415.89 L718.38,417.08 L719.24,418.31 L720.09,419.57 L720.95,420.85 L721.80,422.17 L722.66,423.51 L723.51,424.87 L724.37,426.25 L725.22,427.65 L726.08,429.06 L726.93,430.49 L727.79,431.93 L728.65,433.37 L729.50,434.83 L730.36,436.28 L731.21,437.74 L732.07,439.20 L732.92,440.66 L733.78,442.11 L734.63,443.55 L735.49,444.99 L736.34,446.42 L737.20,447.83" fill="none" stroke="#2f6a40" stroke-width="1.0"/>
</svg></body></html>
